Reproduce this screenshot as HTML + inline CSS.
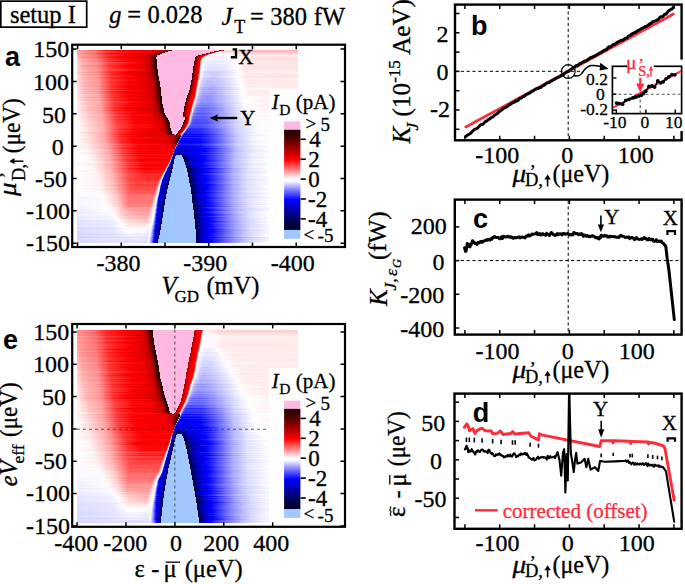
<!DOCTYPE html>
<html><head><meta charset="utf-8"><style>
html,body{margin:0;padding:0;background:#fff;width:685px;height:584px;overflow:hidden}
svg{position:absolute;left:0;top:0}
i{position:absolute;height:1px;display:block}
text{font-family:"Liberation Serif",serif;fill:#000;stroke:currentColor;stroke-width:0.3px}
</style></head><body>
<i style="top:50px;left:77px;width:221px;background:linear-gradient(90deg,#ffa0a0 0px,#ff8686 6.5px,#ff6e6e 16.5px,#ff2424 28.5px,#fc0000 41.5px,#e10000 79.5px,#bd0000 86.5px,#930000 89.5px,#5d0000 91.5px,#300 92.5px,#1c0000 93.5px,#1c0000 94.5px,#ffb8e2 95.5px,#ffb8e2 141.5px,#340000 142.5px,#840000 143.5px,#b40000 144.5px,#d20000 145.5px,#ff2424 146.5px,#ffd0d0 147.5px,#fffcfc 148.5px,#ffd6d6 150.5px,#ffcbcb 161.5px,#ffb7b7 167.5px,#ffb7b7 221px)"></i>
<i style="top:51px;left:77px;width:221px;background:linear-gradient(90deg,#ffa9a9 0px,#ff9090 6.5px,#f77 17.5px,#ff3535 29.5px,#ff0303 51.5px,#f30000 74.5px,#d60000 81.5px,#a60000 85.5px,#730000 87.5px,#1c0000 89.5px,#1c0000 90.5px,#ffb8e2 91.5px,#ffb8e2 136.5px,#1c0000 137.5px,#750000 138.5px,#ab0000 139.5px,#c00 140.5px,#fc0000 141.5px,#ffadad 142.5px,#fefeff 143.5px,#ffd6d6 146.5px,#ffcfcf 161.5px,#fbb 167.5px,#fbb 221px)"></i>
<i style="top:52px;left:77px;width:221px;background:linear-gradient(90deg,#ffb3b3 0px,#ff9a9a 6.5px,#ff8484 17.5px,#ff4242 30.5px,#ff1414 52.5px,#f80000 73.5px,#d70000 79.5px,#ad0000 82.5px,#700 84.5px,#1c0000 86.5px,#1c0000 87.5px,#ffb8e2 88.5px,#ffb8e2 132.5px,#420000 133.5px,#8d0000 134.5px,#ba0000 135.5px,#d50000 136.5px,#ff0909 137.5px,#ffb6b6 138.5px,#fcfcff 139.5px,#fff8f8 140.5px,#ffe3e3 142.5px,#ffdada 161.5px,#ffc6c6 167.5px,#ffc6c6 221px)"></i>
<i style="top:53px;left:77px;width:221px;background:linear-gradient(90deg,#ffa1a1 0px,#ff7f7f 5.5px,#ff6161 17.5px,#ff0e0e 29.5px,#fa0000 35.5px,#df0000 57.5px,#c00 71.5px,#a70000 77.5px,#760000 80.5px,#1c0000 83.5px,#1c0000 84.5px,#ffb8e2 85.5px,#ffb8e2 128.5px,#420000 129.5px,#8d0000 130.5px,#ba0000 131.5px,#e50000 133.5px,#ff4949 134.5px,#ffe3e3 135.5px,#fefeff 136.5px,#fff2f2 139.5px,#ffe5e5 161.5px,#ffd1d1 167.5px,#ffd1d1 221px)"></i>
<i style="top:54px;left:77px;width:221px;background:linear-gradient(90deg,#ffb8b8 0px,#f99 5.5px,#ff7b7b 18.5px,#ff3434 30.5px,#f00 51.5px,#ec0000 68.5px,#c90000 74.5px,#9e0000 77.5px,#600 79.5px,#3a0000 80.5px,#1c0000 81.5px,#1c0000 82.5px,#ffb8e2 83.5px,#ffb8e2 124.5px,#420000 125.5px,#8d0000 126.5px,#ba0000 127.5px,#e50000 129.5px,#f80000 130.5px,#ff8585 131.5px,#fffcfc 132.5px,#fefeff 150.5px,#fff5f5 161.5px,#ffe0e0 167.5px,#ffe0e0 221px)"></i>
<i style="top:55px;left:77px;width:221px;background:linear-gradient(90deg,#ffb9b9 0px,#ff9898 5.5px,#ff7b7b 18.5px,#f33 30.5px,#fd0000 50.5px,#e90000 66.5px,#c40000 72.5px,#950000 75.5px,#570000 77.5px,#260000 78.5px,#1c0000 79.5px,#ffb8e2 80.5px,#ffb8e2 120.5px,#420000 121.5px,#8d0000 122.5px,#ba0000 123.5px,#e50000 125.5px,#f60000 127.5px,#ff3636 128.5px,#ffcdcd 129.5px,#fdfdff 130.5px,#f1f1ff 143.5px,#fffafa 161.5px,#ffe6e6 167.5px,#ffe5e5 221px)"></i>
<i style="top:56px;left:77px;width:221px;background:linear-gradient(90deg,#ffbdbd 0px,#ff9797 5.5px,#ff7979 18.5px,#ff2525 31.5px,#fc0000 45.5px,#de0000 66.5px,#bf0000 71.5px,#940000 74.5px,#5c0000 76.5px,#300000 77.5px,#1c0000 78.5px,#1c0000 79.5px,#ffb8e2 80.5px,#ffb8e2 118.5px,#4a0000 119.5px,#910000 120.5px,#bc0000 121.5px,#e60000 123.5px,#ff0909 126.5px,#ff9494 127.5px,#fffefe 128.5px,#ebebff 138.5px,#fffbfb 161.5px,#ffe6e6 167.5px,#ffe5e5 221px)"></i>
<i style="top:57px;left:77px;width:221px;background:linear-gradient(90deg,#ffbebe 0px,#ff9595 5.5px,#ff7070 19.5px,#ff1e1e 31.5px,#fb0000 42.5px,#d70000 66.5px,#b70000 71.5px,#8b0000 74.5px,#500000 76.5px,#200 77.5px,#1c0000 78.5px,#ffb8e2 79.5px,#ffb8e2 117.5px,#320000 118.5px,#830000 119.5px,#b40000 120.5px,#e30000 122.5px,#f50000 124.5px,#ff5353 125.5px,#ffe4e4 126.5px,#fafaff 127.5px,#e7e7ff 136.5px,#fffdfd 161.5px,#ffe8e8 167.5px,#ffe7e7 221px)"></i>
<i style="top:58px;left:77px;width:221px;background:linear-gradient(90deg,#ffc8c8 0px,#ffa0a0 5.5px,#ff7f7f 19.5px,#ff3232 31.5px,#fd0000 50.5px,#e40000 66.5px,#c50000 71.5px,#900 74.5px,#5f0000 76.5px,#320000 77.5px,#1c0000 78.5px,#ffb8e2 79.5px,#ffb8e2 117.5px,#450000 118.5px,#8e0000 119.5px,#b00 120.5px,#e60000 122.5px,#f00000 123.5px,#ff5252 124.5px,#ffe5e5 125.5px,#fffbfb 126.5px,#f1f1ff 141.5px,#fffcfc 157.5px,#ffdede 168.5px,#ffdede 221px)"></i>
<i style="top:59px;left:77px;width:221px;background:linear-gradient(90deg,#ffd0d0 0px,#ffa3a3 6.5px,#ff8686 19.5px,#ff3434 32.5px,#fd0000 52.5px,#e70000 66.5px,#c80000 71.5px,#9d0000 74.5px,#640000 76.5px,#370000 77.5px,#1c0000 78.5px,#1c0000 79.5px,#ffb8e2 80.5px,#ffb8e2 117.5px,#570000 118.5px,#900 119.5px,#c10000 120.5px,#ff0101 123.5px,#ff9898 124.5px,#fff 125.5px,#ececff 136.5px,#fffbfb 160.5px,#ffe2e2 167.5px,#ffe2e2 221px)"></i>
<i style="top:60px;left:77px;width:221px;background:linear-gradient(90deg,#ffd5d5 0px,#ffa8a8 6.5px,#f88 20.5px,#ff3b3b 32.5px,#f00 55.5px,#e80000 67.5px,#c30000 72.5px,#8b0000 75.5px,#1c0000 78.5px,#1c0000 79.5px,#ffb8e2 80.5px,#ffb8e2 117.5px,#600 118.5px,#a20000 119.5px,#c70000 120.5px,#ea0000 122.5px,#ff3a3a 123.5px,#ffd6d6 124.5px,#fffefe 125.5px,#ececff 134.5px,#fffcfc 160.5px,#ffe3e3 167.5px,#ffe2e2 221px)"></i>
<i style="top:61px;left:77px;width:221px;background:linear-gradient(90deg,#ffd1d1 0px,#ffa1a1 6.5px,#ff7e7e 20.5px,#ff2b2b 32.5px,#fc0000 48.5px,#e00000 66.5px,#c20000 71.5px,#970000 74.5px,#600000 76.5px,#340000 77.5px,#1c0000 78.5px,#1c0000 79.5px,#ffb8e2 80.5px,#ffb8e2 116.5px,#1c0000 117.5px,#750000 118.5px,#ab0000 119.5px,#c00 120.5px,#e00 122.5px,#f66 123.5px,#fff1f1 124.5px,#fdfdff 125.5px,#e8e8ff 133.5px,#f2f2ff 149.5px,#fffdfd 160.5px,#ffe4e4 167.5px,#ffe3e3 221px)"></i>
<i style="top:62px;left:77px;width:221px;background:linear-gradient(90deg,#ffd5d5 0px,#ffaeae 6.5px,#ff9191 20.5px,#ff4b4b 32.5px,#fc0000 65.5px,#db0000 71.5px,#b10000 74.5px,#7a0000 76.5px,#1c0000 78.5px,#1c0000 79.5px,#ffb8e2 80.5px,#ffb8e2 116.5px,#300000 117.5px,#810000 118.5px,#b30000 119.5px,#e30000 121.5px,#f30000 122.5px,#f77 123.5px,#fff8f8 124.5px,#eaeaff 129.5px,#ebebff 146.5px,#fffafa 162.5px,#ffeaea 168.5px,#ffe9e9 221px)"></i>
<i style="top:63px;left:77px;width:221px;background:linear-gradient(90deg,#ffd6d6 0px,#ffacac 6.5px,#ff8e8e 20.5px,#ff4343 32.5px,#ff0404 58.5px,#e90000 68.5px,#c90000 72.5px,#930000 75.5px,#4a0000 77.5px,#1c0000 78.5px,#1c0000 79.5px,#ffb8e2 80.5px,#ffb8e2 116.5px,#430000 117.5px,#8d0000 118.5px,#ba0000 119.5px,#e60000 121.5px,#f90000 122.5px,#f88 123.5px,#fffcfc 124.5px,#e9e9ff 133.5px,#f6f6ff 151.5px,#fffdfd 160.5px,#ffe3e3 167.5px,#ffe3e3 221px)"></i>
<i style="top:64px;left:77px;width:221px;background:linear-gradient(90deg,#ffdada 0px,#ffadad 6.5px,#ff8c8c 20.5px,#ff3c3c 32.5px,#f00 54.5px,#e70000 67.5px,#c30000 72.5px,#8e0000 75.5px,#460000 77.5px,#1c0000 78.5px,#1c0000 79.5px,#ffb8e2 80.5px,#ffb8e2 116.5px,#500 117.5px,#980000 118.5px,#c00000 119.5px,#ff0101 122.5px,#f99 123.5px,#fff 124.5px,#e6e6ff 130.5px,#e8e8ff 145.5px,#fffcfc 161.5px,#ffe6e6 167.5px,#ffe5e5 221px)"></i>
<i style="top:65px;left:77px;width:221px;background:linear-gradient(90deg,#ffd0d0 0px,#ffa2a2 6.5px,#ff8282 20.5px,#ff2f2f 32.5px,#fc0000 49.5px,#df0000 67.5px,#b00 72.5px,#870000 75.5px,#1c0000 78.5px,#1c0000 79.5px,#ffb8e2 80.5px,#ffb8e2 116.5px,#650000 117.5px,#a10000 118.5px,#c60000 119.5px,#ea0000 121.5px,#ff0d0d 122.5px,#ffa9a9 123.5px,#fffdfd 124.5px,#e5e5ff 131.5px,#eaeaff 146.5px,#fffdfd 160.5px,#ffe3e3 167.5px,#ffe3e3 221px)"></i>
<i style="top:66px;left:77px;width:221px;background:linear-gradient(90deg,#ffd2d2 0px,#ffa3a3 6.5px,#ff8383 20.5px,#ff2e2e 32.5px,#fd0000 48.5px,#df0000 67.5px,#bc0000 72.5px,#8b0000 75.5px,#480000 77.5px,#1c0000 78.5px,#1c0000 79.5px,#ffb8e2 80.5px,#ffb8e2 115.5px,#1c0000 116.5px,#700000 117.5px,#a80000 118.5px,#ca0000 119.5px,#ec0000 121.5px,#ff1b1b 122.5px,#ffb8b8 123.5px,#fdfdff 124.5px,#e2e2ff 129.5px,#dfdfff 143.5px,#fffdfd 161.5px,#ffe7e7 167.5px,#ffe6e6 221px)"></i>
<i style="top:67px;left:77px;width:221px;background:linear-gradient(90deg,#ffd7d7 0px,#ffabab 6.5px,#ff8c8c 20.5px,#ff3838 33.5px,#fe0000 55.5px,#e50000 68.5px,#bd0000 73.5px,#7f0000 76.5px,#5b0000 77.5px,#2a0000 78.5px,#1c0000 79.5px,#ffb8e2 80.5px,#ffb8e2 115.5px,#230000 116.5px,#7a0000 117.5px,#ae0000 118.5px,#ce0000 119.5px,#ed0000 121.5px,#ff2a2a 122.5px,#ffc6c6 123.5px,#fefeff 124.5px,#e5e5ff 129.5px,#e4e4ff 144.5px,#fffefe 160.5px,#ffe4e4 167.5px,#ffe3e3 221px)"></i>
<i style="top:68px;left:77px;width:221px;background:linear-gradient(90deg,#ffdbdb 0px,#ffaeae 6.5px,#ff8f8f 20.5px,#ff3737 33.5px,#fe0000 53.5px,#e80000 67.5px,#c80000 72.5px,#9c0000 75.5px,#610000 77.5px,#300 78.5px,#1c0000 79.5px,#ffb8e2 80.5px,#ffb8e2 115.5px,#300 116.5px,#830000 117.5px,#b40000 118.5px,#e30000 120.5px,#e00 121.5px,#ff3939 122.5px,#ffd4d4 123.5px,#fcfcff 124.5px,#e0e0ff 129.5px,#dedeff 143.5px,#fffcfc 161.5px,#ffe5e5 167.5px,#ffe5e5 221px)"></i>
<i style="top:69px;left:77px;width:221px;background:linear-gradient(90deg,#ffdbdb 0px,#ffb0b0 7.5px,#ff9797 20.5px,#ff4949 33.5px,#ff0d0d 59.5px,#f70000 67.5px,#ce0000 73.5px,#970000 76.5px,#4c0000 78.5px,#1c0000 79.5px,#1c0000 80.5px,#ffb8e2 81.5px,#ffb8e2 115.5px,#420000 116.5px,#8c0000 117.5px,#b90000 118.5px,#e50000 120.5px,#ef0000 121.5px,#ff4949 122.5px,#ffdfdf 123.5px,#fcfcff 124.5px,#e3e3ff 130.5px,#e6e6ff 145.5px,#fffafa 161.5px,#ffe4e4 167.5px,#ffe4e4 221px)"></i>
<i style="top:70px;left:77px;width:221px;background:linear-gradient(90deg,#ffdcdc 0px,#ffb3b3 6.5px,#ff9696 20.5px,#ff4343 33.5px,#ff0606 58.5px,#e00 68.5px,#ca0000 73.5px,#960000 76.5px,#4e0000 78.5px,#1c0000 79.5px,#1c0000 80.5px,#ffb8e2 81.5px,#ffb8e2 115.5px,#4f0000 116.5px,#940000 117.5px,#be0000 118.5px,#e70000 120.5px,#f10000 121.5px,#ff5e5e 122.5px,#ffecec 123.5px,#f4f4ff 124.5px,#dbdbff 129.5px,#dadaff 143.5px,#fffbfb 162.5px,#ffeaea 168.5px,#ffe9e9 221px)"></i>
<i style="top:71px;left:77px;width:221px;background:linear-gradient(90deg,#ffe1e1 0px,#ffb2b2 6.5px,#ff9191 20.5px,#f33 33.5px,#fc0000 51.5px,#e10000 68.5px,#be0000 73.5px,#8a0000 76.5px,#450000 78.5px,#1c0000 79.5px,#1c0000 80.5px,#ffb8e2 81.5px,#ffb8e2 115.5px,#5c0000 116.5px,#9c0000 117.5px,#c30000 118.5px,#e90000 120.5px,#f60000 121.5px,#fff7f7 123.5px,#dfdfff 126.5px,#cdcdff 134.5px,#d9d9ff 146.5px,#fffcfc 162.5px,#ffeaea 168.5px,#ffeaea 221px)"></i>
<i style="top:72px;left:77px;width:221px;background:linear-gradient(90deg,#ffd5d5 0px,#ffa7a7 6.5px,#ff8787 20.5px,#ff2828 33.5px,#fc0000 47.5px,#da0000 68.5px,#b80000 73.5px,#860000 76.5px,#420000 78.5px,#1c0000 79.5px,#1c0000 80.5px,#ffb8e2 81.5px,#ffb8e2 115.5px,#670000 116.5px,#a30000 117.5px,#c70000 118.5px,#fd0000 121.5px,#ff8f8f 122.5px,#fffdfd 123.5px,#dfdfff 125.5px,#c8c8ff 131.5px,#ccf 143.5px,#fffdfd 163.5px,#ffefef 169.5px,#ffefef 221px)"></i>
<i style="top:73px;left:77px;width:221px;background:linear-gradient(90deg,#ffdbdb 0px,#ffb0b0 6.5px,#ff9292 20.5px,#ff3838 33.5px,#fe0000 53.5px,#e60000 68.5px,#c40000 73.5px,#930000 76.5px,#510000 78.5px,#1d0000 79.5px,#1c0000 80.5px,#ffb8e2 81.5px,#ffb8e2 114.5px,#1c0000 115.5px,#720000 116.5px,#a90000 117.5px,#cb0000 118.5px,#ec0000 120.5px,#ff0d0d 121.5px,#ffa7a7 122.5px,#fcfcff 123.5px,#d9d9ff 127.5px,#ceceff 139.5px,#fffcfc 162.5px,#ffeaea 168.5px,#ffe9e9 221px)"></i>
<i style="top:74px;left:77px;width:221px;background:linear-gradient(90deg,#ffdede 0px,#ffaeae 6.5px,#ff8d8d 20.5px,#ff2929 33.5px,#fd0000 46.5px,#da0000 68.5px,#b90000 73.5px,#890000 76.5px,#4a0000 78.5px,#1c0000 79.5px,#1c0000 80.5px,#ffb8e2 81.5px,#ffb8e2 114.5px,#270000 115.5px,#7c0000 116.5px,#b00000 117.5px,#cf0000 118.5px,#ed0000 120.5px,#ff2020 121.5px,#ffbdbd 122.5px,#fdfdff 123.5px,#dadaff 126.5px,#c8c8ff 134.5px,#d5d5ff 145.5px,#fff 161.5px,#ffe7e7 168.5px,#ffe6e6 221px)"></i>
<i style="top:75px;left:77px;width:221px;background:linear-gradient(90deg,#ffdada 0px,#ffacac 7.5px,#ff8e8e 21.5px,#ff3b3b 33.5px,#fe0000 55.5px,#e90000 68.5px,#ca0000 73.5px,#9d0000 76.5px,#610000 78.5px,#320000 79.5px,#1c0000 80.5px,#ffb8e2 81.5px,#ffb8e2 114.5px,#370000 115.5px,#860000 116.5px,#b50000 117.5px,#e40000 119.5px,#ef0000 120.5px,#ff3636 121.5px,#ffd1d1 122.5px,#f9f9ff 123.5px,#d8d8ff 127.5px,#cfcfff 139.5px,#fffbfb 162.5px,#ffe9e9 168.5px,#ffe7e7 221px)"></i>
<i style="top:76px;left:77px;width:221px;background:linear-gradient(90deg,#ffe5e5 0px,#ffb6b6 7.5px,#ff9c9c 20.5px,#ff4141 33.5px,#f00 56.5px,#e80000 69.5px,#c30000 74.5px,#8b0000 77.5px,#1c0000 80.5px,#1c0000 81.5px,#ffb8e2 82.5px,#ffb8e2 114.5px,#450000 115.5px,#8e0000 116.5px,#b00 117.5px,#e60000 119.5px,#f00000 120.5px,#ff4e4e 121.5px,#ffe2e2 122.5px,#fdfdff 123.5px,#dadaff 127.5px,#d1d1ff 139.5px,#fffefe 160.5px,#ffe3e3 168.5px,#ffe1e1 221px)"></i>
<i style="top:77px;left:77px;width:221px;background:linear-gradient(90deg,#ffdbdb 0px,#ffadad 6.5px,#ff8989 21.5px,#ff2c2c 33.5px,#fd0000 47.5px,#de0000 68.5px,#b70000 74.5px,#830000 77.5px,#1c0000 80.5px,#1c0000 81.5px,#ffb8e2 82.5px,#ffb8e2 114.5px,#520000 115.5px,#960000 116.5px,#c00000 117.5px,#e80000 119.5px,#f20000 120.5px,#f66 121.5px,#fff0f0 122.5px,#f7f7ff 123.5px,#d7d7ff 126.5px,#c7c7ff 135.5px,#e3e3ff 149.5px,#fffefe 161.5px,#ffe5e5 168.5px,#ffe4e4 221px)"></i>
<i style="top:78px;left:77px;width:221px;background:linear-gradient(90deg,#ffe1e1 0px,#ffb1b1 7.5px,#ff9292 21.5px,#ff3636 33.5px,#fd0000 51.5px,#e20000 69.5px,#c00000 74.5px,#8e0000 77.5px,#4c0000 79.5px,#1c0000 80.5px,#1c0000 81.5px,#ffb8e2 82.5px,#ffb8e2 114.5px,#5f0000 115.5px,#9e0000 116.5px,#c40000 117.5px,#f80000 120.5px,#fff9f9 122.5px,#d5d5ff 125.5px,#c1c1ff 131.5px,#c8c8ff 142.5px,#fffcfc 163.5px,#ffeded 169.5px,#ffebeb 221px)"></i>
<i style="top:79px;left:77px;width:221px;background:linear-gradient(90deg,#ffdcdc 0px,#ffaeae 7.5px,#ff9191 21.5px,#ff3636 34.5px,#fe0000 54.5px,#e70000 69.5px,#c60000 74.5px,#970000 77.5px,#590000 79.5px,#270000 80.5px,#1c0000 81.5px,#ffb8e2 82.5px,#ffb8e2 114.5px,#6a0000 115.5px,#a50000 116.5px,#c80000 117.5px,#ff0505 120.5px,#ff9d9d 121.5px,#fff 122.5px,#dcdcff 124.5px,#c3c3ff 129.5px,#c6c6ff 141.5px,#fff 163.5px,#fff0f0 170.5px,#fee 221px)"></i>
<i style="top:80px;left:77px;width:221px;background:linear-gradient(90deg,#ffe3e3 0px,#ffb5b5 7.5px,#ff9898 21.5px,#ff3b3b 34.5px,#fe0000 56.5px,#ea0000 69.5px,#cb0000 74.5px,#9e0000 77.5px,#640000 79.5px,#350000 80.5px,#1c0000 81.5px,#ffb8e2 82.5px,#ffb8e2 113.5px,#1c0000 114.5px,#750000 115.5px,#ab0000 116.5px,#c00 117.5px,#ec0000 119.5px,#ff1d1d 120.5px,#ffbaba 121.5px,#fcfcff 122.5px,#d6d6ff 125.5px,#c3c3ff 132.5px,#d1d1ff 144.5px,#fffefe 162.5px,#ffeaea 169.5px,#ffe8e8 221px)"></i>
<i style="top:81px;left:77px;width:221px;background:linear-gradient(90deg,#ffe5e5 0px,#ffb5b5 7.5px,#ff9696 21.5px,#ff3434 34.5px,#fe0000 51.5px,#e40000 69.5px,#b00 75.5px,#840000 78.5px,#1c0000 81.5px,#1c0000 82.5px,#ffb8e2 83.5px,#ffb8e2 113.5px,#2c0000 114.5px,#7f0000 115.5px,#b10000 116.5px,#d00000 117.5px,#e00 119.5px,#ff3939 120.5px,#ffd4d4 121.5px,#f0f0ff 122.5px,#c7c7ff 125.5px,#b4b4ff 132.5px,#c1c1ff 143.5px,#fffdfd 164.5px,#fff1f1 173.5px,#fff0f0 221px)"></i>
<i style="top:82px;left:77px;width:221px;background:linear-gradient(90deg,#fdd 0px,#ffafaf 7.5px,#ff9191 21.5px,#ff3131 34.5px,#fc0000 51.5px,#e30000 69.5px,#bc0000 75.5px,#890000 78.5px,#420000 80.5px,#1c0000 81.5px,#1c0000 82.5px,#ffb8e2 83.5px,#ffb8e2 113.5px,#3b0000 114.5px,#800 115.5px,#b70000 116.5px,#e50000 118.5px,#ef0000 119.5px,#ff5858 120.5px,#ffe9e9 121.5px,#f5f5ff 122.5px,#cfcfff 125.5px,#bdbdff 133.5px,#d2d2ff 145.5px,#fffefe 162.5px,#ffe9e9 169.5px,#ffe7e7 221px)"></i>
<i style="top:83px;left:77px;width:221px;background:linear-gradient(90deg,#ffe4e4 0px,#ffb5b5 7.5px,#ff9797 21.5px,#ff3535 34.5px,#fd0000 52.5px,#e20000 70.5px,#c00000 75.5px,#8f0000 78.5px,#4d0000 80.5px,#1c0000 81.5px,#1c0000 82.5px,#ffb8e2 83.5px,#ffb8e2 113.5px,#4c0000 114.5px,#920000 115.5px,#bd0000 116.5px,#e70000 118.5px,#f50000 119.5px,#fff7f7 121.5px,#d2d2ff 124.5px,#babaff 130.5px,#c2c2ff 141.5px,#fffcfc 163.5px,#ffebeb 170.5px,#ffe9e9 221px)"></i>
<i style="top:84px;left:77px;width:221px;background:linear-gradient(90deg,#ffe1e1 0px,#ffb3b3 7.5px,#ff9696 21.5px,#ff3636 34.5px,#fd0000 53.5px,#e40000 70.5px,#c30000 75.5px,#940000 78.5px,#500 80.5px,#200 81.5px,#1c0000 82.5px,#ffb8e2 83.5px,#ffb8e2 113.5px,#5d0000 114.5px,#9d0000 115.5px,#c30000 116.5px,#f00 119.5px,#ff9797 120.5px,#fff 121.5px,#d7d7ff 123.5px,#bbf 127.5px,#b7b7ff 138.5px,#fffcfc 164.5px,#ffefef 172.5px,#ffeded 221px)"></i>
<i style="top:85px;left:77px;width:221px;background:linear-gradient(90deg,#ffe4e4 0px,#ffb6b6 7.5px,#f99 21.5px,#ff3636 34.5px,#fe0000 52.5px,#e30000 70.5px,#c40000 75.5px,#970000 78.5px,#5b0000 80.5px,#2b0000 81.5px,#1c0000 82.5px,#ffb8e2 83.5px,#ffb8e2 112.5px,#1c0000 113.5px,#6d0000 114.5px,#a60000 115.5px,#c90000 116.5px,#eb0000 118.5px,#ff1818 119.5px,#ffb5b5 120.5px,#fdfdff 121.5px,#d7d7ff 123.5px,#bbf 127.5px,#b7b7ff 137.5px,#fffdfd 163.5px,#ffebeb 170.5px,#ffe9e9 221px)"></i>
<i style="top:86px;left:77px;width:221px;background:linear-gradient(90deg,#ffdbdb 0px,#ffacac 7.5px,#ff9090 21.5px,#ff2c2c 34.5px,#fd0000 48.5px,#d00 70.5px,#bf0000 75.5px,#930000 78.5px,#5a0000 80.5px,#2d0000 81.5px,#1c0000 82.5px,#ffb8e2 83.5px,#ffb8e2 112.5px,#260000 113.5px,#7b0000 114.5px,#af0000 115.5px,#cf0000 116.5px,#ed0000 118.5px,#ff3434 119.5px,#ffcfcf 120.5px,#fcfcff 121.5px,#d6d6ff 123.5px,#bbf 127.5px,#b8b8ff 137.5px,#fff 162.5px,#ffe9e9 169.5px,#ffe5e5 221px)"></i>
<i style="top:87px;left:77px;width:221px;background:linear-gradient(90deg,#ffebeb 0px,#ffbaba 7.5px,#ff9c9c 21.5px,#ff3131 34.5px,#fd0000 49.5px,#de0000 70.5px,#b60000 76.5px,#800000 79.5px,#360000 81.5px,#1c0000 82.5px,#1c0000 83.5px,#ffb8e2 84.5px,#ffb8e2 112.5px,#3b0000 113.5px,#800 114.5px,#b70000 115.5px,#e40000 117.5px,#ef0000 118.5px,#ff5252 119.5px,#ffe5e5 120.5px,#eef 121.5px,#c6c6ff 123.5px,#aaf 127.5px,#a8a8ff 137.5px,#fffefe 164.5px,#ffefef 172.5px,#ffeded 221px)"></i>
<i style="top:88px;left:77px;width:221px;background:linear-gradient(90deg,#ffe5e5 0px,#ffb9b9 7.5px,#ff9e9e 21.5px,#ff3838 35.5px,#fe0000 55.5px,#e90000 70.5px,#c20000 76.5px,#8e0000 79.5px,#470000 81.5px,#1c0000 82.5px,#1c0000 83.5px,#ffb8e2 84.5px,#ffb8e2 112.5px,#4e0000 113.5px,#940000 114.5px,#be0000 115.5px,#e70000 117.5px,#f30000 118.5px,#ff6d6d 119.5px,#fff3f3 120.5px,#d0d0ff 122.5px,#b3b3ff 125.5px,#a6a6ff 134.5px,#f9f9ff 164.5px,#fff5f5 197.5px,#fff5f5 221px)"></i>
<i style="top:89px;left:77px;width:192px;background:linear-gradient(90deg,#ffe1e1 0px,#ffb1b1 7.5px,#ff9494 21.5px,#ff5a5a 28.5px,#ff2525 35.5px,#fc0000 47.5px,#d70000 71.5px,#b50000 76.5px,#830000 79.5px,#1c0000 82.5px,#1c0000 83.5px,#ffb8e2 84.5px,#ffb8e2 112.5px,#5f0000 113.5px,#9e0000 114.5px,#c40000 115.5px,#fa0000 118.5px,#f88 119.5px,#fffcfc 120.5px,#cbcbff 122.5px,#aaf 125.5px,#9c9cff 133.5px,#c3c3ff 147.5px,#fffefe 165.5px,#fff1f1 182.5px,#fff1f1 192px)"></i>
<i style="top:90px;left:77px;width:192px;background:linear-gradient(90deg,#ffebeb 0px,#ffbebe 8.5px,#ffa7a7 21.5px,#ff4242 35.5px,#ff0606 57.5px,#f00000 70.5px,#c00 76.5px,#9b0000 79.5px,#5a0000 81.5px,#250000 82.5px,#1c0000 83.5px,#ffb8e2 84.5px,#ffb8e2 111.5px,#1c0000 112.5px,#6f0000 113.5px,#a70000 114.5px,#ca0000 115.5px,#eb0000 117.5px,#ff0a0a 118.5px,#ffa3a3 119.5px,#fff 120.5px,#d2d2ff 122.5px,#b4b4ff 126.5px,#b0b0ff 136.5px,#fffdfd 164.5px,#ffefef 172.5px,#ffecec 192px)"></i>
<i style="top:91px;left:77px;width:192px;background:linear-gradient(90deg,#ffdfdf 0px,#ffb1b1 7.5px,#ff9595 21.5px,#ff5e5e 28.5px,#ff2828 35.5px,#fc0000 48.5px,#da0000 71.5px,#ba0000 76.5px,#8b0000 79.5px,#4d0000 81.5px,#1c0000 82.5px,#1c0000 83.5px,#ffb8e2 84.5px,#ffb8e2 111.5px,#280000 112.5px,#7d0000 113.5px,#b00000 114.5px,#cf0000 115.5px,#ed0000 117.5px,#ff1f1f 118.5px,#fbb 119.5px,#f8f8ff 120.5px,#c8c8ff 122.5px,#ababff 125.5px,#a0a0ff 134.5px,#fffcfc 165.5px,#fee 180.5px,#fee 192px)"></i>
<i style="top:92px;left:77px;width:192px;background:linear-gradient(90deg,#ffe7e7 0px,#ffb6b6 8.5px,#ff9d9d 21.5px,#ff6565 28.5px,#ff2e2e 35.5px,#fc0000 50.5px,#de0000 71.5px,#be0000 76.5px,#910000 79.5px,#540000 81.5px,#240000 82.5px,#1c0000 83.5px,#ffb8e2 84.5px,#ffb8e2 111.5px,#4f0000 112.5px,#940000 113.5px,#be0000 114.5px,#e70000 116.5px,#f10000 117.5px,#ff3838 118.5px,#ffd1d1 119.5px,#fafaff 120.5px,#cacaff 122.5px,#aaf 126.5px,#a6a6ff 135.5px,#fffefe 163.5px,#ffebeb 170.5px,#ffe6e6 192px)"></i>
<i style="top:93px;left:77px;width:192px;background:linear-gradient(90deg,#ffe3e3 0px,#ffb2b2 8.5px,#ff9a9a 21.5px,#ff6262 28.5px,#ff2b2b 35.5px,#fd0000 48.5px,#dc0000 71.5px,#bd0000 76.5px,#900000 79.5px,#500 81.5px,#260000 82.5px,#1c0000 83.5px,#ffb8e2 84.5px,#ffb8e2 110.5px,#1c0000 111.5px,#740000 112.5px,#ab0000 113.5px,#c00 114.5px,#ec0000 116.5px,#f40000 117.5px,#ff5353 118.5px,#ffe4e4 119.5px,#e9e9ff 120.5px,#bbf 122.5px,#9c9cff 126.5px,#99f 135.5px,#fffdfd 166.5px,#fff2f2 192px)"></i>
<i style="top:94px;left:77px;width:192px;background:linear-gradient(90deg,#ffeded 0px,#ffbfbf 8.5px,#ffa3a3 22.5px,#ff3d3d 35.5px,#f00 55.5px,#e80000 71.5px,#ca0000 76.5px,#9e0000 79.5px,#640000 81.5px,#360000 82.5px,#1c0000 83.5px,#ffb8e2 84.5px,#ffb8e2 110.5px,#4a0000 111.5px,#910000 112.5px,#bd0000 113.5px,#e70000 115.5px,#f80000 117.5px,#ff6e6e 118.5px,#fff2f2 119.5px,#eef 120.5px,#c5c5ff 122.5px,#a9a9ff 126.5px,#a7a7ff 135.5px,#fefeff 163.5px,#ffecec 171.5px,#ffe8e8 192px)"></i>
<i style="top:95px;left:77px;width:192px;background:linear-gradient(90deg,#ffeaea 0px,#fbb 8.5px,#ffa3a3 21.5px,#ff6c6c 28.5px,#f33 35.5px,#fd0000 51.5px,#e10000 71.5px,#c30000 76.5px,#980000 79.5px,#5f0000 81.5px,#300 82.5px,#1c0000 83.5px,#ffb8e2 84.5px,#ffb8e2 109.5px,#1c0000 110.5px,#710000 111.5px,#a90000 112.5px,#cb0000 113.5px,#ec0000 115.5px,#ff0303 117.5px,#ff8d8d 118.5px,#fffdfd 119.5px,#c6c6ff 121.5px,#a2a2ff 124.5px,#9393ff 131.5px,#b5b5ff 144.5px,#fffcfc 166.5px,#fff0f0 192px)"></i>
<i style="top:96px;left:77px;width:192px;background:linear-gradient(90deg,#ffeded 0px,#ffbebe 8.5px,#ffa2a2 22.5px,#ff3737 35.5px,#fe0000 52.5px,#e30000 71.5px,#b00 77.5px,#840000 80.5px,#1c0000 83.5px,#1c0000 84.5px,#ffb8e2 85.5px,#ffb8e2 109.5px,#3d0000 110.5px,#890000 111.5px,#b80000 112.5px,#e50000 114.5px,#f50000 116.5px,#ff2323 117.5px,#ffb9b9 118.5px,#f5f5ff 119.5px,#bdbdff 121.5px,#9d9dff 124.5px,#9191ff 132.5px,#c3c3ff 148.5px,#fff 166.5px,#fff2f2 192px)"></i>
<i style="top:97px;left:77px;width:192px;background:linear-gradient(90deg,#ffe1e1 0px,#ffb2b2 8.5px,#ff9797 22.5px,#ff2c2c 35.5px,#fd0000 48.5px,#dc0000 71.5px,#b50000 77.5px,#7f0000 80.5px,#360000 82.5px,#1c0000 83.5px,#1c0000 84.5px,#ffb8e2 85.5px,#ffb8e2 109.5px,#560000 110.5px,#900 111.5px,#c10000 112.5px,#e80000 114.5px,#f70000 116.5px,#ff4c4c 117.5px,#ffdede 118.5px,#ececff 119.5px,#b9b9ff 121.5px,#9b9bff 124.5px,#9191ff 132.5px,#c8c8ff 149.5px,#fffdfd 166.5px,#fff0f0 192px)"></i>
<i style="top:98px;left:77px;width:192px;background:linear-gradient(90deg,#fff0f0 0px,#ffc4c4 8.5px,#ffabab 22.5px,#ff4545 35.5px,#ff0505 56.5px,#ed0000 71.5px,#c60000 77.5px,#910000 80.5px,#490000 82.5px,#1c0000 83.5px,#1c0000 84.5px,#ffb8e2 85.5px,#ffb8e2 108.5px,#1c0000 109.5px,#6d0000 110.5px,#a60000 111.5px,#c90000 112.5px,#eb0000 114.5px,#fc0000 116.5px,#fff7f7 118.5px,#c5c5ff 120.5px,#a0a0ff 123.5px,#9191ff 130.5px,#b4b4ff 144.5px,#fffefe 167.5px,#fff4f4 192px)"></i>
<i style="top:99px;left:77px;width:192px;background:linear-gradient(90deg,#ffe8e8 0px,#ffbaba 8.5px,#ff9f9f 22.5px,#ff6464 29.5px,#ff2e2e 36.5px,#fc0000 51.5px,#e00000 71.5px,#ba0000 77.5px,#860000 80.5px,#1c0000 83.5px,#1c0000 84.5px,#ffb8e2 85.5px,#ffb8e2 108.5px,#2d0000 109.5px,#800000 110.5px,#b20000 111.5px,#e30000 113.5px,#f50000 115.5px,#ff1515 116.5px,#ffa8a8 117.5px,#fdfdff 118.5px,#d7d7ff 119.5px,#acacff 121.5px,#9191ff 125.5px,#9191ff 134.5px,#fffefe 166.5px,#fff0f0 189.5px,#fff0f0 192px)"></i>
<i style="top:100px;left:77px;width:192px;background:linear-gradient(90deg,#ffecec 0px,#ffbebe 8.5px,#ffa4a4 22.5px,#ff6a6a 29.5px,#f33 36.5px,#fe0000 52.5px,#e40000 71.5px,#be0000 77.5px,#8b0000 80.5px,#470000 82.5px,#1c0000 83.5px,#1c0000 84.5px,#ffb8e2 85.5px,#ffb8e2 108.5px,#490000 109.5px,#910000 110.5px,#bc0000 111.5px,#e60000 113.5px,#f60000 115.5px,#ff3b3b 116.5px,#ffd1d1 117.5px,#f1f1ff 118.5px,#b7b7ff 120.5px,#9696ff 123.5px,#8b8bff 131.5px,#bfbfff 147.5px,#fff 166.5px,#fff0f0 187.5px,#fff0f0 192px)"></i>
<i style="top:101px;left:77px;width:192px;background:linear-gradient(90deg,#fff1f1 0px,#ffc5c5 9.5px,#ffafaf 22.5px,#ff7272 30.5px,#ff4040 38.5px,#ff0909 60.5px,#f40000 71.5px,#d00000 77.5px,#a00000 80.5px,#600000 82.5px,#2d0000 83.5px,#1c0000 84.5px,#ffb8e2 85.5px,#ffb8e2 108.5px,#610000 109.5px,#9f0000 110.5px,#c50000 111.5px,#ea0000 113.5px,#f80000 115.5px,#ff6868 116.5px,#ffefef 117.5px,#e7e7ff 118.5px,#b8b8ff 120.5px,#9b9bff 124.5px,#9c9cff 134.5px,#fff 166.5px,#fff0f0 185.5px,#fff0f0 192px)"></i>
<i style="top:102px;left:77px;width:192px;background:linear-gradient(90deg,#fff1f1 0px,#ffc4c4 9.5px,#ffadad 22.5px,#f77 29.5px,#ff3e3e 37.5px,#ff0101 59.5px,#ec0000 72.5px,#cd0000 77.5px,#a00000 80.5px,#640000 82.5px,#340000 83.5px,#1c0000 84.5px,#ffb8e2 85.5px,#ffb8e2 107.5px,#1c0000 108.5px,#760000 109.5px,#ac0000 110.5px,#c00 111.5px,#ec0000 113.5px,#ff0808 115.5px,#ff9696 116.5px,#fffefe 117.5px,#d6d6ff 118.5px,#a8a8ff 120.5px,#8d8dff 124.5px,#9191ff 134.5px,#fffefe 168.5px,#fff4f4 192px)"></i>
<i style="top:103px;left:77px;width:192px;background:linear-gradient(90deg,#ffecec 0px,#ffbebe 9.5px,#ffa7a7 22.5px,#ff7171 29.5px,#ff3a3a 36.5px,#f00 54.5px,#e60000 72.5px,#c90000 77.5px,#9e0000 80.5px,#600 82.5px,#390000 83.5px,#1c0000 84.5px,#ffb8e2 85.5px,#ffb8e2 107.5px,#3a0000 108.5px,#800 109.5px,#b70000 110.5px,#e40000 112.5px,#f50000 114.5px,#ff2a2a 115.5px,#ffc2c2 116.5px,#f2f2ff 117.5px,#cacaff 118.5px,#9f9fff 120.5px,#8787ff 124.5px,#8c8cff 134.5px,#eaeaff 162.5px,#fffcfc 169.5px,#fff3f3 192px)"></i>
<i style="top:104px;left:77px;width:192px;background:linear-gradient(90deg,#ffeded 0px,#ffbebe 9.5px,#ffa7a7 22.5px,#ff7171 29.5px,#ff3434 37.5px,#fe0000 54.5px,#e60000 72.5px,#bf0000 78.5px,#8b0000 81.5px,#430000 83.5px,#1c0000 84.5px,#1c0000 85.5px,#ffb8e2 86.5px,#ffb8e2 107.5px,#4e0000 108.5px,#940000 109.5px,#be0000 110.5px,#e70000 112.5px,#f60000 114.5px,#ff5050 115.5px,#ffe2e2 116.5px,#e8e8ff 117.5px,#c2c2ff 118.5px,#9b9bff 120.5px,#8585ff 124.5px,#8c8cff 134.5px,#ebebff 161.5px,#fffcfc 168.5px,#ffefef 192px)"></i>
<i style="top:105px;left:77px;width:192px;background:linear-gradient(90deg,#fff8f8 0px,#ffc5c5 9.5px,#ffabab 22.5px,#ff7171 29.5px,#ff3434 36.5px,#fd0000 50.5px,#db0000 73.5px,#ba0000 78.5px,#800 81.5px,#450000 83.5px,#1c0000 84.5px,#1c0000 85.5px,#ffb8e2 86.5px,#ffb8e2 107.5px,#5e0000 108.5px,#9d0000 109.5px,#c40000 110.5px,#e90000 112.5px,#fb0000 114.5px,#fff7f7 116.5px,#afafff 118.5px,#8686ff 120.5px,#7171ff 124.5px,#7878ff 133.5px,#e9e9ff 161.5px,#fffefe 168.5px,#ffefef 190.5px,#ffefef 192px)"></i>
<i style="top:106px;left:77px;width:192px;background:linear-gradient(90deg,#fff2f2 0px,#ffc1c1 10.5px,#ffa8a8 23.5px,#ff3c3c 37.5px,#f00 57.5px,#e80000 73.5px,#c80000 78.5px,#900 81.5px,#5b0000 83.5px,#280000 84.5px,#1c0000 85.5px,#ffb8e2 86.5px,#ffb8e2 106.5px,#1c0000 107.5px,#6c0000 108.5px,#a60000 109.5px,#c90000 110.5px,#eb0000 112.5px,#f30000 113.5px,#ff0e0e 114.5px,#ffa0a0 115.5px,#fff 116.5px,#cfcfff 117.5px,#b0b0ff 118.5px,#9191ff 120.5px,#7f7fff 126.5px,#9898ff 138.5px,#ebebff 161.5px,#fffbfb 169.5px,#ffefef 192px)"></i>
<i style="top:107px;left:77px;width:192px;background:linear-gradient(90deg,#fee 0px,#ffbaba 10.5px,#ff9e9e 23.5px,#ff2a2a 37.5px,#fd0000 49.5px,#db0000 73.5px,#bc0000 78.5px,#900000 81.5px,#500 83.5px,#260000 84.5px,#1c0000 85.5px,#ffb8e2 86.5px,#ffb8e2 106.5px,#200 107.5px,#790000 108.5px,#ae0000 109.5px,#ce0000 110.5px,#ed0000 112.5px,#f40000 113.5px,#ff2c2c 114.5px,#ffc5c5 115.5px,#eef 116.5px,#b9b9ff 117.5px,#99f 118.5px,#7a7aff 120.5px,#6a6aff 126.5px,#8383ff 137.5px,#e3e3ff 160.5px,#fffdfd 170.5px,#fff2f2 192px)"></i>
<i style="top:108px;left:77px;width:192px;background:linear-gradient(90deg,#fff3f3 0px,#ffbebe 10.5px,#ffa2a2 23.5px,#ff5a5a 31.5px,#ff2121 39.5px,#fd0000 49.5px,#db0000 73.5px,#b30000 79.5px,#7c0000 82.5px,#5d0000 83.5px,#310000 84.5px,#1c0000 85.5px,#1c0000 86.5px,#ffb8e2 87.5px,#ffb8e2 106.5px,#360000 107.5px,#850000 108.5px,#b50000 109.5px,#e40000 111.5px,#f50000 113.5px,#ff5151 114.5px,#ffe3e3 115.5px,#dadaff 116.5px,#a7a7ff 117.5px,#8989ff 118.5px,#6d6dff 120.5px,#6060ff 126.5px,#7c7cff 137.5px,#e0e0ff 160.5px,#fffdfd 171.5px,#fff4f4 192px)"></i>
<i style="top:109px;left:77px;width:192px;background:linear-gradient(90deg,#fff5f5 0px,#ffc3c3 10.5px,#ffa7a7 23.5px,#ff6363 31.5px,#ff2b2b 39.5px,#fd0000 53.5px,#e20000 73.5px,#bc0000 79.5px,#890000 82.5px,#430000 84.5px,#1c0000 85.5px,#1c0000 86.5px,#ffb8e2 87.5px,#ffb8e2 106.5px,#480000 107.5px,#900000 108.5px,#bc0000 109.5px,#e60000 111.5px,#fa0000 113.5px,#fff7f7 115.5px,#a7a7ff 117.5px,#8080ff 119.5px,#6d6dff 124.5px,#8181ff 135.5px,#e9e9ff 160.5px,#fffbfb 169.5px,#ffecec 189.5px,#ffecec 192px)"></i>
<i style="top:110px;left:77px;width:192px;background:linear-gradient(90deg,#ffecec 0px,#ffb6b6 11.5px,#ff9d9d 23.5px,#ff5959 31.5px,#ff1f1f 39.5px,#fc0000 49.5px,#d80000 74.5px,#b70000 79.5px,#870000 82.5px,#450000 84.5px,#1c0000 85.5px,#1c0000 86.5px,#ffb8e2 87.5px,#ffb8e2 106.5px,#580000 107.5px,#9a0000 108.5px,#c20000 109.5px,#e80000 111.5px,#f10000 112.5px,#ff0d0d 113.5px,#ffa1a1 114.5px,#fff 115.5px,#b9b9ff 116.5px,#9191ff 117.5px,#6e6eff 119.5px,#5e5eff 125.5px,#7878ff 136.5px,#dfdfff 160.5px,#fffdfd 172.5px,#fff4f4 192px)"></i>
<i style="top:111px;left:77px;width:192px;background:linear-gradient(90deg,#fff5f5 0px,#ffc3c3 11.5px,#ffabab 23.5px,#ff6c6c 31.5px,#ff3636 39.5px,#f00 57.5px,#e80000 74.5px,#c90000 79.5px,#9b0000 82.5px,#5e0000 84.5px,#2c0000 85.5px,#1c0000 86.5px,#ffb8e2 87.5px,#ffb8e2 106.5px,#650000 107.5px,#a20000 108.5px,#c60000 109.5px,#ea0000 111.5px,#f20000 112.5px,#ff2d2d 113.5px,#ffc6c6 114.5px,#ededff 115.5px,#b3b3ff 116.5px,#9393ff 117.5px,#7878ff 119.5px,#6d6dff 126.5px,#9292ff 139.5px,#e5e5ff 160.5px,#fffdfd 171.5px,#fff2f2 192px)"></i>
<i style="top:112px;left:77px;width:192px;background:linear-gradient(90deg,#fff4f4 0px,#ffc2c2 12.5px,#ffa7a7 24.5px,#ff3d3d 38.5px,#f00 58.5px,#ea0000 74.5px,#c00 79.5px,#a10000 82.5px,#670000 84.5px,#390000 85.5px,#1c0000 86.5px,#ffb8e2 87.5px,#ffb8e2 105.5px,#1c0000 106.5px,#700000 107.5px,#a80000 108.5px,#ca0000 109.5px,#ec0000 111.5px,#f30000 112.5px,#ff5252 113.5px,#ffe4e4 114.5px,#d6d6ff 115.5px,#a3a3ff 116.5px,#88f 117.5px,#6d6dff 120.5px,#7070ff 130.5px,#e6e6ff 162.5px,#fffcfc 173.5px,#fff5f5 192px)"></i>
<i style="top:113px;left:77px;width:192px;background:linear-gradient(90deg,#fff8f8 0px,#ffc2c2 11.5px,#ffa7a7 23.5px,#ff6e6e 30.5px,#ff2c2c 38.5px,#fd0000 50.5px,#da0000 75.5px,#b90000 80.5px,#870000 83.5px,#400 85.5px,#1c0000 86.5px,#1c0000 87.5px,#ffb8e2 88.5px,#ffb8e2 105.5px,#240000 106.5px,#7a0000 107.5px,#ae0000 108.5px,#ce0000 109.5px,#f80000 112.5px,#fff7f7 114.5px,#bebeff 115.5px,#8989ff 116.5px,#6e6eff 117.5px,#5454ff 120.5px,#5858ff 129.5px,#9e9eff 145.5px,#e6e6ff 162.5px,#fffdfd 172.5px,#fff2f2 192px)"></i>
<i style="top:114px;left:77px;width:192px;background:linear-gradient(90deg,#fffbfb 0px,#ffc9c9 12.5px,#ffaeae 24.5px,#f44 38.5px,#ff0808 57.5px,#f40000 73.5px,#d00000 80.5px,#a50000 83.5px,#6c0000 85.5px,#1c0000 87.5px,#ffb8e2 88.5px,#ffb8e2 105.5px,#300 106.5px,#830000 107.5px,#b40000 108.5px,#e30000 110.5px,#ff0a0a 112.5px,#ffa0a0 113.5px,#fff 114.5px,#afafff 115.5px,#8787ff 116.5px,#6a6aff 118.5px,#6262ff 126.5px,#8e8eff 140.5px,#e0e0ff 161.5px,#fffefe 176.5px,#fff9f9 192px)"></i>
<i style="top:115px;left:77px;width:192px;background:linear-gradient(90deg,#fff7f7 0px,#ffc5c5 13.5px,#ffadad 24.5px,#ff4646 38.5px,#ff0c0c 57.5px,#f70000 73.5px,#d70000 80.5px,#b10000 83.5px,#800000 85.5px,#590000 86.5px,#240000 87.5px,#1c0000 88.5px,#ffb8e2 89.5px,#ffb8e2 105.5px,#420000 106.5px,#8c0000 107.5px,#b90000 108.5px,#e50000 110.5px,#ef0000 111.5px,#ff2929 112.5px,#ffc4c4 113.5px,#ebebff 114.5px,#a8a8ff 115.5px,#88f 116.5px,#7171ff 118.5px,#6d6dff 127.5px,#a5a5ff 143.5px,#e9e9ff 162.5px,#fffbfb 173.5px,#fff2f2 192px)"></i>
<i style="top:116px;left:77px;width:192px;background:linear-gradient(90deg,#fff5f5 0px,#ffc0c0 13.5px,#ffa6a6 24.5px,#ff3838 38.5px,#f00 54.5px,#e40000 76.5px,#c70000 81.5px,#9c0000 84.5px,#630000 86.5px,#360000 87.5px,#1c0000 88.5px,#ffb8e2 89.5px,#ffb8e2 105.5px,#4f0000 106.5px,#940000 107.5px,#be0000 108.5px,#e70000 110.5px,#f10000 111.5px,#ff4d4d 112.5px,#ffe2e2 113.5px,#d0d0ff 114.5px,#9090ff 115.5px,#7272ff 116.5px,#5e5eff 118.5px,#5f5fff 128.5px,#a0a0ff 144.5px,#e8e8ff 162.5px,#fffdfd 172.5px,#fff1f1 192px)"></i>
<i style="top:117px;left:77px;width:192px;background:linear-gradient(90deg,#fff7f7 0px,#ffc2c2 13.5px,#ffa8a8 24.5px,#ff3535 39.5px,#fe0000 55.5px,#e60000 76.5px,#c20000 82.5px,#920000 85.5px,#4f0000 87.5px,#1c0000 88.5px,#1c0000 89.5px,#ffb8e2 90.5px,#ffb8e2 107.5px,#5e0000 108.5px,#9d0000 109.5px,#df0000 111.5px,#ff6969 112.5px,#fff6f6 113.5px,#afafff 114.5px,#7878ff 115.5px,#6060ff 116.5px,#4e4eff 119.5px,#5959ff 130.5px,#dadaff 160.5px,#fffefe 177.5px,#fff8f8 192px)"></i>
<i style="top:118px;left:77px;width:192px;background:linear-gradient(90deg,#fff6f6 0px,#ffc4c4 14.5px,#faa 25.5px,#ff4646 39.5px,#ff0e0e 58.5px,#f80000 75.5px,#d60000 82.5px,#ac0000 85.5px,#750000 87.5px,#1c0000 89.5px,#1c0000 90.5px,#ffb8e2 91.5px,#ffb8e2 107.5px,#530000 108.5px,#970000 109.5px,#e70000 111.5px,#ff8a8a 112.5px,#fffefe 113.5px,#a3a3ff 114.5px,#7979ff 115.5px,#6060ff 117.5px,#6060ff 127.5px,#9d9dff 144.5px,#e0e0ff 163.5px,#fdfdff 181.5px,#fffefe 192px)"></i>
<i style="top:119px;left:77px;width:192px;background:linear-gradient(90deg,#fff8f8 0px,#ffc1c1 14.5px,#ffa9a9 24.5px,#ff5f5f 33.5px,#ff2525 42.5px,#fc0000 55.5px,#e40000 77.5px,#c20000 83.5px,#950000 86.5px,#570000 88.5px,#250000 89.5px,#1c0000 90.5px,#ffb8e2 91.5px,#ffb8e2 107.5px,#650000 108.5px,#a10000 109.5px,#c60000 110.5px,#f70000 111.5px,#ffa8a8 112.5px,#f4f4ff 113.5px,#8e8eff 114.5px,#6363ff 115.5px,#4b4bff 117.5px,#4d4dff 127.5px,#8c8cff 142.5px,#ddf 160.5px,#fffcfc 175.5px,#fff4f4 192px)"></i>
<i style="top:120px;left:77px;width:192px;background:linear-gradient(90deg,#fffcfc 0px,#ffc7c7 14.5px,#ffabab 25.5px,#ff3f3f 39.5px,#ff0303 57.5px,#e00 77.5px,#d00000 83.5px,#a90000 86.5px,#760000 88.5px,#1c0000 90.5px,#1c0000 91.5px,#ffb8e2 92.5px,#ffb8e2 106.5px,#300000 107.5px,#810000 108.5px,#b30000 109.5px,#d10000 110.5px,#ff1515 111.5px,#ffc4c4 112.5px,#d8d8ff 113.5px,#8181ff 114.5px,#5f5fff 115.5px,#4c4cff 117.5px,#5050ff 127.5px,#9393ff 143.5px,#dedeff 161.5px,#fffdfd 177.5px,#fff7f7 192px)"></i>
<i style="top:121px;left:77px;width:192px;background:linear-gradient(90deg,#fffafa 0px,#ffc7c7 14.5px,#ffabab 25.5px,#ff4242 39.5px,#ff0707 57.5px,#f20000 77.5px,#d70000 83.5px,#b50000 86.5px,#8a0000 88.5px,#680000 89.5px,#390000 90.5px,#1c0000 91.5px,#ffb8e2 92.5px,#ffb8e2 106.5px,#560000 107.5px,#980000 108.5px,#c10000 109.5px,#d90000 110.5px,#ff3737 111.5px,#ffdbdb 112.5px,#c0c0ff 113.5px,#77f 114.5px,#5b5bff 115.5px,#4c4cff 118.5px,#5858ff 129.5px,#ddf 161.5px,#fffefe 178.5px,#fff9f9 192px)"></i>
<i style="top:122px;left:77px;width:192px;background:linear-gradient(90deg,#fffafa 0px,#ffc5c5 15.5px,#faa 25.5px,#ff3f3f 39.5px,#ff0202 57.5px,#ec0000 78.5px,#cd0000 84.5px,#a30000 87.5px,#6c0000 89.5px,#1c0000 91.5px,#1c0000 92.5px,#ffb8e2 93.5px,#ffb8e2 105.5px,#1c0000 106.5px,#750000 107.5px,#ab0000 108.5px,#e10000 110.5px,#ff5858 111.5px,#ffeded 112.5px,#a3a3ff 113.5px,#6363ff 114.5px,#4b4bff 115.5px,#3f3fff 119.5px,#5050ff 130.5px,#d5d5ff 160.5px,#fefeff 181.5px,#fffdfd 192px)"></i>
<i style="top:123px;left:77px;width:192px;background:linear-gradient(90deg,#fcfcff 0px,#fff2f2 5.5px,#ffcfcf 14.5px,#ffb3b3 25.5px,#ff4343 40.5px,#ff0808 58.5px,#f40000 77.5px,#d40000 84.5px,#ac0000 87.5px,#780000 89.5px,#1c0000 91.5px,#1c0000 92.5px,#ffb8e2 93.5px,#ffb8e2 105.5px,#460000 106.5px,#8f0000 107.5px,#b00 108.5px,#f70000 110.5px,#f99 111.5px,#fff 112.5px,#8181ff 113.5px,#55f 114.5px,#4141ff 116.5px,#4848ff 127.5px,#9898ff 145.5px,#e0e0ff 163.5px,#fffefe 181.5px,#fffbfb 192px)"></i>
<i style="top:124px;left:77px;width:192px;background:linear-gradient(90deg,#fff6f6 0px,#ffc3c3 16.5px,#ffa6a6 26.5px,#ff4141 40.5px,#ff0909 58.5px,#f50000 77.5px,#d60000 84.5px,#b00000 87.5px,#7f0000 89.5px,#580000 90.5px,#210000 91.5px,#1c0000 92.5px,#ffb8e2 93.5px,#ffb8e2 105.5px,#6c0000 106.5px,#a60000 107.5px,#c90000 108.5px,#de0000 109.5px,#ff4c4c 110.5px,#ffe7e7 111.5px,#afafff 112.5px,#6d6dff 113.5px,#5858ff 114.5px,#4f4fff 120.5px,#6868ff 132.5px,#dedeff 160.5px,#fffcfc 177.5px,#fff6f6 192px)"></i>
<i style="top:125px;left:77px;width:192px;background:linear-gradient(90deg,#fffafa 0px,#ffc9c9 16.5px,#ffaeae 26.5px,#ff4d4d 40.5px,#ff1515 59.5px,#f90000 79.5px,#d60000 85.5px,#a80000 88.5px,#680000 90.5px,#350000 91.5px,#1c0000 92.5px,#ffb8e2 93.5px,#ffb8e2 104.5px,#410000 105.5px,#8c0000 106.5px,#b90000 107.5px,#d50000 108.5px,#ff0202 109.5px,#ffaeae 110.5px,#e8e8ff 111.5px,#7e7eff 112.5px,#5e5eff 113.5px,#5151ff 116.5px,#6060ff 129.5px,#ddf 161.5px,#fffefe 182.5px,#fffbfb 192px)"></i>
<i style="top:126px;left:77px;width:192px;background:linear-gradient(90deg,#fff9f9 0px,#ffc6c6 16.5px,#faa 26.5px,#f44 40.5px,#ff0a0a 58.5px,#f40000 78.5px,#d90000 84.5px,#b70000 87.5px,#8b0000 89.5px,#690000 90.5px,#390000 91.5px,#1c0000 92.5px,#ffb8e2 93.5px,#ffb8e2 104.5px,#6a0000 105.5px,#a50000 106.5px,#e10000 108.5px,#ff6363 109.5px,#fff3f3 110.5px,#8e8eff 111.5px,#55f 112.5px,#4141ff 114.5px,#4949ff 126.5px,#9494ff 144.5px,#dcdcff 162.5px,#fff 184.5px,#fffdfd 192px)"></i>
<i style="top:127px;left:77px;width:192px;background:linear-gradient(90deg,#fffcfc 0px,#ffcaca 17.5px,#ffb1b1 26.5px,#ff4f4f 40.5px,#ff1616 58.5px,#f90000 79.5px,#da0000 85.5px,#b00000 88.5px,#790000 90.5px,#1c0000 92.5px,#ffb8e2 93.5px,#ffb8e2 103.5px,#3f0000 104.5px,#8b0000 105.5px,#b80000 106.5px,#d40000 107.5px,#ff1414 108.5px,#ffc2c2 109.5px,#cacaff 110.5px,#6969ff 111.5px,#5050ff 112.5px,#4848ff 120.5px,#6868ff 133.5px,#d8d8ff 160.5px,#fff 183.5px,#fffcfc 192px)"></i>
<i style="top:128px;left:77px;width:192px;background:linear-gradient(90deg,#fefeff 0px,#ffe4e4 8.5px,#ffc5c5 19.5px,#ffa7a7 27.5px,#ff4141 40.5px,#ff0505 57.5px,#e00 79.5px,#d00000 85.5px,#a80000 88.5px,#740000 90.5px,#1c0000 92.5px,#1c0000 93.5px,#ffb8e2 94.5px,#ffb8e2 103.5px,#690000 104.5px,#a40000 105.5px,#e70000 107.5px,#ff7f7f 108.5px,#fffcfc 109.5px,#6969ff 110.5px,#3a3aff 111.5px,#2d2dff 113.5px,#3838ff 126.5px,#8787ff 143.5px,#d8d8ff 161.5px,#fffefe 182.5px,#fffafa 192px)"></i>
<i style="top:129px;left:77px;width:192px;background:linear-gradient(90deg,#fefeff 0px,#ffe4e4 8.5px,#ffc4c4 19.5px,#ffa5a5 27.5px,#ff3c3c 40.5px,#f00 56.5px,#e70000 80.5px,#c30000 86.5px,#920000 89.5px,#4f0000 91.5px,#1c0000 92.5px,#1c0000 93.5px,#ffb8e2 94.5px,#ffb8e2 102.5px,#450000 103.5px,#8e0000 104.5px,#ba0000 105.5px,#d60000 106.5px,#ff4e4e 107.5px,#ffebeb 108.5px,#7272ff 109.5px,#2c2cff 110.5px,#1b1bff 112.5px,#2525ff 125.5px,#6a6aff 140.5px,#cacaff 159.5px,#f9f9ff 180.5px,#fefeff 192px)"></i>
<i style="top:130px;left:77px;width:192px;background:linear-gradient(90deg,#fffefe 0px,#ffc6c6 18.5px,#ffa7a7 27.5px,#ff4242 40.5px,#ff0505 57.5px,#ec0000 80.5px,#cb0000 86.5px,#9e0000 89.5px,#610000 91.5px,#2f0000 92.5px,#1c0000 93.5px,#ffb8e2 94.5px,#ffb8e2 101.5px,#2b0000 102.5px,#7e0000 103.5px,#b10000 104.5px,#d00000 105.5px,#ff1e1e 106.5px,#ffcdcd 107.5px,#a9a9ff 108.5px,#44f 109.5px,#3131ff 110.5px,#33f 123.5px,#6a6aff 137.5px,#d5d5ff 159.5px,#fff 178.5px,#fff7f7 192px)"></i>
<i style="top:131px;left:77px;width:192px;background:linear-gradient(90deg,#fff 0px,#ffe2e2 9.5px,#ffafaf 26.5px,#ff3d3d 41.5px,#ff0101 58.5px,#ec0000 80.5px,#ce0000 86.5px,#a50000 89.5px,#6e0000 91.5px,#1c0000 93.5px,#1c0000 94.5px,#ffb8e2 95.5px,#ffb8e2 100.5px,#1c0000 101.5px,#6d0000 102.5px,#a60000 103.5px,#f70000 105.5px,#ffa6a6 106.5px,#e1e1ff 107.5px,#4141ff 108.5px,#2323ff 109.5px,#1e1eff 120.5px,#4242ff 132.5px,#c6c6ff 158.5px,#f5f5ff 178.5px,#fdfdff 192px)"></i>
<i style="top:132px;left:77px;width:192px;background:linear-gradient(90deg,#fff3f3 0px,#ffd2d2 10.5px,#ffa4a4 26.5px,#ff3434 41.5px,#fd0000 56.5px,#e50000 81.5px,#c20000 87.5px,#920000 90.5px,#500000 92.5px,#1c0000 93.5px,#1c0000 94.5px,#ffb8e2 95.5px,#ffb8e2 100.5px,#590000 101.5px,#9a0000 102.5px,#e30000 104.5px,#ff7c7c 105.5px,#fffcfc 106.5px,#5757ff 107.5px,#2a2aff 108.5px,#2020ff 112.5px,#2b2bff 125.5px,#7575ff 141.5px,#d0d0ff 160.5px,#fbfbff 181.5px,#fffefe 192px)"></i>
<i style="top:133px;left:77px;width:192px;background:linear-gradient(90deg,#fffafa 0px,#ffdada 10.5px,#ffabab 26.5px,#ff3a3a 41.5px,#f00 57.5px,#e90000 81.5px,#c90000 87.5px,#9d0000 90.5px,#620000 92.5px,#300 93.5px,#1c0000 94.5px,#ffb8e2 95.5px,#ffb8e2 99.5px,#510000 100.5px,#960000 101.5px,#bf0000 102.5px,#d90000 103.5px,#ff5353 104.5px,#ffeded 105.5px,#6d6dff 106.5px,#2b2bff 107.5px,#1c1cff 109.5px,#2424ff 124.5px,#6767ff 139.5px,#cbcbff 159.5px,#f9f9ff 179.5px,#fffefe 192px)"></i>
<i style="top:134px;left:77px;width:192px;background:linear-gradient(90deg,#fffefe 0px,#ffe0e0 9.5px,#ffa7a7 26.5px,#ff2a2a 41.5px,#fd0000 51.5px,#e90000 69.5px,#d60000 84.5px,#b50000 89.5px,#830000 92.5px,#1c0000 95.5px,#1c0000 96.5px,#ffb8e2 97.5px,#ffb8e2 98.5px,#4e0000 99.5px,#930000 100.5px,#be0000 101.5px,#d70000 102.5px,#ff2c2c 103.5px,#ffd4d4 104.5px,#8585ff 105.5px,#1414ff 106.5px,#0000fe 107.5px,#0707ff 125.5px,#5151ff 139.5px,#c1c1ff 158.5px,#f1f1ff 174.5px,#fffdfd 188.5px,#fffcfc 192px)"></i>
<i style="top:135px;left:77px;width:192px;background:linear-gradient(90deg,#fffafa 0px,#ffdbdb 10.5px,#ffa7a7 27.5px,#ff3b3b 41.5px,#f00 57.5px,#eb0000 89.5px,#ca0000 96.5px,#9f0000 99.5px,#600 101.5px,#380000 102.5px,#1c0000 103.5px,#d1d1ff 104.5px,#3535ff 105.5px,#1818ff 106.5px,#1313ff 120.5px,#3939ff 132.5px,#c2c2ff 158.5px,#efefff 176.5px,#fbfbff 192px)"></i>
<i style="top:136px;left:77px;width:192px;background:linear-gradient(90deg,#fffdfd 0px,#ffe2e2 9.5px,#ffa4a4 27.5px,#ff3030 41.5px,#fe0000 52.5px,#ed0000 70.5px,#df0000 89.5px,#c30000 95.5px,#9d0000 98.5px,#6a0000 100.5px,#1c0000 102.5px,#1c0000 103.5px,#4848ff 104.5px,#0707ff 105.5px,#0000fa 114.5px,#0707ff 125.5px,#5757ff 140.5px,#c3c3ff 159.5px,#f2f2ff 176.5px,#fff 192px)"></i>
<i style="top:137px;left:77px;width:192px;background:linear-gradient(90deg,#fff 0px,#ffe9e9 9.5px,#ffb2b2 27.5px,#ff4747 42.5px,#ff0f0f 59.5px,#f90000 87.5px,#d00 94.5px,#ba0000 97.5px,#8e0000 99.5px,#6b0000 100.5px,#3a0000 101.5px,#1c0000 102.5px,#a9a9ff 103.5px,#3c3cff 104.5px,#2828ff 105.5px,#2929ff 122.5px,#5f5fff 136.5px,#cfcfff 159.5px,#fafaff 179.5px,#fffdfd 192px)"></i>
<i style="top:138px;left:77px;width:192px;background:linear-gradient(90deg,#fffafa 0px,#ffe1e1 9.5px,#ffa5a5 27.5px,#ff3030 42.5px,#fe0000 54.5px,#f00000 76.5px,#de0000 90.5px,#be0000 95.5px,#8c0000 98.5px,#450000 100.5px,#1c0000 101.5px,#1c0000 102.5px,#3c3cff 103.5px,#0d0dff 104.5px,#0303ff 107.5px,#0d0dff 123.5px,#4848ff 136.5px,#c5c5ff 158.5px,#f4f4ff 175.5px,#fffcfc 188.5px,#fffbfb 192px)"></i>
<i style="top:139px;left:77px;width:192px;background:linear-gradient(90deg,#fffdfd 0px,#ffe1e1 10.5px,#faa 27.5px,#ff3737 42.5px,#fe0000 56.5px,#e70000 88.5px,#ca0000 94.5px,#a10000 97.5px,#690000 99.5px,#3b0000 100.5px,#1c0000 101.5px,#7373ff 102.5px,#1717ff 103.5px,#0606ff 104.5px,#0b0bff 122.5px,#4343ff 135.5px,#c4c4ff 158.5px,#f3f3ff 175.5px,#fffcfc 192px)"></i>
<i style="top:140px;left:77px;width:192px;background:linear-gradient(90deg,#fffdfd 0px,#ffe3e3 10.5px,#ffacac 27.5px,#ff3434 43.5px,#fe0000 57.5px,#e90000 88.5px,#c00 94.5px,#a10000 97.5px,#600 99.5px,#350000 100.5px,#1c0000 101.5px,#33f 102.5px,#0909ff 103.5px,#0101ff 108.5px,#0c0cff 123.5px,#4e4eff 137.5px,#c4c4ff 158.5px,#f2f2ff 175.5px,#fffdfd 192px)"></i>
<i style="top:141px;left:77px;width:192px;background:linear-gradient(90deg,#fffcfc 0px,#ffe3e3 10.5px,#ffa4a4 28.5px,#ff2e2e 43.5px,#fc0000 55.5px,#e10000 89.5px,#c60000 94.5px,#9b0000 97.5px,#5e0000 99.5px,#2a0000 100.5px,#7373ff 101.5px,#0505ff 102.5px,#0000f3 105.5px,#0505ff 126.5px,#6d6dff 144.5px,#c8c8ff 161.5px,#f4f4ff 179.5px,#fcfcff 192px)"></i>
<i style="top:142px;left:77px;width:192px;background:linear-gradient(90deg,#fff6f6 0px,#ffdfdf 10.5px,#ffa1a1 28.5px,#ff2f2f 43.5px,#fd0000 55.5px,#ef0000 78.5px,#db0000 91.5px,#be0000 95.5px,#9d0000 97.5px,#5d0000 99.5px,#280000 100.5px,#3030ff 101.5px,#0000fd 102.5px,#0000f9 115.5px,#0808ff 125.5px,#5f5fff 141.5px,#c2c2ff 159.5px,#f0f0ff 176.5px,#fdfdff 192px)"></i>
<i style="top:143px;left:77px;width:192px;background:linear-gradient(90deg,#fffefe 0px,#ffeaea 10.5px,#ffaeae 28.5px,#ff3b3b 44.5px,#ff0202 60.5px,#f00000 88.5px,#d50000 94.5px,#a00 97.5px,#6a0000 99.5px,#9696ff 100.5px,#1c1cff 101.5px,#0505ff 102.5px,#0e0eff 121.5px,#4242ff 134.5px,#c6c6ff 158.5px,#f4f4ff 175.5px,#fffcfc 190.5px,#fffcfc 192px)"></i>
<i style="top:144px;left:77px;width:192px;background:linear-gradient(90deg,#fffcfc 0px,#ffe8e8 11.5px,#ffafaf 29.5px,#ff4c4c 44.5px,#ff1515 61.5px,#f90000 90.5px,#da0000 95.5px,#ba0000 97.5px,#7a0000 99.5px,#5a5aff 100.5px,#2626ff 101.5px,#1b1bff 104.5px,#3131ff 124.5px,#7d7dff 141.5px,#d7d7ff 161.5px,#fdfdff 181.5px,#fffcfc 192px)"></i>
<i style="top:145px;left:77px;width:192px;background:linear-gradient(90deg,#fff8f8 0px,#ffe4e4 11.5px,#ffa8a8 29.5px,#ff3f3f 44.5px,#ff0606 60.5px,#f20000 89.5px,#d30000 95.5px,#b50000 97.5px,#9c0000 98.5px,#ababff 99.5px,#1f1fff 100.5px,#0404ff 101.5px,#0909ff 113.5px,#2121ff 126.5px,#c9c9ff 159.5px,#f5f5ff 177.5px,#fff 192px)"></i>
<i style="top:146px;left:77px;width:192px;background:linear-gradient(90deg,#fffdfd 0px,#ffeaea 11.5px,#ffadad 29.5px,#ff3e3e 45.5px,#ff0606 61.5px,#f30000 90.5px,#da0000 95.5px,#be0000 97.5px,#a70000 98.5px,#3e3eff 99.5px,#0000fb 100.5px,#0000f2 104.5px,#0606ff 122.5px,#44f 136.5px,#bcbcff 158.5px,#e9e9ff 175.5px,#f7f7ff 192px)"></i>
<i style="top:147px;left:77px;width:192px;background:linear-gradient(90deg,#fff7f7 0px,#ffe5e5 11.5px,#ffa8a8 29.5px,#ff3939 45.5px,#ff0101 61.5px,#f00000 91.5px,#d40000 96.5px,#c70000 97.5px,#babaff 98.5px,#0b0bff 99.5px,#00e 101.5px,#0606ff 122.5px,#4545ff 136.5px,#bdbdff 158.5px,#ececff 175.5px,#f9f9ff 192px)"></i>
<i style="top:148px;left:77px;width:192px;background:linear-gradient(90deg,#fffefe 0px,#ffecec 11.5px,#ffa7a7 29.5px,#ff2b2b 45.5px,#fd0000 55.5px,#ed0000 72.5px,#e10000 93.5px,#ca0000 97.5px,#3737ff 98.5px,#0000dc 99.5px,#00c 101.5px,#0404ff 130.5px,#b4b4ff 157.5px,#eaeaff 172.5px,#fff 192px)"></i>
<i style="top:149px;left:77px;width:192px;background:linear-gradient(90deg,#f7f7ff 0px,#fffafa 10.5px,#ffb3b3 30.5px,#ff4141 46.5px,#ff0808 62.5px,#f90000 95.5px,#f30000 97.5px,#0303ff 98.5px,#0000df 99.5px,#0000d5 103.5px,#0202ff 125.5px,#6868ff 143.5px,#c3c3ff 160.5px,#eef 177.5px,#fafaff 192px)"></i>
<i style="top:150px;left:77px;width:192px;background:linear-gradient(90deg,#fbfbff 0px,#fffafa 9.5px,#ffafaf 30.5px,#ff3d3d 46.5px,#ff0202 62.5px,#fc0000 96.5px,#7373ff 97.5px,#0000e2 98.5px,#0000cd 99.5px,#0000c6 103.5px,#0000ec 115.5px,#0404ff 127.5px,#b6b6ff 158.5px,#e6e6ff 174.5px,#f7f7ff 192px)"></i>
<i style="top:151px;left:77px;width:192px;background:linear-gradient(90deg,#fdfdff 0px,#fff3f3 11.5px,#ffaeae 30.5px,#ff3b3b 46.5px,#ff0101 61.5px,#fa0000 96.5px,#0808ff 97.5px,#0000cb 98.5px,#0000b5 100.5px,#0000b9 104.5px,#0000e4 113.5px,#0404ff 128.5px,#b4b4ff 158.5px,#e5e5ff 174.5px,#f5f5ff 192px)"></i>
<i style="top:152px;left:77px;width:192px;background:linear-gradient(90deg,#fffbfb 0px,#ffe9e9 13.5px,#ffa8a8 31.5px,#ff3c3c 47.5px,#ff0505 63.5px,#f00 95.5px,#ffc5c5 96.5px,#00e 97.5px,#00c 98.5px,#0000b1 101.5px,#0000c6 105.5px,#0000f0 112.5px,#0707ff 123.5px,#5656ff 139.5px,#c2c2ff 159.5px,#eef 176.5px,#fafaff 192px)"></i>
<i style="top:153px;left:77px;width:192px;background:linear-gradient(90deg,#fff9f9 0px,#ffe7e7 13.5px,#ffa0a0 31.5px,#ff2b2b 47.5px,#fd0000 58.5px,#f10000 77.5px,#f10000 95.5px,#3737ff 96.5px,#0000c3 97.5px,#000095 99.5px,#00007b 101.5px,#000085 103.5px,#0000c5 108.5px,#0000e4 115.5px,#0606ff 129.5px,#b8b8ff 158.5px,#ebebff 174.5px,#fcfcff 192px)"></i>
<i style="top:154px;left:77px;width:192px;background:linear-gradient(90deg,#fbfbff 0px,#fffafa 11.5px,#ffb6b6 31.5px,#ff4747 48.5px,#ff1212 64.5px,#ff0f0f 95.5px,#0909ff 96.5px,#0000d3 97.5px,#000083 101.5px,#000083 102.5px,#0000ca 106.5px,#0000f1 111.5px,#0808ff 120.5px,#4747ff 135.5px,#c1c1ff 158.5px,#efefff 175.5px,#fcfcff 192px)"></i>
<i style="top:155px;left:77px;width:192px;background:linear-gradient(90deg,#fffdfd 0px,#fee 13.5px,#ffa9a9 31.5px,#ff2e2e 48.5px,#fd0000 60.5px,#f40000 85.5px,#f40000 94.5px,#fefeff 95.5px,#00009b 96.5px,#000073 97.5px,#00003b 98.5px,#a0c7ff 99.5px,#a0c7ff 104.5px,#000035 105.5px,#000083 108.5px,#00b 112.5px,#0000e6 120.5px,#0606ff 129.5px,#b5b5ff 157.5px,#ebebff 173.5px,#fefeff 192px)"></i>
<i style="top:156px;left:77px;width:192px;background:linear-gradient(90deg,#fffdfd 0px,#ffeded 14.5px,#faa 32.5px,#ff3d3d 48.5px,#ff0404 64.5px,#fe0000 94.5px,#7979ff 95.5px,#0000a4 96.5px,#00007b 97.5px,#a0c7ff 98.5px,#a0c7ff 104.5px,#000041 105.5px,#00008f 108.5px,#0000c7 112.5px,#0000f2 120.5px,#0808ff 126.5px,#bcbcff 158.5px,#ececff 175.5px,#fafaff 192px)"></i>
<i style="top:157px;left:77px;width:192px;background:linear-gradient(90deg,#fbfbff 0px,#fffafa 12.5px,#ffb7b7 31.5px,#ff3e3e 49.5px,#ff0909 64.5px,#ff0303 93.5px,#ffb4b4 94.5px,#0000d4 95.5px,#000093 96.5px,#000064 97.5px,#a0c7ff 98.5px,#a0c7ff 105.5px,#00004b 106.5px,#000094 109.5px,#0000c7 113.5px,#0000f3 122.5px,#0707ff 127.5px,#b3b3ff 157.5px,#e6e6ff 174.5px,#f6f6ff 192px)"></i>
<i style="top:158px;left:77px;width:192px;background:linear-gradient(90deg,#fbfbff 0px,#fff8f8 13.5px,#ffb2b2 32.5px,#ff4141 49.5px,#ff0b0b 64.5px,#ff0404 93.5px,#e4e4ff 94.5px,#0000ad 95.5px,#000089 96.5px,#005 97.5px,#a0c7ff 98.5px,#a0c7ff 105.5px,#000040 106.5px,#00008e 109.5px,#0000c6 113.5px,#0000f2 121.5px,#0606ff 126.5px,#b6b6ff 157.5px,#e8e8ff 174.5px,#f8f8ff 192px)"></i>
<i style="top:159px;left:77px;width:192px;background:linear-gradient(90deg,#fff 0px,#ffefef 15.5px,#ffabab 32.5px,#f33 49.5px,#fe0000 62.5px,#f60000 92.5px,#ff4040 93.5px,#4848ff 94.5px,#000097 95.5px,#00006b 96.5px,#a0c7ff 97.5px,#a0c7ff 106.5px,#000042 107.5px,#00008e 110.5px,#0000c4 114.5px,#0000f4 123.5px,#0505ff 127.5px,#bfbfff 157.5px,#f4f4ff 173.5px,#fffcfc 184.5px,#fff7f7 192px)"></i>
<i style="top:160px;left:77px;width:192px;background:linear-gradient(90deg,#fdfdff 0px,#fff7f7 13.5px,#ffaeae 32.5px,#ff2f2f 50.5px,#fe0000 62.5px,#f50000 92.5px,#fff6f6 93.5px,#0000b8 94.5px,#00004d 96.5px,#a0c7ff 97.5px,#a0c7ff 106.5px,#00002b 107.5px,#00007e 110.5px,#0000b8 114.5px,#0000e8 122.5px,#0505ff 129.5px,#b5b5ff 157.5px,#ebebff 173.5px,#fefeff 192px)"></i>
<i style="top:161px;left:77px;width:192px;background:linear-gradient(90deg,#fdfdff 0px,#fff6f6 14.5px,#ffb2b2 32.5px,#ff3737 50.5px,#f00 64.5px,#fa0000 91.5px,#ff0d0d 92.5px,#c8c8ff 93.5px,#0000a8 94.5px,#000083 95.5px,#00004f 96.5px,#a0c7ff 97.5px,#a0c7ff 106.5px,#00002e 107.5px,#000082 110.5px,#0000be 114.5px,#00e 122.5px,#0909ff 128.5px,#b9b9ff 157.5px,#ededff 173.5px,#fffefe 192px)"></i>
<i style="top:162px;left:77px;width:192px;background:linear-gradient(90deg,#f4f4ff 0px,#fffcfc 16.5px,#fbb 33.5px,#ff4848 51.5px,#ff1414 66.5px,#ff0f0f 91.5px,#ffb8b8 92.5px,#3131ff 93.5px,#0000b5 94.5px,#000091 95.5px,#00005e 96.5px,#a0c7ff 97.5px,#a0c7ff 107.5px,#00005e 108.5px,#0000a3 111.5px,#0000d4 115.5px,#0000fe 123.5px,#bebeff 157.5px,#efefff 174.5px,#fff 192px)"></i>
<i style="top:163px;left:77px;width:192px;background:linear-gradient(90deg,#fff9f9 0px,#ffebeb 16.5px,#ffabab 33.5px,#ff3636 51.5px,#ff0101 66.5px,#fd0000 90.5px,#ff0e0e 91.5px,#eef 92.5px,#0000c6 93.5px,#000084 95.5px,#00004d 96.5px,#a0c7ff 97.5px,#a0c7ff 107.5px,#00004d 108.5px,#000097 111.5px,#00c 115.5px,#0000fc 124.5px,#bcbcff 158.5px,#ebebff 175.5px,#f9f9ff 192px)"></i>
<i style="top:164px;left:77px;width:192px;background:linear-gradient(90deg,#fff9f9 0px,#ffeaea 17.5px,#ffa8a8 34.5px,#ff3838 52.5px,#ff0707 67.5px,#ff0303 90.5px,#ffc2c2 91.5px,#4b4bff 92.5px,#0000c9 93.5px,#000087 95.5px,#a0c7ff 96.5px,#a0c7ff 107.5px,#00004f 108.5px,#00009a 111.5px,#0000d0 115.5px,#0000fd 123.5px,#bdbdff 158.5px,#eaeaff 175.5px,#f8f8ff 192px)"></i>
<i style="top:165px;left:77px;width:192px;background:linear-gradient(90deg,#fff9f9 0px,#ffeaea 17.5px,#ffa5a5 34.5px,#ff3232 51.5px,#fe0000 64.5px,#f80000 89.5px,#ff2323 90.5px,#f2f2ff 91.5px,#0000cb 92.5px,#000093 94.5px,#000065 95.5px,#a0c7ff 96.5px,#a0c7ff 108.5px,#000046 109.5px,#000090 112.5px,#0000c4 116.5px,#0000f7 125.5px,#0606ff 128.5px,#b1b1ff 156.5px,#e7e7ff 172.5px,#fcfcff 192px)"></i>
<i style="top:166px;left:77px;width:192px;background:linear-gradient(90deg,#fffefe 0px,#fff0f0 17.5px,#ffadad 34.5px,#ff3c3c 51.5px,#ff0707 66.5px,#ff0101 89.5px,#ffcdcd 90.5px,#5656ff 91.5px,#00c 92.5px,#000093 94.5px,#000064 95.5px,#a0c7ff 96.5px,#a0c7ff 108.5px,#000043 109.5px,#000090 112.5px,#0000c7 116.5px,#0000fb 125.5px,#bebeff 158.5px,#f0f0ff 175.5px,#fff 192px)"></i>
<i style="top:167px;left:77px;width:192px;background:linear-gradient(90deg,#fffcfc 0px,#fff0f0 17.5px,#ffafaf 34.5px,#ff3f3f 52.5px,#ff1010 67.5px,#ff0c0c 88.5px,#ff5151 89.5px,#f6f6ff 90.5px,#0000e5 91.5px,#0000b9 93.5px,#000096 94.5px,#000065 95.5px,#a0c7ff 96.5px,#a0c7ff 108.5px,#000049 109.5px,#000097 112.5px,#0000ce 116.5px,#0000fe 124.5px,#b8b8ff 156.5px,#ededff 173.5px,#fefeff 192px)"></i>
<i style="top:168px;left:77px;width:192px;background:linear-gradient(90deg,#fefeff 0px,#fff5f5 16.5px,#ffaeae 33.5px,#ff2b2b 51.5px,#fe0000 62.5px,#f40000 87.5px,#f40000 88.5px,#ffd4d4 89.5px,#4040ff 90.5px,#0000b0 91.5px,#000078 93.5px,#00001e 95.5px,#a0c7ff 96.5px,#a0c7ff 109.5px,#00001e 110.5px,#00007a 114.5px,#0000b6 119.5px,#0000fb 132.5px,#1e1eff 137.5px,#a7a7ff 157.5px,#e0e0ff 172.5px,#f7f7ff 192px)"></i>
<i style="top:169px;left:77px;width:192px;background:linear-gradient(90deg,#fefeff 0px,#fff5f5 17.5px,#ffb0b0 34.5px,#ff3d3d 51.5px,#ff0c0c 66.5px,#ff0505 87.5px,#ff6767 88.5px,#f3f3ff 89.5px,#0000d9 90.5px,#0000ad 92.5px,#00008d 93.5px,#00005f 94.5px,#a0c7ff 95.5px,#a0c7ff 109.5px,#00002e 110.5px,#00007f 113.5px,#0000ba 117.5px,#0000ef 125.5px,#0808ff 130.5px,#afafff 156.5px,#e7e7ff 172.5px,#fcfcff 192px)"></i>
<i style="top:170px;left:77px;width:192px;background:linear-gradient(90deg,#fffafa 0px,#ffeded 18.5px,#ffaeae 34.5px,#ff3f3f 51.5px,#f11 66.5px,#ff0b0b 86.5px,#ff1b1b 87.5px,#ffe3e3 88.5px,#6060ff 89.5px,#0000d6 90.5px,#0000ae 92.5px,#00008c 93.5px,#00005c 94.5px,#a0c7ff 95.5px,#a0c7ff 109.5px,#000030 110.5px,#000083 113.5px,#0000be 117.5px,#0000f3 125.5px,#0808ff 129.5px,#aeaeff 156.5px,#e4e4ff 172.5px,#f9f9ff 192px)"></i>
<i style="top:171px;left:77px;width:192px;background:linear-gradient(90deg,#f5f5ff 0px,#fffafa 19.5px,#ffb9b9 35.5px,#ff5151 51.5px,#ff2626 66.5px,#ff2020 86.5px,#ff9898 87.5px,#ededff 88.5px,#0000e7 89.5px,#00a 92.5px,#000085 93.5px,#000051 94.5px,#a0c7ff 95.5px,#a0c7ff 109.5px,#00002f 110.5px,#000083 113.5px,#0000bf 117.5px,#0000f5 125.5px,#0a0aff 129.5px,#aeaeff 156.5px,#e4e4ff 172.5px,#f8f8ff 192px)"></i>
<i style="top:172px;left:77px;width:192px;background:linear-gradient(90deg,#fdfdff 0px,#fff8f8 17.5px,#ffb9b9 33.5px,#ff3d3d 51.5px,#ff1212 65.5px,#ff0b0b 85.5px,#ff3f3f 86.5px,#ffeded 87.5px,#5656ff 88.5px,#0000ca 89.5px,#0000a5 91.5px,#000086 92.5px,#00005a 93.5px,#00001e 94.5px,#a0c7ff 95.5px,#a0c7ff 110.5px,#000025 111.5px,#000076 114.5px,#0000b0 118.5px,#0000e7 126.5px,#0505ff 132.5px,#a6a6ff 156.5px,#dfdfff 171.5px,#f8f8ff 192px)"></i>
<i style="top:173px;left:77px;width:192px;background:linear-gradient(90deg,#fffdfd 0px,#fee 20.5px,#ffaeae 36.5px,#ff5353 51.5px,#ff2e2e 66.5px,#ff2929 84.5px,#ff3030 85.5px,#ffb5b5 86.5px,#f1f1ff 87.5px,#0000fd 88.5px,#0000cb 91.5px,#0000af 92.5px,#000086 93.5px,#a0c7ff 94.5px,#a0c7ff 110.5px,#000061 111.5px,#0000a6 114.5px,#0000e1 119.5px,#0606ff 125.5px,#afafff 154.5px,#e8e8ff 171.5px,#fcfcff 192px)"></i>
<i style="top:174px;left:77px;width:192px;background:linear-gradient(90deg,#fffcfc 0px,#ffefef 20.5px,#ffafaf 36.5px,#ff5454 51.5px,#ff3131 66.5px,#ff2d2d 84.5px,#ff7171 85.5px,#fff1f1 86.5px,#88f 87.5px,#0000f3 88.5px,#0000c4 91.5px,#0000a5 92.5px,#000079 93.5px,#a0c7ff 94.5px,#a0c7ff 110.5px,#00005b 111.5px,#0000a3 114.5px,#0000df 119.5px,#0505ff 125.5px,#afafff 154.5px,#e8e8ff 171.5px,#fdfdff 192px)"></i>
<i style="top:175px;left:77px;width:192px;background:linear-gradient(90deg,#fdfdff 0px,#fff8f8 18.5px,#ffc0c0 33.5px,#ff4949 51.5px,#ff2727 65.5px,#ff2121 83.5px,#ff3232 84.5px,#ffb2b2 85.5px,#fffbfb 86.5px,#0000fe 87.5px,#0000dc 88.5px,#00b 90.5px,#000079 92.5px,#000041 93.5px,#a0c7ff 94.5px,#a0c7ff 110.5px,#000029 111.5px,#00007e 114.5px,#0000bc 118.5px,#0000f4 126.5px,#0c0cff 130.5px,#aeaeff 155.5px,#eaeaff 171.5px,#fffdfd 189.5px,#fffcfc 192px)"></i>
<i style="top:176px;left:77px;width:192px;background:linear-gradient(90deg,#fff 0px,#fff2f2 20.5px,#ffb5b5 35.5px,#ff4c4c 51.5px,#ff2d2d 64.5px,#ff2727 83.5px,#ff7171 84.5px,#ffe8e8 85.5px,#ababff 86.5px,#0000e2 87.5px,#0000b5 90.5px,#000098 91.5px,#00006e 92.5px,#000032 93.5px,#a0c7ff 94.5px,#a0c7ff 110.5px,#000026 111.5px,#00007c 114.5px,#0000ba 118.5px,#0000ed 125.5px,#0808ff 130.5px,#a7a7ff 155.5px,#e2e2ff 171.5px,#f9f9ff 192px)"></i>
<i style="top:177px;left:77px;width:192px;background:linear-gradient(90deg,#fffcfc 0px,#ffeded 21.5px,#ffafaf 36.5px,#ff5050 51.5px,#f33 64.5px,#ff2e2e 82.5px,#ff4646 83.5px,#ffb3b3 84.5px,#fff 85.5px,#3939ff 86.5px,#0000e8 87.5px,#0000b9 90.5px,#00009a 91.5px,#00006e 92.5px,#a0c7ff 93.5px,#a0c7ff 111.5px,#000052 112.5px,#000098 115.5px,#0000d5 120.5px,#0606ff 128.5px,#acacff 155.5px,#e4e4ff 171.5px,#fafaff 192px)"></i>
<i style="top:178px;left:77px;width:192px;background:linear-gradient(90deg,#fffdfd 0px,#fff1f1 20.5px,#ffb3b3 35.5px,#ff4747 51.5px,#ff2b2b 63.5px,#ff2727 82.5px,#ff7474 83.5px,#ffe1e1 84.5px,#d9d9ff 85.5px,#0000e6 86.5px,#00b 89.5px,#00007c 91.5px,#000048 92.5px,#a0c7ff 93.5px,#a0c7ff 111.5px,#000031 112.5px,#000081 115.5px,#00b 119.5px,#0000f3 127.5px,#0b0bff 131.5px,#aaf 155.5px,#e7e7ff 171.5px,#fffefe 192px)"></i>
<i style="top:179px;left:77px;width:192px;background:linear-gradient(90deg,#fff 0px,#fff2f2 21.5px,#ffb8b8 35.5px,#ff4949 52.5px,#ff2f2f 65.5px,#ff2f2f 81.5px,#ff4d4d 82.5px,#ffb0b0 83.5px,#fffcfc 84.5px,#5b5bff 85.5px,#0000dc 86.5px,#0000b2 89.5px,#00006f 91.5px,#000037 92.5px,#a0c7ff 93.5px,#a0c7ff 111.5px,#000029 112.5px,#00007a 115.5px,#0000b6 119.5px,#00e 127.5px,#0a0aff 132.5px,#9f9fff 155.5px,#dbdbff 171.5px,#f4f4ff 192px)"></i>
<i style="top:180px;left:77px;width:192px;background:linear-gradient(90deg,#fffcfc 0px,#fff0f0 21.5px,#ffb8b8 35.5px,#ff4b4b 52.5px,#ff3535 63.5px,#ff3838 81.5px,#ff7e7e 82.5px,#ffdcdc 83.5px,#f2f2ff 84.5px,#0101ff 85.5px,#0000e5 86.5px,#0000b9 89.5px,#00009c 90.5px,#000072 91.5px,#000037 92.5px,#a0c7ff 93.5px,#a0c7ff 111.5px,#000034 112.5px,#000085 115.5px,#0000c0 119.5px,#0000f8 127.5px,#1212ff 131.5px,#aaf 155.5px,#e4e4ff 171.5px,#fcfcff 192px)"></i>
<i style="top:181px;left:77px;width:192px;background:linear-gradient(90deg,#fdfdff 0px,#fff7f7 20.5px,#ffc4c4 34.5px,#ff4f4f 52.5px,#ff3a3a 61.5px,#ff3a3a 80.5px,#ff4d4d 81.5px,#fff1f1 83.5px,#bcbcff 84.5px,#0000e8 85.5px,#0000c4 88.5px,#00008d 90.5px,#00005f 91.5px,#a0c7ff 92.5px,#a0c7ff 111.5px,#000025 112.5px,#00007b 115.5px,#0000ba 119.5px,#0000ef 126.5px,#0505ff 130.5px,#a7a7ff 155.5px,#e2e2ff 171.5px,#fafaff 192px)"></i>
<i style="top:182px;left:77px;width:192px;background:linear-gradient(90deg,#fffafa 0px,#ffeded 22.5px,#ffb3b3 37.5px,#ff5252 53.5px,#ff4545 61.5px,#ff4545 80.5px,#ff6d6d 81.5px,#ffc2c2 82.5px,#fffcfc 83.5px,#8787ff 84.5px,#0000f8 85.5px,#0000d6 88.5px,#0000a0 90.5px,#000073 91.5px,#a0c7ff 92.5px,#a0c7ff 111.5px,#000045 112.5px,#000095 115.5px,#0000cf 119.5px,#0202ff 126.5px,#a3a3ff 152.5px,#e2e2ff 169.5px,#fcfcff 192px)"></i>
<i style="top:183px;left:77px;width:192px;background:linear-gradient(90deg,#fafaff 0px,#fff8f8 22.5px,#ffc3c3 36.5px,#ff5a5a 53.5px,#ff4d4d 60.5px,#ff5252 80.5px,#ff8e8e 81.5px,#ffdcdc 82.5px,#fdfdff 83.5px,#4242ff 84.5px,#0000f0 85.5px,#0000ca 88.5px,#00008d 90.5px,#00005a 91.5px,#a0c7ff 92.5px,#a0c7ff 112.5px,#000054 113.5px,#00009b 116.5px,#0000d9 121.5px,#00f 127.5px,#a3a3ff 153.5px,#e0e0ff 169.5px,#fbfbff 192px)"></i>
<i style="top:184px;left:77px;width:192px;background:linear-gradient(90deg,#fffdfd 0px,#fff1f1 22.5px,#ffb7b7 36.5px,#ff4343 53.5px,#ff3838 59.5px,#ff3838 79.5px,#ff4e4e 80.5px,#ffebeb 82.5px,#dcdcff 83.5px,#0000f3 84.5px,#0000d5 85.5px,#0000a6 88.5px,#000087 89.5px,#00005b 90.5px,#00001e 91.5px,#a0c7ff 92.5px,#a0c7ff 112.5px,#00001f 113.5px,#000073 116.5px,#0000b2 120.5px,#0000e8 127.5px,#0303ff 132.5px,#a0a0ff 155.5px,#dcdcff 170.5px,#f8f8ff 192px)"></i>
<i style="top:185px;left:77px;width:192px;background:linear-gradient(90deg,#fffafa 0px,#fee 22.5px,#ffb6b6 36.5px,#ff4141 53.5px,#ff3737 61.5px,#ff3737 79.5px,#ff6565 80.5px,#ffb9b9 81.5px,#fff9f9 82.5px,#a9a9ff 83.5px,#0000e2 84.5px,#00b 87.5px,#000082 89.5px,#000051 90.5px,#a0c7ff 91.5px,#a0c7ff 112.5px,#00001e 113.5px,#000073 116.5px,#0000b4 120.5px,#0000eb 127.5px,#0101ff 131.5px,#a1a1ff 154.5px,#e0e0ff 169.5px,#fefeff 190.5px,#fefeff 192px)"></i>
<i style="top:186px;left:77px;width:192px;background:linear-gradient(90deg,#fffbfb 0px,#ffefef 23.5px,#ffb5b5 37.5px,#ff4949 53.5px,#ff4141 63.5px,#ff4141 78.5px,#ff4949 79.5px,#ff8686 80.5px,#ffd4d4 81.5px,#fff 82.5px,#6b6bff 83.5px,#0000e4 84.5px,#0000be 87.5px,#000082 89.5px,#00004f 90.5px,#a0c7ff 91.5px,#a0c7ff 112.5px,#002 113.5px,#000079 116.5px,#0000ba 120.5px,#0000f1 127.5px,#0a0aff 131.5px,#a3a3ff 154.5px,#e2e2ff 170.5px,#fdfdff 192px)"></i>
<i style="top:187px;left:77px;width:192px;background:linear-gradient(90deg,#fbfbff 0px,#fffafa 22.5px,#ffc5c5 36.5px,#ff4d4d 54.5px,#ff4c4c 78.5px,#ff5f5f 79.5px,#ffe6e6 81.5px,#fefeff 82.5px,#3c3cff 83.5px,#0000e5 84.5px,#00b 87.5px,#00007a 89.5px,#000042 90.5px,#a0c7ff 91.5px,#a0c7ff 113.5px,#00003f 114.5px,#00008b 117.5px,#0000c5 121.5px,#0000fd 129.5px,#a6a6ff 154.5px,#e5e5ff 170.5px,#fffefe 189.5px,#fffdfd 192px)"></i>
<i style="top:188px;left:77px;width:192px;background:linear-gradient(90deg,#fff9f9 0px,#fee 23.5px,#ffb8b8 37.5px,#ff4d4d 53.5px,#ff4949 78.5px,#ff6969 79.5px,#ffefef 81.5px,#e0e0ff 82.5px,#1818ff 83.5px,#0000e1 84.5px,#0000b6 87.5px,#009 88.5px,#000071 89.5px,#000037 90.5px,#a0c7ff 91.5px,#a0c7ff 113.5px,#00003d 114.5px,#000089 117.5px,#0000c3 121.5px,#0000fa 129.5px,#1e1eff 134.5px,#a6a6ff 156.5px,#dedeff 172.5px,#f3f3ff 192px)"></i>
<i style="top:189px;left:77px;width:192px;background:linear-gradient(90deg,#fffefe 0px,#fff1f1 24.5px,#ffbdbd 37.5px,#ff4e4e 53.5px,#ff4e4e 78.5px,#ff7a7a 79.5px,#ffc0c0 80.5px,#fff7f7 81.5px,#cdcdff 82.5px,#0000fd 83.5px,#00d 84.5px,#0000c3 86.5px,#00008c 88.5px,#00005e 89.5px,#a0c7ff 90.5px,#a0c7ff 113.5px,#00002d 114.5px,#00007f 117.5px,#0000be 121.5px,#0000f9 129.5px,#1d1dff 134.5px,#a5a5ff 155.5px,#e1e1ff 171.5px,#fafaff 192px)"></i>
<i style="top:190px;left:77px;width:192px;background:linear-gradient(90deg,#fefeff 0px,#fff4f4 24.5px,#ffc1c1 37.5px,#ff5252 53.5px,#ff5252 77.5px,#ff5b5b 78.5px,#ff8f8f 79.5px,#ffd2d2 80.5px,#fffcfc 81.5px,#adadff 82.5px,#0000f3 83.5px,#0000c4 86.5px,#00008a 88.5px,#000059 89.5px,#a0c7ff 90.5px,#a0c7ff 113.5px,#000030 114.5px,#000083 117.5px,#0000c2 121.5px,#0000f8 128.5px,#1515ff 132.5px,#a5a5ff 154.5px,#e2e2ff 170.5px,#fdfdff 192px)"></i>
<i style="top:191px;left:77px;width:192px;background:linear-gradient(90deg,#fafaff 0px,#fff9f9 24.5px,#ffc9c9 37.5px,#ff6161 53.5px,#ff6161 77.5px,#ff7474 78.5px,#ffe4e4 80.5px,#fff 81.5px,#88f 82.5px,#0000f5 83.5px,#0000cf 86.5px,#000095 88.5px,#000065 89.5px,#a0c7ff 90.5px,#a0c7ff 113.5px,#000046 114.5px,#000094 117.5px,#0000d0 121.5px,#0000fe 127.5px,#9292ff 149.5px,#dcdcff 166.5px,#fcfcff 186.5px,#fff 192px)"></i>
<i style="top:192px;left:77px;width:192px;background:linear-gradient(90deg,#fbfbff 0px,#fffafa 23.5px,#ffcbcb 36.5px,#ff5454 53.5px,#f55 77.5px,#ff7979 78.5px,#fee 80.5px,#f5f5ff 81.5px,#4141ff 82.5px,#0000db 83.5px,#0000ae 86.5px,#000091 87.5px,#000068 88.5px,#00002d 89.5px,#a0c7ff 90.5px,#a0c7ff 113.5px,#00001e 114.5px,#000083 118.5px,#0000be 122.5px,#0000f8 130.5px,#1515ff 134.5px,#a3a3ff 155.5px,#e1e1ff 171.5px,#fbfbff 192px)"></i>
<i style="top:193px;left:77px;width:192px;background:linear-gradient(90deg,#fefeff 0px,#fff6f6 24.5px,#ffc7c7 37.5px,#ff5c5c 53.5px,#ff5c5c 76.5px,#ff6363 77.5px,#ff9090 78.5px,#ffcbcb 79.5px,#fff8f8 80.5px,#d7d7ff 81.5px,#2020ff 82.5px,#0000e3 83.5px,#0000b7 86.5px,#00009a 87.5px,#000071 88.5px,#000036 89.5px,#a0c7ff 90.5px,#a0c7ff 113.5px,#000028 114.5px,#00007e 117.5px,#0000bf 121.5px,#0000f6 128.5px,#0a0aff 131.5px,#9a9aff 153.5px,#dadaff 169.5px,#f7f7ff 192px)"></i>
<i style="top:194px;left:77px;width:192px;background:linear-gradient(90deg,#fafaff 0px,#fffafa 25.5px,#ffcbcb 38.5px,#ff6e6e 52.5px,#ff6e6e 76.5px,#ff7e7e 77.5px,#ffdfdf 79.5px,#fffdfd 80.5px,#b9b9ff 81.5px,#1818ff 82.5px,#0000f4 83.5px,#0000ca 86.5px,#000086 88.5px,#a0c7ff 89.5px,#a0c7ff 114.5px,#000069 115.5px,#0000ab 118.5px,#0000e7 123.5px,#0404ff 127.5px,#7a7aff 145.5px,#ccf 163.5px,#f1f1ff 182.5px,#f7f7ff 192px)"></i>
<i style="top:195px;left:77px;width:192px;background:linear-gradient(90deg,#f9f9ff 0px,#fff9f9 26.5px,#ffcbcb 38.5px,#ff6c6c 52.5px,#ff6c6c 76.5px,#f88 77.5px,#ffeaea 79.5px,#fffdfd 80.5px,#9494ff 81.5px,#0000fb 82.5px,#0000d3 85.5px,#00009d 87.5px,#000070 88.5px,#a0c7ff 89.5px,#a0c7ff 114.5px,#000059 115.5px,#0000a0 118.5px,#0000e0 123.5px,#0404ff 128.5px,#8a8aff 148.5px,#d6d6ff 165.5px,#f9f9ff 185.5px,#fdfdff 192px)"></i>
<i style="top:196px;left:77px;width:192px;background:linear-gradient(90deg,#fbfbff 0px,#fffafa 25.5px,#ffd1d1 37.5px,#ff7070 52.5px,#ff7575 76.5px,#f99 77.5px,#fff3f3 79.5px,#f0f0ff 80.5px,#6868ff 81.5px,#0000f4 82.5px,#0000d1 85.5px,#00009a 87.5px,#00006b 88.5px,#a0c7ff 89.5px,#a0c7ff 114.5px,#00005c 115.5px,#0000a2 118.5px,#0000e1 123.5px,#0404ff 128.5px,#8686ff 148.5px,#cfcfff 165.5px,#f1f1ff 185.5px,#f4f4ff 192px)"></i>
<i style="top:197px;left:77px;width:192px;background:linear-gradient(90deg,#f1f1ff 0px,#fdfdff 26.5px,#ffe3e3 35.5px,#ff8181 49.5px,#ff7171 52.5px,#ff7171 75.5px,#ff7e7e 76.5px,#ffd8d8 78.5px,#fffafa 79.5px,#d8d8ff 80.5px,#2f2fff 81.5px,#0000e1 82.5px,#0000b7 85.5px,#000074 87.5px,#00003c 88.5px,#a0c7ff 89.5px,#a0c7ff 114.5px,#000034 115.5px,#000084 118.5px,#0000c1 122.5px,#0000fc 130.5px,#a1a1ff 155.5px,#ddf 171.5px,#f6f6ff 192px)"></i>
<i style="top:198px;left:77px;width:192px;background:linear-gradient(90deg,#f5f5ff 0px,#fffafa 28.5px,#ffcaca 39.5px,#ff6f6f 51.5px,#ff6f6f 75.5px,#f88 76.5px,#ffe3e3 78.5px,#fffefe 79.5px,#b8b8ff 80.5px,#0b0bff 81.5px,#0000df 82.5px,#0000b1 85.5px,#000094 86.5px,#00006a 87.5px,#00002d 88.5px,#a0c7ff 89.5px,#a0c7ff 114.5px,#000030 115.5px,#000081 118.5px,#0000c0 122.5px,#0000fb 130.5px,#a3a3ff 155.5px,#dfdfff 171.5px,#f8f8ff 192px)"></i>
<i style="top:199px;left:77px;width:192px;background:linear-gradient(90deg,#f8f8ff 0px,#fff8f8 28.5px,#ffcbcb 39.5px,#f77 51.5px,#ff7b7b 75.5px,#ff9a9a 76.5px,#fee 78.5px,#fff 79.5px,#9c9cff 80.5px,#0404ff 81.5px,#0000bf 85.5px,#0000a2 86.5px,#007 87.5px,#a0c7ff 88.5px,#a0c7ff 114.5px,#000048 115.5px,#000095 118.5px,#0000d0 122.5px,#0000fe 128.5px,#8c8cff 149.5px,#d7d7ff 166.5px,#f8f8ff 186.5px,#fbfbff 192px)"></i>
<i style="top:200px;left:77px;width:192px;background:linear-gradient(90deg,#f9f9ff 0px,#fff9f9 27.5px,#ffd1d1 38.5px,#ff7575 51.5px,#ff7575 74.5px,#ff8080 75.5px,#fff5f5 78.5px,#f5f5ff 79.5px,#7676ff 80.5px,#0000f2 81.5px,#0000c9 84.5px,#000092 86.5px,#000064 87.5px,#a0c7ff 88.5px,#a0c7ff 114.5px,#000039 115.5px,#00008a 118.5px,#0000c7 122.5px,#0000fd 129.5px,#9c9cff 153.5px,#dbdbff 169.5px,#f8f8ff 192px)"></i>
<i style="top:201px;left:77px;width:192px;background:linear-gradient(90deg,#f3f3ff 0px,#fdfdff 27.5px,#ffe0e0 37.5px,#ff8181 51.5px,#ff8181 74.5px,#ff9393 75.5px,#ffdfdf 77.5px,#fffafa 78.5px,#efefff 79.5px,#6d6dff 80.5px,#0000f8 81.5px,#0000d1 84.5px,#009 86.5px,#000069 87.5px,#a0c7ff 88.5px,#a0c7ff 114.5px,#000043 115.5px,#000093 118.5px,#0000d1 122.5px,#0101ff 128.5px,#7979ff 145.5px,#d1d1ff 163.5px,#f9f9ff 182.5px,#fff 192px)"></i>
<i style="top:202px;left:77px;width:192px;background:linear-gradient(90deg,#f9f9ff 0px,#fffbfb 27.5px,#ffcdcd 39.5px,#ff7474 51.5px,#f77 74.5px,#ff9191 75.5px,#ffe4e4 77.5px,#fffdfd 78.5px,#d7d7ff 79.5px,#4343ff 80.5px,#0000e1 81.5px,#0000b6 84.5px,#000074 86.5px,#00003d 87.5px,#a0c7ff 88.5px,#a0c7ff 114.5px,#00001e 115.5px,#000087 119.5px,#0000c3 123.5px,#0000fd 131.5px,#9c9cff 154.5px,#ddf 170.5px,#fafaff 192px)"></i>
<i style="top:203px;left:77px;width:192px;background:linear-gradient(90deg,#f7f7ff 0px,#fffafa 29.5px,#ffc9c9 41.5px,#ff8282 50.5px,#ff8181 73.5px,#f88 74.5px,#ffeded 77.5px,#fff 78.5px,#c7c7ff 79.5px,#3f3fff 80.5px,#0000eb 81.5px,#0000c3 84.5px,#000083 86.5px,#00004d 87.5px,#a0c7ff 88.5px,#a0c7ff 115.5px,#00004f 116.5px,#000098 119.5px,#0000da 124.5px,#0505ff 130.5px,#9191ff 151.5px,#d9d9ff 168.5px,#f8f8ff 189.5px,#f9f9ff 192px)"></i>
<i style="top:204px;left:77px;width:192px;background:linear-gradient(90deg,#f5f5ff 0px,#fffbfb 29.5px,#ffcaca 41.5px,#ff8080 50.5px,#ff7f7f 73.5px,#ff8c8c 74.5px,#fff2f2 77.5px,#fcfcff 78.5px,#aeaeff 79.5px,#1f1fff 80.5px,#00d 81.5px,#0000b0 84.5px,#000092 85.5px,#000068 86.5px,#00002b 87.5px,#a0c7ff 88.5px,#a0c7ff 115.5px,#000032 116.5px,#000083 119.5px,#0000c1 123.5px,#0000fc 131.5px,#9e9eff 155.5px,#ddf 171.5px,#f7f7ff 192px)"></i>
<i style="top:205px;left:77px;width:192px;background:linear-gradient(90deg,#f1f1ff 0px,#fcfcff 28.5px,#fff2f2 34.5px,#ffbebe 44.5px,#ff8d8d 50.5px,#ff8c8c 73.5px,#ff9e9e 74.5px,#fff8f8 77.5px,#fffdfd 78.5px,#aaf 79.5px,#2828ff 80.5px,#0000ec 81.5px,#0000bf 84.5px,#0000a2 85.5px,#000078 86.5px,#a0c7ff 87.5px,#a0c7ff 115.5px,#000048 116.5px,#000096 119.5px,#0000d1 123.5px,#0101ff 129.5px,#7a7aff 146.5px,#cfcfff 163.5px,#f9f9ff 181.5px,#fffdfd 192px)"></i>
<i style="top:206px;left:77px;width:192px;background:linear-gradient(90deg,#f0f0ff 0px,#fbfbff 28.5px,#fff5f5 33.5px,#ffc1c1 43.5px,#ff8383 50.5px,#ff8383 73.5px,#ffbfbf 75.5px,#fffbfb 77.5px,#f0f0ff 78.5px,#7d7dff 79.5px,#0000f2 80.5px,#0000c7 81.5px,#0000a8 83.5px,#00006a 85.5px,#000035 86.5px,#a0c7ff 87.5px,#a0c7ff 115.5px,#00001e 116.5px,#000024 117.5px,#000074 120.5px,#0000b2 124.5px,#0000f0 132.5px,#0a0aff 136.5px,#9a9aff 156.5px,#dbdbff 171.5px,#f9f9ff 192px)"></i>
<i style="top:207px;left:77px;width:192px;background:linear-gradient(90deg,#f1f1ff 0px,#fcfcff 30.5px,#ffe6e6 39.5px,#ffafaf 48.5px,#ffa0a0 52.5px,#ff9c9c 72.5px,#ffa4a4 73.5px,#fee 76.5px,#fffefe 77.5px,#ebebff 78.5px,#9494ff 79.5px,#3030ff 80.5px,#0303ff 81.5px,#0000d7 84.5px,#000094 86.5px,#a0c7ff 87.5px,#a0c7ff 115.5px,#000070 116.5px,#0000b5 119.5px,#0000f3 124.5px,#0f0fff 127.5px,#6161ff 139.5px,#c6c6ff 160.5px,#f2f2ff 179.5px,#fbfbff 192px)"></i>
<i style="top:208px;left:77px;width:192px;background:linear-gradient(90deg,#f2f2ff 0px,#fcfcff 29.5px,#fff3f3 35.5px,#ffbcbc 46.5px,#ff9f9f 50.5px,#ff9797 72.5px,#ffa4a4 73.5px,#fff2f2 76.5px,#fff 77.5px,#d7d7ff 78.5px,#0c0cff 80.5px,#0000ed 81.5px,#0000d3 83.5px,#00009c 85.5px,#00006f 86.5px,#a0c7ff 87.5px,#a0c7ff 115.5px,#00004b 116.5px,#000098 119.5px,#0000d4 123.5px,#0303ff 129.5px,#7575ff 146.5px,#c8c8ff 164.5px,#efefff 183.5px,#f4f4ff 192px)"></i>
<i style="top:209px;left:77px;width:192px;background:linear-gradient(90deg,#efefff 0px,#fafaff 30.5px,#fffafa 34.5px,#ffc6c6 45.5px,#ffa3a3 50.5px,#ff9898 68.5px,#ff9a9a 72.5px,#ffc4c4 74.5px,#fff6f6 76.5px,#fafaff 77.5px,#c8c8ff 78.5px,#5d5dff 79.5px,#0000f9 80.5px,#0000ab 84.5px,#000087 85.5px,#000054 86.5px,#a0c7ff 87.5px,#a0c7ff 115.5px,#000031 116.5px,#000086 119.5px,#0000c6 123.5px,#0000fd 130.5px,#8f8fff 152.5px,#d5d5ff 169.5px,#f5f5ff 190.5px,#f5f5ff 192px)"></i>
<i style="top:210px;left:77px;width:192px;background:linear-gradient(90deg,#f1f1ff 0px,#fcfcff 30.5px,#ffe4e4 39.5px,#ffabab 48.5px,#f99 54.5px,#ff9292 71.5px,#ff9898 72.5px,#fff9f9 76.5px,#f7f7ff 77.5px,#b4b4ff 78.5px,#4141ff 79.5px,#0000e8 80.5px,#0000b1 83.5px,#000094 84.5px,#00006b 85.5px,#000031 86.5px,#a0c7ff 87.5px,#a0c7ff 116.5px,#000034 117.5px,#000084 120.5px,#0000c1 124.5px,#0000fc 132.5px,#9c9cff 156.5px,#dadaff 172.5px,#f4f4ff 192px)"></i>
<i style="top:211px;left:77px;width:192px;background:linear-gradient(90deg,#eef 0px,#fafaff 31.5px,#fff7f7 36.5px,#ffbdbd 48.5px,#ffa4a4 59.5px,#ffa2a2 71.5px,#ffbebe 73.5px,#fffcfc 76.5px,#f7f7ff 77.5px,#b6b6ff 78.5px,#55f 79.5px,#0303ff 80.5px,#0000d2 83.5px,#000094 85.5px,#000060 86.5px,#a0c7ff 87.5px,#a0c7ff 116.5px,#000069 117.5px,#0000ad 120.5px,#0000eb 125.5px,#0202ff 128.5px,#5959ff 140.5px,#c3c3ff 161.5px,#f1f1ff 180.5px,#fafaff 192px)"></i>
<i style="top:212px;left:77px;width:192px;background:linear-gradient(90deg,#eaeaff 0px,#f5f5ff 31.5px,#fffdfd 36.5px,#ffc4c4 48.5px,#ffa8a8 61.5px,#ffa9a9 71.5px,#ffc8c8 73.5px,#fff2f2 75.5px,#fffefe 76.5px,#f0f0ff 77.5px,#a8a8ff 78.5px,#4747ff 79.5px,#0000fb 80.5px,#00c 83.5px,#000089 85.5px,#a0c7ff 86.5px,#a0c7ff 116.5px,#000061 117.5px,#0000a8 120.5px,#0000e8 125.5px,#0707ff 129.5px,#6d6dff 144.5px,#c9c9ff 163.5px,#f2f2ff 182.5px,#fafaff 192px)"></i>
<i style="top:213px;left:77px;width:192px;background:linear-gradient(90deg,#ededff 0px,#f8f8ff 31.5px,#fffafa 36.5px,#ffc0c0 48.5px,#ffa2a2 62.5px,#ffa5a5 71.5px,#fff5f5 75.5px,#fff 76.5px,#e7e7ff 77.5px,#9494ff 78.5px,#2e2eff 79.5px,#0000ec 80.5px,#0000b8 83.5px,#009 84.5px,#00006c 85.5px,#a0c7ff 86.5px,#a0c7ff 116.5px,#000045 117.5px,#000093 120.5px,#0000cf 124.5px,#0000fe 130.5px,#8787ff 150.5px,#d4d4ff 167.5px,#f8f8ff 187.5px,#fbfbff 192px)"></i>
<i style="top:214px;left:77px;width:192px;background:linear-gradient(90deg,#eef 0px,#f9f9ff 31.5px,#fff8f8 36.5px,#ffc2c2 47.5px,#ffb0b0 51.5px,#ff9a9a 68.5px,#ffa1a1 71.5px,#fff7f7 75.5px,#fff 76.5px,#d8d8ff 77.5px,#77f 78.5px,#0707ff 79.5px,#0000d3 80.5px,#0000b1 82.5px,#000071 84.5px,#00003b 85.5px,#a0c7ff 86.5px,#a0c7ff 116.5px,#00001e 117.5px,#000084 121.5px,#0000c0 125.5px,#0000fa 133.5px,#3838ff 141.5px,#b0b0ff 160.5px,#e8e8ff 176.5px,#fbfbff 192px)"></i>
<i style="top:215px;left:77px;width:192px;background:linear-gradient(90deg,#ededff 0px,#f7f7ff 31.5px,#fffbfb 36.5px,#ffc3c3 48.5px,#ffb7b7 52.5px,#ffa1a1 69.5px,#ffabab 71.5px,#fffafa 75.5px,#fffefe 76.5px,#ceceff 77.5px,#0707ff 79.5px,#0000d9 80.5px,#0000b7 82.5px,#000076 84.5px,#000040 85.5px,#a0c7ff 86.5px,#a0c7ff 116.5px,#000021 117.5px,#000079 120.5px,#0000bc 124.5px,#0000f6 131.5px,#0b0bff 134.5px,#9a9aff 155.5px,#dcdcff 171.5px,#fbfbff 192px)"></i>
<i style="top:216px;left:77px;width:192px;background:linear-gradient(90deg,#ebebff 0px,#f4f4ff 32.5px,#fffcfc 38.5px,#ffc7c7 51.5px,#ffafaf 69.5px,#ffbcbc 71.5px,#fffdfd 75.5px,#fafaff 76.5px,#c8c8ff 77.5px,#22f 79.5px,#0000f1 80.5px,#0000d4 82.5px,#00009a 84.5px,#000069 85.5px,#a0c7ff 86.5px,#a0c7ff 116.5px,#000054 117.5px,#0000a1 120.5px,#0000db 124.5px,#0404ff 129.5px,#6060ff 142.5px,#c4c4ff 162.5px,#f1f1ff 181.5px,#fafaff 192px)"></i>
<i style="top:217px;left:77px;width:192px;background:linear-gradient(90deg,#e7e7ff 0px,#f1f1ff 32.5px,#fffafa 39.5px,#ffc3c3 51.5px,#faa 69.5px,#ffbcbc 71.5px,#fff4f4 74.5px,#fffefe 75.5px,#f5f5ff 76.5px,#b1b1ff 77.5px,#4d4dff 78.5px,#0000f2 79.5px,#00c 80.5px,#0000a7 82.5px,#000089 83.5px,#00005c 84.5px,#00001e 85.5px,#a0c7ff 86.5px,#a0c7ff 116.5px,#00001e 117.5px,#000030 118.5px,#000080 121.5px,#0000be 125.5px,#0000fa 133.5px,#1919ff 137.5px,#9f9fff 157.5px,#dfdfff 173.5px,#fafaff 192px)"></i>
<i style="top:218px;left:77px;width:192px;background:linear-gradient(90deg,#ececff 0px,#f7f7ff 33.5px,#fffbfb 38.5px,#ffc6c6 51.5px,#ffb7b7 63.5px,#ffadad 69.5px,#ffc2c2 71.5px,#fff7f7 74.5px,#fff 75.5px,#ededff 76.5px,#a9a9ff 77.5px,#4e4eff 78.5px,#0000f9 79.5px,#0000da 80.5px,#0000b6 82.5px,#000098 83.5px,#00006d 84.5px,#a0c7ff 85.5px,#a0c7ff 116.5px,#000026 117.5px,#00007f 120.5px,#0000c2 124.5px,#0000fb 131.5px,#a0a0ff 156.5px,#e0e0ff 173.5px,#f9f9ff 192px)"></i>
<i style="top:219px;left:77px;width:192px;background:linear-gradient(90deg,#e6e6ff 0px,#efefff 33.5px,#fffafa 41.5px,#ffd2d2 51.5px,#ffc5c5 63.5px,#ffb9b9 69.5px,#fffafa 74.5px,#fff 75.5px,#e3e3ff 76.5px,#9f9fff 77.5px,#4848ff 78.5px,#0000fa 79.5px,#0000de 80.5px,#0000ba 82.5px,#00009c 83.5px,#000070 84.5px,#a0c7ff 85.5px,#a0c7ff 117.5px,#000052 118.5px,#00009b 121.5px,#0000d3 125.5px,#0101ff 131.5px,#7b7bff 149.5px,#ceceff 167.5px,#f4f4ff 187.5px,#f7f7ff 192px)"></i>
<i style="top:220px;left:77px;width:192px;background:linear-gradient(90deg,#e3e3ff 0px,#ededff 33.5px,#fffdfd 41.5px,#ffd6d6 51.5px,#fcc 63.5px,#ffbfbf 69.5px,#fffcfc 74.5px,#fff 75.5px,#dcdcff 76.5px,#9494ff 77.5px,#3d3dff 78.5px,#0000f4 79.5px,#0000b1 82.5px,#000090 83.5px,#000060 84.5px,#a0c7ff 85.5px,#a0c7ff 117.5px,#000046 118.5px,#000093 121.5px,#0000ce 125.5px,#0404ff 132.5px,#8a8aff 152.5px,#d5d5ff 169.5px,#f8f8ff 189.5px,#f9f9ff 192px)"></i>
<i style="top:221px;left:77px;width:192px;background:linear-gradient(90deg,#e1e1ff 0px,#eaeaff 33.5px,#fffcfc 42.5px,#ffd5d5 51.5px,#fcc 64.5px,#ffc4c4 69.5px,#fffdfd 74.5px,#fafaff 75.5px,#cacaff 76.5px,#7878ff 77.5px,#1919ff 78.5px,#0000dc 79.5px,#00008f 82.5px,#000068 83.5px,#000030 84.5px,#a0c7ff 85.5px,#a0c7ff 117.5px,#00001e 118.5px,#000071 121.5px,#0000b4 125.5px,#00e 132.5px,#0707ff 136.5px,#9898ff 157.5px,#dbdbff 173.5px,#f8f8ff 192px)"></i>
<i style="top:222px;left:77px;width:192px;background:linear-gradient(90deg,#e4e4ff 0px,#eef 34.5px,#fffdfd 42.5px,#ffdcdc 51.5px,#ffd3d3 65.5px,#ffcfcf 69.5px,#fff 74.5px,#f0f0ff 75.5px,#c1c1ff 76.5px,#2929ff 78.5px,#00e 79.5px,#00a 82.5px,#000086 83.5px,#000052 84.5px,#a0c7ff 85.5px,#a0c7ff 117.5px,#000045 118.5px,#000092 121.5px,#0000ce 125.5px,#0303ff 132.5px,#8686ff 152.5px,#cfcfff 169.5px,#f2f2ff 189.5px,#f4f4ff 192px)"></i>
<i style="top:223px;left:77px;width:192px;background:linear-gradient(90deg,#e0e0ff 0px,#ebebff 35.5px,#fffdfd 44.5px,#ffe5e5 51.5px,#ffdcdc 66.5px,#fdd 69.5px,#fffefe 73.5px,#fefeff 74.5px,#f0f0ff 75.5px,#bebeff 76.5px,#2f2fff 78.5px,#0000f4 79.5px,#0000b1 82.5px,#00008c 83.5px,#000057 84.5px,#a0c7ff 85.5px,#a0c7ff 117.5px,#000051 118.5px,#00009d 121.5px,#0000d7 125.5px,#0000fe 130.5px,#6868ff 145.5px,#c7c7ff 164.5px,#f3f3ff 183.5px,#fafaff 192px)"></i>
<i style="top:224px;left:77px;width:192px;background:linear-gradient(90deg,#dedeff 0px,#e8e8ff 35.5px,#fffdfd 45.5px,#ffe9e9 52.5px,#ffe1e1 68.5px,#fffefe 72.5px,#fbfbff 74.5px,#e1e1ff 75.5px,#aaf 76.5px,#1717ff 78.5px,#0000e6 79.5px,#00009d 82.5px,#000074 83.5px,#a0c7ff 84.5px,#a0c7ff 117.5px,#00003b 118.5px,#00008c 121.5px,#0000ca 125.5px,#00f 132.5px,#8484ff 152.5px,#cfcfff 169.5px,#f3f3ff 189.5px,#f5f5ff 192px)"></i>
<i style="top:225px;left:77px;width:192px;background:linear-gradient(90deg,#e4e4ff 0px,#eef 35.5px,#fffdfd 43.5px,#ffe4e4 52.5px,#ffe1e1 68.5px,#fcfcff 72.5px,#fdfdff 74.5px,#dbdbff 75.5px,#9f9fff 76.5px,#0a0aff 78.5px,#0000c6 80.5px,#000090 82.5px,#000063 83.5px,#a0c7ff 84.5px,#a0c7ff 117.5px,#00002d 118.5px,#000083 121.5px,#0000c4 125.5px,#0000fb 132.5px,#9f9fff 157.5px,#e0e0ff 174.5px,#f9f9ff 192px)"></i>
<i style="top:226px;left:77px;width:192px;background:linear-gradient(90deg,#e0e0ff 0px,#ebebff 36.5px,#fffefe 45.5px,#ffecec 52.5px,#ffecec 68.5px,#fdfdff 71.5px,#f3f3ff 74.5px,#cdcdff 75.5px,#4b4bff 77.5px,#0303ff 78.5px,#0000c5 80.5px,#00008d 82.5px,#00005d 83.5px,#a0c7ff 84.5px,#a0c7ff 117.5px,#00002f 118.5px,#000084 121.5px,#0000c4 125.5px,#0000fb 132.5px,#9c9cff 157.5px,#dbdbff 174.5px,#f4f4ff 192px)"></i>
<i style="top:227px;left:77px;width:192px;background:linear-gradient(90deg,#ddf 0px,#e6e6ff 36.5px,#fffdfd 47.5px,#fff4f4 55.5px,#fff6f6 68.5px,#f8f8ff 71.5px,#f2f2ff 74.5px,#cacaff 75.5px,#4c4cff 77.5px,#0909ff 78.5px,#0000b4 81.5px,#000092 82.5px,#000061 83.5px,#a0c7ff 84.5px,#a0c7ff 117.5px,#00003a 118.5px,#00008e 121.5px,#0000cd 125.5px,#0000fd 131.5px,#8383ff 151.5px,#d3d3ff 169.5px,#f7f7ff 189.5px,#f9f9ff 192px)"></i>
<i style="top:228px;left:77px;width:192px;background:linear-gradient(90deg,#d9d9ff 0px,#e2e2ff 36.5px,#fffbfb 49.5px,#fcfcff 69.5px,#f3f3ff 72.5px,#fffbfb 73.5px,#eef 74.5px,#c2c2ff 75.5px,#00f 78.5px,#0000c6 80.5px,#008 82.5px,#000053 83.5px,#a0c7ff 84.5px,#a0c7ff 117.5px,#000032 118.5px,#008 121.5px,#0000ca 125.5px,#0000fb 131.5px,#9494ff 154.5px,#dbdbff 171.5px,#fcfcff 192px)"></i>
<i style="top:229px;left:77px;width:192px;background:linear-gradient(90deg,#dcdcff 0px,#e5e5ff 36.5px,#fffafa 48.5px,#fffafa 67.5px,#fafaff 69.5px,#f1f1ff 72.5px,#fdfdff 73.5px,#e0e0ff 74.5px,#acacff 75.5px,#1f1fff 77.5px,#0000e6 78.5px,#008 81.5px,#00005d 82.5px,#00001e 83.5px,#a0c7ff 84.5px,#a0c7ff 118.5px,#000027 119.5px,#00007b 122.5px,#00b 126.5px,#0000f2 133.5px,#0505ff 136.5px,#9494ff 157.5px,#d9d9ff 173.5px,#f8f8ff 192px)"></i>
<i style="top:230px;left:77px;width:192px;background:linear-gradient(90deg,#dfdfff 0px,#e9e9ff 37.5px,#fffbfb 48.5px,#fafaff 68.5px,#f0f0ff 72.5px,#f2f2ff 73.5px,#d4d4ff 74.5px,#66f 76.5px,#2424ff 77.5px,#00e 78.5px,#000096 81.5px,#00006c 82.5px,#a0c7ff 83.5px,#a0c7ff 118.5px,#000041 119.5px,#00008e 122.5px,#0000c9 126.5px,#0000fc 133.5px,#9696ff 157.5px,#d7d7ff 174.5px,#f1f1ff 192px)"></i>
<i style="top:231px;left:77px;width:192px;background:linear-gradient(90deg,#dadaff 0px,#e4e4ff 37.5px,#fffefe 50.5px,#f9f9ff 67.5px,#eef 72.5px,#f7f7ff 73.5px,#d2d2ff 74.5px,#5a5aff 76.5px,#1212ff 77.5px,#0000e0 78.5px,#00007d 81.5px,#00004b 82.5px,#a0c7ff 83.5px,#a0c7ff 118.5px,#000025 119.5px,#00007b 122.5px,#0000bc 126.5px,#0000f4 133.5px,#0808ff 136.5px,#9797ff 157.5px,#dbdbff 173.5px,#fbfbff 192px)"></i>
<i style="top:232px;left:77px;width:192px;background:linear-gradient(90deg,#dadaff 0px,#e4e4ff 38.5px,#fafaff 51.5px,#f6f6ff 66.5px,#eaeaff 71.5px,#fefeff 72.5px,#eef 73.5px,#cacaff 74.5px,#5d5dff 76.5px,#1d1dff 77.5px,#0000eb 78.5px,#00008c 81.5px,#00005b 82.5px,#a0c7ff 83.5px,#a0c7ff 118.5px,#004 119.5px,#000092 122.5px,#0000cd 126.5px,#0202ff 133.5px,#8686ff 153.5px,#d1d1ff 170.5px,#f5f5ff 190.5px,#f6f6ff 192px)"></i>
<i style="top:233px;left:77px;width:192px;background:linear-gradient(90deg,#d8d8ff 0px,#e1e1ff 38.5px,#f7f7ff 51.5px,#f1f1ff 66.5px,#e9e9ff 71.5px,#fcfcff 72.5px,#e7e7ff 73.5px,#bfbfff 74.5px,#4b4bff 76.5px,#0808ff 77.5px,#009 80.5px,#000072 81.5px,#00003a 82.5px,#a0c7ff 83.5px,#a0c7ff 118.5px,#00002f 119.5px,#000082 122.5px,#0000c1 126.5px,#0000f7 133.5px,#1313ff 137.5px,#9e9eff 159.5px,#dedeff 176.5px,#f5f5ff 192px)"></i>
<i style="top:234px;left:77px;width:192px;background:linear-gradient(90deg,#d4d4ff 0px,#dedeff 39.5px,#efefff 51.5px,#e7e7ff 67.5px,#e7e7ff 71.5px,#fffefe 72.5px,#e9e9ff 73.5px,#9393ff 75.5px,#1e1eff 77.5px,#0000ec 78.5px,#000086 81.5px,#00004e 82.5px,#a0c7ff 83.5px,#a0c7ff 118.5px,#000052 119.5px,#00009d 122.5px,#0000d7 126.5px,#0000fe 131.5px,#6d6dff 147.5px,#cacaff 166.5px,#f6f6ff 185.5px,#fcfcff 192px)"></i>
<i style="top:235px;left:77px;width:192px;background:linear-gradient(90deg,#dadaff 0px,#e2e2ff 38.5px,#f4f4ff 51.5px,#f0f0ff 65.5px,#e6e6ff 71.5px,#fcfcff 72.5px,#e1e1ff 73.5px,#8282ff 75.5px,#0404ff 77.5px,#000092 80.5px,#000064 81.5px,#a0c7ff 82.5px,#a0c7ff 118.5px,#000037 119.5px,#000089 122.5px,#0000c7 126.5px,#0000fd 133.5px,#9595ff 156.5px,#dcdcff 173.5px,#fafaff 192px)"></i>
<i style="top:236px;left:77px;width:192px;background:linear-gradient(90deg,#d9d9ff 0px,#e2e2ff 39.5px,#efefff 52.5px,#e7e7ff 66.5px,#e2e2ff 70.5px,#fff8f8 71.5px,#fbfbff 72.5px,#e1e1ff 73.5px,#8a8aff 75.5px,#1919ff 77.5px,#0000ea 78.5px,#0000a6 80.5px,#000079 81.5px,#a0c7ff 82.5px,#a0c7ff 118.5px,#00005b 119.5px,#0000a5 122.5px,#0000de 126.5px,#0000fe 130.5px,#6161ff 144.5px,#c9c9ff 165.5px,#f6f6ff 184.5px,#fdfdff 192px)"></i>
<i style="top:237px;left:77px;width:192px;background:linear-gradient(90deg,#d0d0ff 0px,#dadaff 39.5px,#e6e6ff 52.5px,#e0e0ff 70.5px,#f1f1ff 71.5px,#e2e2ff 72.5px,#c1c1ff 73.5px,#5d5dff 75.5px,#1f1fff 76.5px,#0000ea 77.5px,#00006d 80.5px,#000036 81.5px,#a0c7ff 82.5px,#a0c7ff 118.5px,#00001f 119.5px,#000075 122.5px,#0000b6 126.5px,#00e 133.5px,#0404ff 137.5px,#9090ff 159.5px,#d0d0ff 176.5px,#e9e9ff 192px)"></i>
<i style="top:238px;left:77px;width:192px;background:linear-gradient(90deg,#dcdcff 0px,#e6e6ff 40.5px,#eef 59.5px,#e0e0ff 67.5px,#dfdfff 70.5px,#fbfbff 71.5px,#eaeaff 72.5px,#a5a5ff 74.5px,#0404ff 77.5px,#000090 80.5px,#00005c 81.5px,#a0c7ff 82.5px,#a0c7ff 118.5px,#005 119.5px,#0000a0 122.5px,#0000d9 126.5px,#00f 131.5px,#6464ff 146.5px,#c3c3ff 166.5px,#efefff 185.5px,#f5f5ff 192px)"></i>
<i style="top:239px;left:77px;width:192px;background:linear-gradient(90deg,#dadaff 0px,#e3e3ff 40.5px,#e9e9ff 63.5px,#ddf 70.5px,#f7f7ff 71.5px,#e3e3ff 72.5px,#9797ff 74.5px,#2a2aff 76.5px,#0000f2 77.5px,#000073 80.5px,#a0c7ff 81.5px,#a0c7ff 118.5px,#00003e 119.5px,#00008f 122.5px,#00c 126.5px,#00f 133.5px,#8080ff 153.5px,#ceceff 171.5px,#f2f2ff 192px)"></i>
<i style="top:240px;left:77px;width:192px;background:linear-gradient(90deg,#dadaff 0px,#e3e3ff 40.5px,#e5e5ff 64.5px,#dcdcff 70.5px,#f9f9ff 71.5px,#e2e2ff 72.5px,#9292ff 74.5px,#2121ff 76.5px,#0000eb 77.5px,#000061 80.5px,#a0c7ff 81.5px,#a0c7ff 118.5px,#000035 119.5px,#000089 122.5px,#0000c8 126.5px,#0000fd 133.5px,#9292ff 156.5px,#d8d8ff 173.5px,#f7f7ff 192px)"></i>
<i style="top:241px;left:77px;width:192px;background:linear-gradient(90deg,#d5d5ff 0px,#dfdfff 41.5px,#dbdbff 66.5px,#d9d9ff 69.5px,#fffdfd 70.5px,#f5f5ff 71.5px,#b8b8ff 73.5px,#5454ff 75.5px,#1616ff 76.5px,#0000e4 77.5px,#00004f 80.5px,#a0c7ff 81.5px,#a0c7ff 118.5px,#00002f 119.5px,#000084 122.5px,#0000c5 126.5px,#0000fb 133.5px,#9f9fff 159.5px,#dfdfff 176.5px,#f7f7ff 192px)"></i>
<i style="top:242px;left:77px;width:192px;background:linear-gradient(90deg,#dbdbff 0px,#e4e4ff 41.5px,#e1e1ff 64.5px,#d8d8ff 69.5px,#fff7f7 70.5px,#fafaff 71.5px,#bdbdff 73.5px,#5e5eff 75.5px,#2323ff 76.5px,#0000ed 77.5px,#000058 80.5px,#a0c7ff 81.5px,#a0c7ff 118.5px,#000047 119.5px,#000097 122.5px,#0000d5 126.5px,#0000fd 131.5px,#7171ff 148.5px,#d1d1ff 168.5px,#fbfbff 187.5px,#fff 192px)"></i>
<i style="top:330px;left:77px;width:221px;background:linear-gradient(90deg,#ff8c8c 0px,#ff6a6a 16.5px,#ff2727 28.5px,#fc0000 46.5px,#e40000 62.5px,#c50000 67.5px,#900 70.5px,#610000 72.5px,#350000 73.5px,#1c0000 74.5px,#1c0000 75.5px,#ffb8e2 76.5px,#ffb8e2 117.5px,#c40000 118.5px,#e90000 120.5px,#fc0000 124.5px,#ff4d4d 125.5px,#ffdcdc 126.5px,#fff 127.5px,#ffe7e7 130.5px,#fdd 138.5px,#ffd0d0 145.5px,#ffd0d0 221px)"></i>
<i style="top:331px;left:77px;width:221px;background:linear-gradient(90deg,#ff9595 0px,#ff7171 17.5px,#ff3131 29.5px,#fe0000 53.5px,#e40000 64.5px,#c40000 68.5px,#8d0000 71.5px,#430000 73.5px,#1c0000 74.5px,#1c0000 75.5px,#ffb8e2 76.5px,#ffb8e2 116.5px,#a50000 117.5px,#c80000 118.5px,#eb0000 120.5px,#ff0101 124.5px,#fff5f5 126.5px,#fff 127.5px,#ffebeb 129.5px,#ffe5e5 137.5px,#ffd3d3 144.5px,#ffd3d3 221px)"></i>
<i style="top:332px;left:77px;width:221px;background:linear-gradient(90deg,#ff8a8a 0px,#ff6464 17.5px,#ff2121 29.5px,#fc0000 44.5px,#e20000 62.5px,#ba0000 68.5px,#850000 71.5px,#1c0000 74.5px,#1c0000 75.5px,#ffb8e2 76.5px,#ffb8e2 116.5px,#ac0000 117.5px,#cd0000 118.5px,#ed0000 120.5px,#fb0000 123.5px,#ff1616 124.5px,#ffa3a3 125.5px,#fff 126.5px,#fee 130.5px,#ffe8e8 137.5px,#ffd7d7 144.5px,#ffd6d6 221px)"></i>
<i style="top:333px;left:77px;width:221px;background:linear-gradient(90deg,#ff9393 0px,#ff6e6e 17.5px,#ff2c2c 29.5px,#fc0000 50.5px,#e60000 63.5px,#c20000 68.5px,#8f0000 71.5px,#4b0000 73.5px,#1c0000 74.5px,#1c0000 75.5px,#ffb8e2 76.5px,#ffb8e2 116.5px,#b30000 117.5px,#e30000 119.5px,#fb0000 123.5px,#ff3737 124.5px,#ffcbcb 125.5px,#fffefe 126.5px,#fff3f3 132.5px,#ffe3e3 139.5px,#ffdada 153.5px,#ffdada 221px)"></i>
<i style="top:334px;left:77px;width:221px;background:linear-gradient(90deg,#ff9696 0px,#ff8181 11.5px,#ff6464 19.5px,#ff2b2b 29.5px,#fc0000 48.5px,#e40000 63.5px,#c10000 68.5px,#900000 71.5px,#4e0000 73.5px,#1c0000 74.5px,#1c0000 75.5px,#ffb8e2 76.5px,#ffb8e2 116.5px,#b90000 117.5px,#e50000 119.5px,#fc0000 123.5px,#ff6060 124.5px,#ffeaea 125.5px,#fff 126.5px,#fff4f4 137.5px,#ffe4e4 144.5px,#ffe3e3 221px)"></i>
<i style="top:335px;left:77px;width:221px;background:linear-gradient(90deg,#ff9696 0px,#ff8282 9.5px,#ff6969 18.5px,#ff2727 29.5px,#fc0000 46.5px,#e00000 63.5px,#bf0000 68.5px,#8f0000 71.5px,#4f0000 73.5px,#1c0000 74.5px,#1c0000 75.5px,#ffb8e2 76.5px,#ffb8e2 116.5px,#be0000 117.5px,#e70000 119.5px,#ff0404 123.5px,#fffafa 125.5px,#fffbfb 137.5px,#ffeaea 144.5px,#ffeaea 221px)"></i>
<i style="top:336px;left:77px;width:221px;background:linear-gradient(90deg,#ffa6a6 0px,#ff9292 10.5px,#ff7979 19.5px,#ff4040 30.5px,#f90000 62.5px,#d40000 68.5px,#a60000 71.5px,#680000 73.5px,#370000 74.5px,#1c0000 75.5px,#ffb8e2 76.5px,#ffb8e2 116.5px,#c40000 117.5px,#e90000 119.5px,#fa0000 122.5px,#ff1212 123.5px,#ff9e9e 124.5px,#fff 125.5px,#f4f4ff 130.5px,#fffcfc 138.5px,#fff0f0 146.5px,#fff0f0 221px)"></i>
<i style="top:337px;left:77px;width:221px;background:linear-gradient(90deg,#ff9f9f 0px,#ff8a8a 8.5px,#ff7373 18.5px,#ff2f2f 30.5px,#fd0000 51.5px,#e40000 64.5px,#bd0000 69.5px,#830000 72.5px,#610000 73.5px,#320000 74.5px,#1c0000 75.5px,#ffb8e2 76.5px,#ffb8e2 115.5px,#a60000 116.5px,#c90000 117.5px,#eb0000 119.5px,#fb0000 122.5px,#ff2424 123.5px,#ffb7b7 124.5px,#fffefe 125.5px,#fff9f9 137.5px,#ffe9e9 144.5px,#ffe8e8 221px)"></i>
<i style="top:338px;left:77px;width:221px;background:linear-gradient(90deg,#ff9b9b 0px,#ff8585 7.5px,#ff6d6d 18.5px,#ff2828 30.5px,#fc0000 47.5px,#e40000 63.5px,#c50000 68.5px,#9a0000 71.5px,#610000 73.5px,#350000 74.5px,#1c0000 75.5px,#1c0000 76.5px,#ffb8e2 77.5px,#ffb8e2 115.5px,#af0000 116.5px,#ce0000 117.5px,#ed0000 119.5px,#fb0000 122.5px,#ff3b3b 123.5px,#ffcece 124.5px,#f5f5ff 125.5px,#f3f3ff 135.5px,#fff 138.5px,#fff3f3 147.5px,#fff2f2 221px)"></i>
<i style="top:339px;left:77px;width:221px;background:linear-gradient(90deg,#ff9f9f 0px,#ff8a8a 7.5px,#ff7373 18.5px,#ff2f2f 30.5px,#fd0000 51.5px,#e50000 64.5px,#c10000 69.5px,#8b0000 72.5px,#420000 74.5px,#1c0000 75.5px,#1c0000 76.5px,#ffb8e2 77.5px,#ffb8e2 115.5px,#b70000 116.5px,#e40000 118.5px,#fb0000 122.5px,#ff5353 123.5px,#ffe1e1 124.5px,#fff 125.5px,#fff9f9 137.5px,#ffeaea 144.5px,#ffe8e8 221px)"></i>
<i style="top:340px;left:77px;width:221px;background:linear-gradient(90deg,#ffa8a8 0px,#ff9292 7.5px,#ff7d7d 18.5px,#ff3939 31.5px,#fd0000 59.5px,#de0000 67.5px,#ae0000 71.5px,#7a0000 73.5px,#520000 74.5px,#1c0000 75.5px,#1c0000 76.5px,#ffb8e2 77.5px,#ffb8e2 115.5px,#be0000 116.5px,#e70000 118.5px,#fd0000 122.5px,#ff6d6d 123.5px,#fff1f1 124.5px,#fafaff 125.5px,#f8f8ff 135.5px,#fff9f9 138.5px,#ffeded 149.5px,#ffeded 221px)"></i>
<i style="top:341px;left:77px;width:221px;background:linear-gradient(90deg,#ffa0a0 0px,#ff8989 7.5px,#ff7373 18.5px,#ff2f2f 30.5px,#fd0000 51.5px,#e60000 64.5px,#c40000 69.5px,#920000 72.5px,#500000 74.5px,#1c0000 75.5px,#1c0000 76.5px,#ffb8e2 77.5px,#ffb8e2 115.5px,#c40000 116.5px,#e90000 118.5px,#ff0606 122.5px,#f88 123.5px,#fffbfb 124.5px,#f5f5ff 134.5px,#fff8f8 138.5px,#ffecec 151.5px,#ffecec 221px)"></i>
<i style="top:342px;left:77px;width:221px;background:linear-gradient(90deg,#ff9e9e 0px,#ff8787 6.5px,#ff7070 18.5px,#ff2828 30.5px,#fc0000 47.5px,#e10000 64.5px,#c00000 69.5px,#900000 72.5px,#510000 74.5px,#1e0000 75.5px,#1c0000 76.5px,#ffb8e2 77.5px,#ffb8e2 114.5px,#a80000 115.5px,#ca0000 116.5px,#ec0000 118.5px,#fb0000 121.5px,#ff1515 122.5px,#ffa2a2 123.5px,#fff 124.5px,#f3f3ff 133.5px,#fffdfd 137.5px,#fee 144.5px,#ffebeb 221px)"></i>
<i style="top:343px;left:77px;width:221px;background:linear-gradient(90deg,#ffa3a3 0px,#ff8b8b 6.5px,#ff7474 18.5px,#ff2929 31.5px,#fc0000 49.5px,#e40000 64.5px,#c40000 69.5px,#960000 72.5px,#590000 74.5px,#290000 75.5px,#1c0000 76.5px,#ffb8e2 77.5px,#ffb8e2 114.5px,#b00000 115.5px,#cf0000 116.5px,#ed0000 118.5px,#fb0000 121.5px,#ff2828 122.5px,#fbb 123.5px,#fff 124.5px,#f7f7ff 134.5px,#fffbfb 137.5px,#ffebeb 145.5px,#ffe9e9 221px)"></i>
<i style="top:344px;left:77px;width:221px;background:linear-gradient(90deg,#ffa9a9 0px,#ff9292 6.5px,#ff7d7d 18.5px,#ff3636 31.5px,#fe0000 56.5px,#e50000 66.5px,#c30000 70.5px,#890000 73.5px,#680000 74.5px,#3a0000 75.5px,#1c0000 76.5px,#ffb8e2 77.5px,#ffb8e2 114.5px,#b80000 115.5px,#e50000 117.5px,#fb0000 121.5px,#ff3f3f 122.5px,#ffd1d1 123.5px,#fffbfb 124.5px,#fcfcff 134.5px,#fff1f1 138.5px,#ffe4e4 158.5px,#ffe4e4 221px)"></i>
<i style="top:345px;left:77px;width:221px;background:linear-gradient(90deg,#ffa9a9 0px,#ff9292 6.5px,#ff7e7e 18.5px,#ff3737 31.5px,#fe0000 57.5px,#e60000 66.5px,#c60000 70.5px,#8e0000 73.5px,#430000 75.5px,#1c0000 76.5px,#1c0000 77.5px,#ffb8e2 78.5px,#ffb8e2 114.5px,#bf0000 115.5px,#e70000 117.5px,#fc0000 121.5px,#ff5858 122.5px,#ffe4e4 123.5px,#fefeff 124.5px,#f6f6ff 134.5px,#fffcfc 137.5px,#ffecec 144.5px,#ffe9e9 221px)"></i>
<i style="top:346px;left:77px;width:221px;background:linear-gradient(90deg,#ffa2a2 0px,#ff8a8a 6.5px,#ff7474 18.5px,#ff2929 31.5px,#fc0000 49.5px,#e20000 65.5px,#be0000 70.5px,#8a0000 73.5px,#430000 75.5px,#1c0000 76.5px,#1c0000 77.5px,#ffb8e2 78.5px,#ffb8e2 114.5px,#c50000 115.5px,#ea0000 117.5px,#ff0202 121.5px,#fff7f7 123.5px,#fbfbff 125.5px,#f8f8ff 135.5px,#fff8f8 138.5px,#ffe9e9 146.5px,#ffe6e6 221px)"></i>
<i style="top:347px;left:77px;width:221px;background:linear-gradient(90deg,#ffadad 0px,#ff9595 6.5px,#ff8080 18.5px,#ff3737 31.5px,#fe0000 56.5px,#e70000 66.5px,#bd0000 71.5px,#970000 73.5px,#540000 75.5px,#1e0000 76.5px,#1c0000 77.5px,#ffb8e2 78.5px,#ffb8e2 113.5px,#a70000 114.5px,#ca0000 115.5px,#eb0000 117.5px,#fb0000 120.5px,#ff1515 121.5px,#ffa2a2 122.5px,#fff 123.5px,#f3f3ff 133.5px,#fffcfc 138.5px,#ffebeb 145.5px,#ffe7e7 221px)"></i>
<i style="top:348px;left:77px;width:221px;background:linear-gradient(90deg,#ffa8a8 0px,#ff8e8e 6.5px,#ff7878 18.5px,#ff2a2a 31.5px,#fc0000 49.5px,#e30000 65.5px,#c20000 70.5px,#930000 73.5px,#530000 75.5px,#210000 76.5px,#1c0000 77.5px,#ffb8e2 78.5px,#ffb8e2 113.5px,#af0000 114.5px,#cf0000 115.5px,#ed0000 117.5px,#fb0000 120.5px,#ff3131 121.5px,#ffc5c5 122.5px,#fdfdff 123.5px,#ededff 131.5px,#fffdfd 139.5px,#ffeded 146.5px,#ffeaea 221px)"></i>
<i style="top:349px;left:77px;width:221px;background:linear-gradient(90deg,#ffa3a3 0px,#ff8787 6.5px,#ff7171 18.5px,#ff1f1f 31.5px,#fb0000 44.5px,#db0000 65.5px,#bc0000 70.5px,#8e0000 73.5px,#530000 75.5px,#230000 76.5px,#1c0000 77.5px,#ffb8e2 78.5px,#ffb8e2 113.5px,#b60000 114.5px,#e40000 116.5px,#fb0000 120.5px,#ff5353 121.5px,#ffe1e1 122.5px,#fafaff 123.5px,#e9e9ff 131.5px,#f5f5ff 138.5px,#fffefe 140.5px,#ffefef 148.5px,#ffecec 221px)"></i>
<i style="top:350px;left:77px;width:221px;background:linear-gradient(90deg,#ffaeae 0px,#ff9292 6.5px,#ff7c7c 18.5px,#ff2c2c 31.5px,#fc0000 49.5px,#e40000 65.5px,#c60000 70.5px,#9a0000 73.5px,#620000 75.5px,#350000 76.5px,#1c0000 77.5px,#1c0000 78.5px,#ffb8e2 79.5px,#ffb8e2 113.5px,#bd0000 114.5px,#e70000 116.5px,#f00 120.5px,#fff6f6 122.5px,#f6f6ff 124.5px,#ebebff 132.5px,#fffefe 140.5px,#ffeded 147.5px,#ffe9e9 221px)"></i>
<i style="top:351px;left:77px;width:221px;background:linear-gradient(90deg,#ffb5b5 0px,#ff9b9b 6.5px,#ff8787 18.5px,#ff3838 32.5px,#fe0000 58.5px,#e20000 68.5px,#b00 72.5px,#930000 74.5px,#4a0000 76.5px,#1c0000 77.5px,#1c0000 78.5px,#ffb8e2 79.5px,#ffb8e2 113.5px,#c30000 114.5px,#e90000 116.5px,#fa0000 119.5px,#ff1212 120.5px,#ff9e9e 121.5px,#fff 122.5px,#eaeaff 129.5px,#f7f7ff 139.5px,#fff8f8 142.5px,#ffebeb 159.5px,#ffeaea 221px)"></i>
<i style="top:352px;left:77px;width:221px;background:linear-gradient(90deg,#ffa8a8 0px,#ff8c8c 5.5px,#ff7474 18.5px,#ff2020 31.5px,#fc0000 43.5px,#dc0000 65.5px,#b60000 71.5px,#830000 74.5px,#1c0000 77.5px,#1c0000 78.5px,#ffb8e2 79.5px,#ffb8e2 113.5px,#c80000 114.5px,#eb0000 116.5px,#fa0000 119.5px,#ff2d2d 120.5px,#ffc1c1 121.5px,#f8f8ff 122.5px,#e1e1ff 128.5px,#ededff 139.5px,#fffcfc 143.5px,#ffefef 163.5px,#ffefef 221px)"></i>
<i style="top:353px;left:77px;width:221px;background:linear-gradient(90deg,#ffb2b2 0px,#ff9696 6.5px,#ff7e7e 19.5px,#ff3434 31.5px,#fd0000 53.5px,#e80000 66.5px,#c70000 71.5px,#970000 74.5px,#570000 76.5px,#250000 77.5px,#1c0000 78.5px,#ffb8e2 79.5px,#ffb8e2 112.5px,#ad0000 113.5px,#cd0000 114.5px,#ed0000 116.5px,#fb0000 119.5px,#ff4747 120.5px,#ffd8d8 121.5px,#f4f4ff 122.5px,#dedeff 129.5px,#eef 140.5px,#fffcfc 144.5px,#fff1f1 174.5px,#fff1f1 221px)"></i>
<i style="top:354px;left:77px;width:221px;background:linear-gradient(90deg,#ffb5b5 0px,#ff9898 6.5px,#ff7f7f 19.5px,#ff3434 31.5px,#fe0000 52.5px,#e80000 66.5px,#c90000 71.5px,#9c0000 74.5px,#600000 76.5px,#310000 77.5px,#1c0000 78.5px,#ffb8e2 79.5px,#ffb8e2 112.5px,#b60000 113.5px,#e40000 115.5px,#fc0000 119.5px,#ff6363 120.5px,#ffecec 121.5px,#fff 122.5px,#e8e8ff 129.5px,#fcfcff 141.5px,#ffe9e9 149.5px,#ffe5e5 221px)"></i>
<i style="top:355px;left:77px;width:221px;background:linear-gradient(90deg,#ffb3b3 0px,#ff9696 5.5px,#ff7a7a 19.5px,#ff2929 31.5px,#fc0000 47.5px,#e00000 66.5px,#c20000 71.5px,#980000 74.5px,#610000 76.5px,#350000 77.5px,#1c0000 78.5px,#1c0000 79.5px,#ffb8e2 80.5px,#ffb8e2 112.5px,#bd0000 113.5px,#e70000 115.5px,#ff0303 119.5px,#fff9f9 121.5px,#e0e0ff 127.5px,#ededff 140.5px,#fffdfd 144.5px,#fee 153.5px,#ffebeb 221px)"></i>
<i style="top:356px;left:77px;width:221px;background:linear-gradient(90deg,#ffb1b1 0px,#ff9292 6.5px,#ff7a7a 19.5px,#ff2929 32.5px,#fc0000 49.5px,#e40000 66.5px,#bd0000 72.5px,#8a0000 75.5px,#400 77.5px,#1c0000 78.5px,#1c0000 79.5px,#ffb8e2 80.5px,#ffb8e2 112.5px,#c40000 113.5px,#e90000 115.5px,#fa0000 118.5px,#ff1212 119.5px,#ff9e9e 120.5px,#fff 121.5px,#e1e1ff 126.5px,#e6e6ff 137.5px,#fffbfb 145.5px,#ffecec 159.5px,#ffecec 221px)"></i>
<i style="top:357px;left:77px;width:221px;background:linear-gradient(90deg,#ffb7b7 0px,#ff9898 6.5px,#ff8080 19.5px,#ff2e2e 32.5px,#fd0000 51.5px,#e50000 67.5px,#c30000 72.5px,#920000 75.5px,#510000 77.5px,#1d0000 78.5px,#1c0000 79.5px,#ffb8e2 80.5px,#ffb8e2 111.5px,#a70000 112.5px,#ca0000 113.5px,#eb0000 115.5px,#fb0000 118.5px,#ff2727 119.5px,#ffbaba 120.5px,#fdfdff 121.5px,#e0e0ff 126.5px,#e6e6ff 137.5px,#fffdfd 145.5px,#fee 153.5px,#ffebeb 221px)"></i>
<i style="top:358px;left:77px;width:221px;background:linear-gradient(90deg,#ffbebe 0px,#ffa0a0 5.5px,#ff8686 19.5px,#f33 32.5px,#fe0000 53.5px,#e80000 67.5px,#c80000 72.5px,#9a0000 75.5px,#5e0000 77.5px,#2d0000 78.5px,#1c0000 79.5px,#ffb8e2 80.5px,#ffb8e2 111.5px,#b00000 112.5px,#cf0000 113.5px,#ed0000 115.5px,#fb0000 118.5px,#ff4040 119.5px,#ffd2d2 120.5px,#fbfbff 121.5px,#dedeff 126.5px,#e5e5ff 137.5px,#fffbfb 146.5px,#ffecec 157.5px,#ffeaea 221px)"></i>
<i style="top:359px;left:77px;width:221px;background:linear-gradient(90deg,#ffb7b7 0px,#ff9898 6.5px,#ff8080 19.5px,#ff2e2e 32.5px,#fd0000 51.5px,#e50000 67.5px,#c70000 72.5px,#9b0000 75.5px,#620000 77.5px,#350000 78.5px,#1c0000 79.5px,#ffb8e2 80.5px,#ffb8e2 111.5px,#b70000 112.5px,#e50000 114.5px,#fb0000 118.5px,#ff5b5b 119.5px,#ffe7e7 120.5px,#fcfcff 121.5px,#dfdfff 126.5px,#e6e6ff 137.5px,#fffcfc 146.5px,#ffecec 153.5px,#ffe8e8 221px)"></i>
<i style="top:360px;left:77px;width:221px;background:linear-gradient(90deg,#ffb9b9 0px,#ff9b9b 5.5px,#ff8080 19.5px,#ff2c2c 32.5px,#fd0000 49.5px,#e40000 67.5px,#bc0000 73.5px,#860000 76.5px,#1c0000 79.5px,#1c0000 80.5px,#ffb8e2 81.5px,#ffb8e2 111.5px,#bd0000 112.5px,#e70000 114.5px,#f00 118.5px,#fff6f6 120.5px,#ececff 122.5px,#d5d5ff 128.5px,#f1f1ff 144.5px,#fffefe 147.5px,#fee 156.5px,#ffecec 221px)"></i>
<i style="top:361px;left:77px;width:221px;background:linear-gradient(90deg,#ffbaba 0px,#f99 5.5px,#ff7e7e 19.5px,#ff2424 32.5px,#fd0000 45.5px,#de0000 67.5px,#b70000 73.5px,#840000 76.5px,#1c0000 79.5px,#1c0000 80.5px,#ffb8e2 81.5px,#ffb8e2 111.5px,#c30000 112.5px,#e90000 114.5px,#fa0000 117.5px,#ff0d0d 118.5px,#ff9696 119.5px,#fffefe 120.5px,#d9d9ff 125.5px,#d7d7ff 133.5px,#fafaff 146.5px,#fff9f9 148.5px,#ffeaea 160.5px,#ffe8e8 221px)"></i>
<i style="top:362px;left:77px;width:221px;background:linear-gradient(90deg,#ffc1c1 0px,#ffa2a2 6.5px,#ff8c8c 19.5px,#ff3c3c 32.5px,#ff0303 56.5px,#ec0000 68.5px,#cb0000 73.5px,#9a0000 76.5px,#580000 78.5px,#230000 79.5px,#1c0000 80.5px,#ffb8e2 81.5px,#ffb8e2 110.5px,#a50000 111.5px,#c80000 112.5px,#eb0000 114.5px,#fb0000 117.5px,#ff1f1f 118.5px,#ffb0b0 119.5px,#f7f7ff 120.5px,#d5d5ff 125.5px,#d6d6ff 135.5px,#f5f5ff 147.5px,#fffbfb 150.5px,#fff1f1 192.5px,#fff1f1 221px)"></i>
<i style="top:363px;left:77px;width:221px;background:linear-gradient(90deg,#ffc8c8 0px,#ffa9a9 6.5px,#ff9494 19.5px,#ff4343 33.5px,#ff0d0d 58.5px,#f80000 67.5px,#d40000 73.5px,#a50000 76.5px,#670000 78.5px,#360000 79.5px,#1c0000 80.5px,#ffb8e2 81.5px,#ffb8e2 110.5px,#ad0000 111.5px,#cd0000 112.5px,#ed0000 114.5px,#fb0000 117.5px,#f33 118.5px,#ffc7c7 119.5px,#f8f8ff 120.5px,#d8d8ff 125.5px,#dadaff 135.5px,#fbfbff 148.5px,#fff0f0 160.5px,#fee 221px)"></i>
<i style="top:364px;left:77px;width:221px;background:linear-gradient(90deg,#ffb9b9 0px,#ff9898 5.5px,#ff7e7e 19.5px,#ff2727 32.5px,#fc0000 47.5px,#de0000 68.5px,#bf0000 73.5px,#930000 76.5px,#580000 78.5px,#2a0000 79.5px,#1c0000 80.5px,#ffb8e2 81.5px,#ffb8e2 110.5px,#b40000 111.5px,#e30000 113.5px,#fb0000 117.5px,#ff4a4a 118.5px,#ffdada 119.5px,#f6f6ff 120.5px,#d3d3ff 124.5px,#cdcdff 132.5px,#f6f6ff 148.5px,#fff9f9 151.5px,#fee 181.5px,#fee 221px)"></i>
<i style="top:365px;left:77px;width:221px;background:linear-gradient(90deg,#ffc4c4 0px,#ffa2a2 6.5px,#ff8b8b 19.5px,#f33 33.5px,#fe0000 54.5px,#ea0000 68.5px,#c00 73.5px,#a10000 76.5px,#6a0000 78.5px,#1c0000 80.5px,#1c0000 81.5px,#ffb8e2 82.5px,#ffb8e2 110.5px,#ba0000 111.5px,#e60000 113.5px,#fc0000 117.5px,#ff6262 118.5px,#ffebeb 119.5px,#f8f8ff 120.5px,#d8d8ff 124.5px,#d3d3ff 132.5px,#fffbfb 150.5px,#ffecec 159.5px,#ffe9e9 221px)"></i>
<i style="top:366px;left:77px;width:221px;background:linear-gradient(90deg,#ffc6c6 0px,#ffa5a5 5.5px,#ff8787 20.5px,#ff3535 32.5px,#fe0000 52.5px,#e80000 68.5px,#c00000 74.5px,#8b0000 77.5px,#430000 79.5px,#1c0000 80.5px,#1c0000 81.5px,#ffb8e2 82.5px,#ffb8e2 110.5px,#c10000 111.5px,#e80000 113.5px,#ff0101 117.5px,#fff7f7 119.5px,#eaeaff 121.5px,#cfcfff 126.5px,#dadaff 137.5px,#fffefe 150.5px,#ffeded 157.5px,#ffe8e8 221px)"></i>
<i style="top:367px;left:77px;width:221px;background:linear-gradient(90deg,#ffc8c8 0px,#ffa6a6 5.5px,#ff8787 20.5px,#ff3232 32.5px,#fd0000 50.5px,#e40000 68.5px,#be0000 74.5px,#8b0000 77.5px,#460000 79.5px,#1c0000 80.5px,#1c0000 81.5px,#ffb8e2 82.5px,#ffb8e2 110.5px,#c70000 111.5px,#eb0000 113.5px,#fa0000 116.5px,#ff0d0d 117.5px,#ff9494 118.5px,#fffefe 119.5px,#d3d3ff 123.5px,#c5c5ff 129.5px,#f9f9ff 150.5px,#fffbfb 152.5px,#ffecec 168.5px,#ffebeb 221px)"></i>
<i style="top:368px;left:77px;width:192px;background:linear-gradient(90deg,#ffcbcb 0px,#ffa9a9 5.5px,#ff8b8b 20.5px,#f33 33.5px,#fd0000 53.5px,#e50000 69.5px,#c40000 74.5px,#920000 77.5px,#500000 79.5px,#1c0000 80.5px,#1c0000 81.5px,#ffb8e2 82.5px,#ffb8e2 109.5px,#ad0000 110.5px,#cd0000 111.5px,#ed0000 113.5px,#fb0000 116.5px,#ff1d1d 117.5px,#ffadad 118.5px,#fff 119.5px,#d9d9ff 122.5px,#c6c6ff 128.5px,#f3f3ff 149.5px,#fffcfc 152.5px,#ffeded 161.5px,#ffeaea 192px)"></i>
<i style="top:369px;left:77px;width:192px;background:linear-gradient(90deg,#ffc7c7 0px,#ffa4a4 6.5px,#ff8a8a 20.5px,#ff3535 33.5px,#fe0000 54.5px,#e80000 69.5px,#c70000 74.5px,#980000 77.5px,#580000 79.5px,#250000 80.5px,#1c0000 81.5px,#ffb8e2 82.5px,#ffb8e2 109.5px,#b50000 110.5px,#e40000 112.5px,#fb0000 116.5px,#ff3030 117.5px,#ffc3c3 118.5px,#fcfcff 119.5px,#d3d3ff 123.5px,#c8c8ff 130.5px,#fafaff 151.5px,#fffafa 153.5px,#ffecec 166.5px,#ffeaea 192px)"></i>
<i style="top:370px;left:77px;width:192px;background:linear-gradient(90deg,#fcc 0px,#ffa6a6 6.5px,#ff8b8b 20.5px,#ff3232 33.5px,#fd0000 52.5px,#e50000 69.5px,#c50000 74.5px,#970000 77.5px,#5a0000 79.5px,#290000 80.5px,#1c0000 81.5px,#ffb8e2 82.5px,#ffb8e2 109.5px,#bd0000 110.5px,#e70000 112.5px,#fc0000 116.5px,#ff4c4c 117.5px,#ffdcdc 118.5px,#f6f6ff 119.5px,#d2d2ff 122.5px,#c0c0ff 128.5px,#f5f5ff 151.5px,#fff 153.5px,#ffefef 161.5px,#ffecec 192px)"></i>
<i style="top:371px;left:77px;width:192px;background:linear-gradient(90deg,#ffd5d5 0px,#ffb3b3 6.5px,#ff9b9b 20.5px,#ff4a4a 33.5px,#ff1212 57.5px,#fa0000 68.5px,#d80000 74.5px,#ab0000 77.5px,#710000 79.5px,#1c0000 81.5px,#ffb8e2 82.5px,#ffb8e2 109.5px,#c30000 110.5px,#e90000 112.5px,#fe0000 116.5px,#ff6f6f 117.5px,#fff2f2 118.5px,#f5f5ff 119.5px,#d2d2ff 123.5px,#cbcbff 131.5px,#fff 153.5px,#fee 160.5px,#ffeaea 192px)"></i>
<i style="top:372px;left:77px;width:192px;background:linear-gradient(90deg,#ffcfcf 0px,#ffadad 6.5px,#ff9595 20.5px,#f44 33.5px,#ff0d0d 57.5px,#f70000 68.5px,#d60000 74.5px,#ab0000 77.5px,#730000 79.5px,#1c0000 81.5px,#1c0000 82.5px,#ffb8e2 83.5px,#ffb8e2 108.5px,#a40000 109.5px,#c80000 110.5px,#eb0000 112.5px,#fa0000 115.5px,#ff0d0d 116.5px,#ff9494 117.5px,#fffefe 118.5px,#ddf 120.5px,#c2c2ff 125.5px,#ceceff 137.5px,#f9f9ff 154.5px,#fff2f2 181.5px,#fff2f2 192px)"></i>
<i style="top:373px;left:77px;width:192px;background:linear-gradient(90deg,#ffd0d0 0px,#ffa8a8 6.5px,#ff8c8c 20.5px,#ff2e2e 33.5px,#fd0000 49.5px,#e20000 69.5px,#ba0000 75.5px,#840000 78.5px,#1c0000 81.5px,#1c0000 82.5px,#ffb8e2 83.5px,#ffb8e2 108.5px,#ab0000 109.5px,#c00 110.5px,#ec0000 112.5px,#fb0000 115.5px,#ff2525 116.5px,#ffb7b7 117.5px,#fff 118.5px,#d1d1ff 121.5px,#babaff 126.5px,#ceceff 138.5px,#fffbfb 155.5px,#ffecec 164.5px,#ffe8e8 192px)"></i>
<i style="top:374px;left:77px;width:192px;background:linear-gradient(90deg,#ffd5d5 0px,#ffaeae 6.5px,#ff9393 20.5px,#ff3838 33.5px,#fe0000 53.5px,#e90000 69.5px,#c20000 75.5px,#8f0000 78.5px,#490000 80.5px,#1c0000 81.5px,#1c0000 82.5px,#ffb8e2 83.5px,#ffb8e2 108.5px,#b10000 109.5px,#cf0000 110.5px,#ed0000 112.5px,#fb0000 115.5px,#f44 116.5px,#ffd6d6 117.5px,#fbfbff 118.5px,#d1d1ff 121.5px,#bcbcff 126.5px,#d3d3ff 139.5px,#fffcfc 155.5px,#ffebeb 162.5px,#ffe7e7 192px)"></i>
<i style="top:375px;left:77px;width:192px;background:linear-gradient(90deg,#ffcece 0px,#ffa4a4 6.5px,#f88 20.5px,#ff2525 33.5px,#fd0000 45.5px,#dc0000 69.5px,#b60000 75.5px,#850000 78.5px,#420000 80.5px,#1c0000 81.5px,#1c0000 82.5px,#ffb8e2 83.5px,#ffb8e2 108.5px,#b60000 109.5px,#e40000 111.5px,#fc0000 115.5px,#ff6767 116.5px,#fee 117.5px,#efefff 118.5px,#c2c2ff 121.5px,#adadff 126.5px,#c4c4ff 138.5px,#fffcfc 157.5px,#ffeded 174.5px,#ffeded 192px)"></i>
<i style="top:376px;left:77px;width:192px;background:linear-gradient(90deg,#ffd6d6 0px,#ffafaf 6.5px,#ff9595 20.5px,#ff3a3a 33.5px,#fe0000 54.5px,#e70000 70.5px,#c70000 75.5px,#970000 78.5px,#570000 80.5px,#240000 81.5px,#1c0000 82.5px,#ffb8e2 83.5px,#ffb8e2 108.5px,#b00 109.5px,#e60000 111.5px,#ff0808 115.5px,#ff8c8c 116.5px,#fffcfc 117.5px,#cacaff 121.5px,#b8b8ff 127.5px,#f7f7ff 154.5px,#fff9f9 157.5px,#ffeaea 167.5px,#ffe7e7 192px)"></i>
<i style="top:377px;left:77px;width:192px;background:linear-gradient(90deg,#ffd5d5 0px,#ffaeae 6.5px,#ff9595 20.5px,#ff3636 34.5px,#fe0000 55.5px,#e90000 70.5px,#c90000 75.5px,#9b0000 78.5px,#5e0000 80.5px,#2e0000 81.5px,#1c0000 82.5px,#ffb8e2 83.5px,#ffb8e2 108.5px,#c00000 109.5px,#e80000 111.5px,#fa0000 114.5px,#ff1e1e 115.5px,#ffb0b0 116.5px,#fafaff 117.5px,#c9c9ff 120.5px,#b2b2ff 125.5px,#c3c3ff 137.5px,#fffefe 158.5px,#fff0f0 172.5px,#ffefef 192px)"></i>
<i style="top:378px;left:77px;width:192px;background:linear-gradient(90deg,#ffdbdb 0px,#ffb4b4 6.5px,#ff9b9b 20.5px,#ff3d3d 34.5px,#ff0202 57.5px,#ed0000 70.5px,#cf0000 75.5px,#a40000 78.5px,#6b0000 80.5px,#1c0000 82.5px,#ffb8e2 83.5px,#ffb8e2 108.5px,#c50000 109.5px,#ea0000 111.5px,#fa0000 114.5px,#ff4747 115.5px,#ffd9d9 116.5px,#fafaff 117.5px,#cdcdff 120.5px,#b7b7ff 125.5px,#ccf 138.5px,#fffefe 157.5px,#ffecec 164.5px,#ffe7e7 192px)"></i>
<i style="top:379px;left:77px;width:192px;background:linear-gradient(90deg,#ffd3d3 0px,#ffabab 6.5px,#ff8d8d 21.5px,#ff3434 33.5px,#fe0000 51.5px,#e50000 70.5px,#bf0000 76.5px,#8b0000 79.5px,#400 81.5px,#1c0000 82.5px,#1c0000 83.5px,#ffb8e2 84.5px,#ffb8e2 107.5px,#a90000 108.5px,#cb0000 109.5px,#ec0000 111.5px,#ff0202 114.5px,#fffafa 116.5px,#cacaff 119.5px,#afafff 124.5px,#bbf 135.5px,#fffdfd 159.5px,#fee 170.5px,#ffecec 192px)"></i>
<i style="top:380px;left:77px;width:192px;background:linear-gradient(90deg,#ffdada 0px,#ffb3b3 6.5px,#ff9696 21.5px,#ff3b3b 34.5px,#ff0101 56.5px,#ea0000 71.5px,#c90000 76.5px,#900 79.5px,#590000 81.5px,#250000 82.5px,#1c0000 83.5px,#ffb8e2 84.5px,#ffb8e2 107.5px,#b10000 108.5px,#d00000 109.5px,#e00 111.5px,#f90000 113.5px,#ff2929 114.5px,#ffbdbd 115.5px,#f8f8ff 116.5px,#d0d0ff 118.5px,#b1b1ff 122.5px,#b1b1ff 131.5px,#fffcfc 160.5px,#ffefef 180.5px,#fee 192px)"></i>
<i style="top:381px;left:77px;width:192px;background:linear-gradient(90deg,#ffdbdb 0px,#ffb2b2 6.5px,#ff9393 21.5px,#ff3535 34.5px,#fe0000 53.5px,#e60000 71.5px,#c70000 76.5px,#9b0000 79.5px,#600000 81.5px,#310000 82.5px,#1c0000 83.5px,#ffb8e2 84.5px,#ffb8e2 107.5px,#b90000 108.5px,#e50000 110.5px,#fa0000 113.5px,#ff6060 114.5px,#ffeaea 115.5px,#ededff 116.5px,#bcbcff 119.5px,#a6a6ff 124.5px,#b9b9ff 136.5px,#fffefe 160.5px,#ffefef 173.5px,#ffeded 192px)"></i>
<i style="top:382px;left:77px;width:192px;background:linear-gradient(90deg,#ffe0e0 0px,#ffb7b7 7.5px,#ff9d9d 21.5px,#ff4646 34.5px,#ff0d0d 56.5px,#f60000 70.5px,#d60000 76.5px,#ad0000 79.5px,#700 81.5px,#1c0000 83.5px,#1c0000 84.5px,#ffb8e2 85.5px,#ffb8e2 107.5px,#bf0000 108.5px,#e80000 110.5px,#f60000 112.5px,#ff0f0f 113.5px,#ff9d9d 114.5px,#fff 115.5px,#cdcdff 118.5px,#b4b4ff 123.5px,#c3c3ff 135.5px,#fffcfc 159.5px,#ffeaea 167.5px,#ffe6e6 192px)"></i>
<i style="top:383px;left:77px;width:192px;background:linear-gradient(90deg,#ffe1e1 0px,#ffb6b6 7.5px,#ff9b9b 21.5px,#ff4040 34.5px,#ff0505 56.5px,#ef0000 71.5px,#ca0000 77.5px,#900 80.5px,#560000 82.5px,#200000 83.5px,#1c0000 84.5px,#ffb8e2 85.5px,#ffb8e2 107.5px,#c60000 108.5px,#ea0000 110.5px,#f70000 112.5px,#ff3e3e 113.5px,#ffd3d3 114.5px,#f5f5ff 115.5px,#cacaff 117.5px,#acacff 121.5px,#acacff 130.5px,#fff 160.5px,#ffefef 168.5px,#ffebeb 192px)"></i>
<i style="top:384px;left:77px;width:192px;background:linear-gradient(90deg,#ffe1e1 0px,#ffb5b5 6.5px,#ff9393 21.5px,#ff2e2e 34.5px,#fd0000 48.5px,#d00 72.5px,#be0000 77.5px,#900000 80.5px,#530000 82.5px,#200 83.5px,#1c0000 84.5px,#ffb8e2 85.5px,#ffb8e2 106.5px,#a90000 107.5px,#cb0000 108.5px,#ec0000 110.5px,#fc0000 112.5px,#fff6f6 114.5px,#b7b7ff 117.5px,#9898ff 121.5px,#9898ff 129.5px,#fffbfb 162.5px,#fee 188.5px,#fee 192px)"></i>
<i style="top:385px;left:77px;width:192px;background:linear-gradient(90deg,#ffe7e7 0px,#fbb 7.5px,#ffa0a0 21.5px,#ff4040 35.5px,#ff0606 57.5px,#f20000 71.5px,#d10000 77.5px,#a50000 80.5px,#6c0000 82.5px,#1c0000 84.5px,#ffb8e2 85.5px,#ffb8e2 106.5px,#b20000 107.5px,#e30000 109.5px,#f50000 111.5px,#ff0e0e 112.5px,#ff9e9e 113.5px,#fff 114.5px,#cdcdff 116.5px,#aeaeff 119.5px,#a3a3ff 126.5px,#fffdfd 161.5px,#fee 170.5px,#ffeaea 192px)"></i>
<i style="top:386px;left:77px;width:192px;background:linear-gradient(90deg,#ffe0e0 0px,#ffb3b3 7.5px,#ff9797 21.5px,#ff3434 35.5px,#fe0000 53.5px,#e60000 72.5px,#bf0000 78.5px,#8a0000 81.5px,#1c0000 84.5px,#1c0000 85.5px,#ffb8e2 86.5px,#ffb8e2 106.5px,#b90000 107.5px,#e50000 109.5px,#f60000 111.5px,#ff2b2b 112.5px,#ffc2c2 113.5px,#f4f4ff 114.5px,#bebeff 116.5px,#a0a0ff 119.5px,#9696ff 126.5px,#fffcfc 163.5px,#fff0f0 192px)"></i>
<i style="top:387px;left:77px;width:192px;background:linear-gradient(90deg,#ffe3e3 0px,#ffb5b5 7.5px,#ff9898 21.5px,#ff3232 35.5px,#fd0000 52.5px,#e50000 72.5px,#c00000 78.5px,#8d0000 81.5px,#480000 83.5px,#1c0000 84.5px,#1c0000 85.5px,#ffb8e2 86.5px,#ffb8e2 106.5px,#c00000 107.5px,#e80000 109.5px,#f60000 111.5px,#ff4e4e 112.5px,#ffe0e0 113.5px,#ebebff 114.5px,#b7b7ff 116.5px,#9b9bff 119.5px,#9494ff 127.5px,#fffcfc 163.5px,#fee 188.5px,#fee 192px)"></i>
<i style="top:388px;left:77px;width:192px;background:linear-gradient(90deg,#ffe9e9 0px,#ffbcbc 8.5px,#ff9f9f 22.5px,#ff4646 35.5px,#ff0c0c 56.5px,#f60000 71.5px,#d90000 77.5px,#b40000 80.5px,#840000 82.5px,#5f0000 83.5px,#2b0000 84.5px,#1c0000 85.5px,#ffb8e2 86.5px,#ffb8e2 106.5px,#c60000 107.5px,#ea0000 109.5px,#fa0000 111.5px,#ff7474 112.5px,#fff5f5 113.5px,#eaeaff 114.5px,#bebeff 116.5px,#a4a4ff 120.5px,#a9a9ff 130.5px,#fff 161.5px,#ffeded 169.5px,#ffe9e9 192px)"></i>
<i style="top:389px;left:77px;width:192px;background:linear-gradient(90deg,#ffe4e4 0px,#ffb5b5 8.5px,#ff9797 22.5px,#ff3b3b 35.5px,#ff0101 55.5px,#ec0000 72.5px,#ca0000 78.5px,#9c0000 81.5px,#600000 83.5px,#2f0000 84.5px,#1c0000 85.5px,#ffb8e2 86.5px,#ffb8e2 105.5px,#a00 106.5px,#cb0000 107.5px,#ec0000 109.5px,#ff0b0b 111.5px,#ff9b9b 112.5px,#fff 113.5px,#c0c0ff 115.5px,#9e9eff 118.5px,#9595ff 125.5px,#cdcdff 145.5px,#fffefe 163.5px,#fff0f0 176.5px,#fee 192px)"></i>
<i style="top:390px;left:77px;width:192px;background:linear-gradient(90deg,#ffe8e8 0px,#ffb9b9 8.5px,#ff9b9b 22.5px,#ff3e3e 35.5px,#ff0303 55.5px,#e00 72.5px,#cd0000 78.5px,#a20000 81.5px,#690000 83.5px,#3c0000 84.5px,#1c0000 85.5px,#ffb8e2 86.5px,#ffb8e2 105.5px,#b20000 106.5px,#e30000 108.5px,#f50000 110.5px,#ff2727 111.5px,#ffbfbf 112.5px,#f8f8ff 113.5px,#d3d3ff 114.5px,#acacff 116.5px,#9595ff 120.5px,#a0a0ff 131.5px,#f0f0ff 158.5px,#fff9f9 164.5px,#ffecec 188.5px,#ffecec 192px)"></i>
<i style="top:391px;left:77px;width:192px;background:linear-gradient(90deg,#ffe8e8 0px,#ffb8b8 8.5px,#ff9a9a 22.5px,#ff3838 36.5px,#f00 55.5px,#ea0000 73.5px,#c30000 79.5px,#8e0000 82.5px,#400 84.5px,#1c0000 85.5px,#1c0000 86.5px,#ffb8e2 87.5px,#ffb8e2 105.5px,#ba0000 106.5px,#e50000 108.5px,#f60000 110.5px,#ff4a4a 111.5px,#fdd 112.5px,#eaeaff 113.5px,#c6c6ff 114.5px,#a2a2ff 116.5px,#8d8dff 121.5px,#a1a1ff 133.5px,#ededff 158.5px,#fffefe 164.5px,#ffefef 181.5px,#ffefef 192px)"></i>
<i style="top:392px;left:77px;width:192px;background:linear-gradient(90deg,#ffe4e4 0px,#ffb1b1 8.5px,#ff9090 22.5px,#ff2727 36.5px,#fc0000 48.5px,#d00 73.5px,#b80000 79.5px,#860000 82.5px,#410000 84.5px,#1c0000 85.5px,#1c0000 86.5px,#ffb8e2 87.5px,#ffb8e2 105.5px,#c00000 106.5px,#e80000 108.5px,#f90000 110.5px,#ff7070 111.5px,#fff3f3 112.5px,#dcdcff 113.5px,#b7b7ff 114.5px,#9393ff 116.5px,#7f7fff 121.5px,#9696ff 133.5px,#e9e9ff 157.5px,#fff 164.5px,#fff0f0 176.5px,#ffeded 192px)"></i>
<i style="top:393px;left:77px;width:192px;background:linear-gradient(90deg,#ffefef 0px,#ffc0c0 8.5px,#ffa2a2 22.5px,#ff4141 36.5px,#ff0707 56.5px,#f30000 72.5px,#d60000 78.5px,#b10000 81.5px,#820000 83.5px,#5d0000 84.5px,#290000 85.5px,#1c0000 86.5px,#ffb8e2 87.5px,#ffb8e2 105.5px,#c60000 106.5px,#ea0000 108.5px,#ff0808 110.5px,#ff9797 111.5px,#fffefe 112.5px,#b9b9ff 114.5px,#9c9cff 116.5px,#8d8dff 122.5px,#acacff 136.5px,#efefff 158.5px,#fffdfd 164.5px,#fee 175.5px,#ffebeb 192px)"></i>
<i style="top:394px;left:77px;width:192px;background:linear-gradient(90deg,#ffeaea 0px,#ffb7b7 8.5px,#ff9797 22.5px,#ff2e2e 36.5px,#fd0000 50.5px,#df0000 74.5px,#c10000 79.5px,#950000 82.5px,#5a0000 84.5px,#2b0000 85.5px,#1c0000 86.5px,#ffb8e2 87.5px,#ffb8e2 104.5px,#ac0000 105.5px,#cd0000 106.5px,#ec0000 108.5px,#f40000 109.5px,#ff2f2f 110.5px,#ffc7c7 111.5px,#f0f0ff 112.5px,#c0c0ff 113.5px,#9393ff 115.5px,#7d7dff 119.5px,#8a8aff 130.5px,#e9e9ff 157.5px,#fffefe 165.5px,#ffefef 180.5px,#ffeded 192px)"></i>
<i style="top:395px;left:77px;width:192px;background:linear-gradient(90deg,#ffe7e7 0px,#ffb2b2 9.5px,#ff9595 22.5px,#ff2d2d 36.5px,#fc0000 50.5px,#df0000 74.5px,#b90000 80.5px,#840000 83.5px,#1c0000 86.5px,#1c0000 87.5px,#ffb8e2 88.5px,#ffb8e2 104.5px,#b60000 105.5px,#e40000 107.5px,#f60000 109.5px,#ff6767 110.5px,#ffefef 111.5px,#dbdbff 112.5px,#b2b2ff 113.5px,#8c8cff 115.5px,#7b7bff 120.5px,#9090ff 132.5px,#eaeaff 157.5px,#fffafa 166.5px,#ffecec 192px)"></i>
<i style="top:396px;left:77px;width:192px;background:linear-gradient(90deg,#ffe7e7 0px,#ffb5b5 9.5px,#ff9a9a 22.5px,#f33 37.5px,#fd0000 55.5px,#e90000 74.5px,#c50000 80.5px,#940000 83.5px,#520000 85.5px,#1d0000 86.5px,#1c0000 87.5px,#ffb8e2 88.5px,#ffb8e2 104.5px,#be0000 105.5px,#e70000 107.5px,#f10000 108.5px,#ff0d0d 109.5px,#ffa1a1 110.5px,#fff 111.5px,#c2c2ff 112.5px,#a2a2ff 113.5px,#8585ff 115.5px,#7979ff 122.5px,#9c9cff 136.5px,#e4e4ff 158.5px,#fffdfd 168.5px,#fff5f5 192px)"></i>
<i style="top:397px;left:77px;width:192px;background:linear-gradient(90deg,#ffeaea 0px,#ffb6b6 9.5px,#ff9898 22.5px,#ff2b2b 37.5px,#fd0000 50.5px,#df0000 75.5px,#c00000 80.5px,#940000 83.5px,#580000 85.5px,#280000 86.5px,#1c0000 87.5px,#ffb8e2 88.5px,#ffb8e2 104.5px,#c60000 105.5px,#ea0000 107.5px,#f20000 108.5px,#ff3d3d 109.5px,#ffd5d5 110.5px,#e6e6ff 111.5px,#b0b0ff 112.5px,#9292ff 113.5px,#7979ff 115.5px,#7070ff 123.5px,#9b9bff 137.5px,#e7e7ff 157.5px,#fffafa 167.5px,#ffeded 192px)"></i>
<i style="top:398px;left:77px;width:192px;background:linear-gradient(90deg,#ffe6e6 0px,#ffb0b0 9.5px,#ff9191 22.5px,#ff1e1e 37.5px,#fd0000 45.5px,#d60000 75.5px,#af0000 81.5px,#790000 84.5px,#2f0000 86.5px,#1c0000 87.5px,#1c0000 88.5px,#ffb8e2 89.5px,#ffb8e2 103.5px,#ac0000 104.5px,#cd0000 105.5px,#f80000 108.5px,#fff7f7 110.5px,#bfbfff 111.5px,#8e8eff 112.5px,#7474ff 113.5px,#5b5bff 116.5px,#5f5fff 126.5px,#dedeff 158.5px,#fffefe 169.5px,#fff5f5 192px)"></i>
<i style="top:399px;left:77px;width:192px;background:linear-gradient(90deg,#ffeded 0px,#ffbdbd 10.5px,#ffa1a1 23.5px,#ff4545 37.5px,#ff0d0d 57.5px,#f70000 74.5px,#da0000 80.5px,#b40000 83.5px,#820000 85.5px,#5b0000 86.5px,#250000 87.5px,#1c0000 88.5px,#ffb8e2 89.5px,#ffb8e2 103.5px,#b60000 104.5px,#e40000 106.5px,#ef0000 107.5px,#ff1717 108.5px,#ffb1b1 109.5px,#f3f3ff 110.5px,#b7b7ff 111.5px,#9898ff 112.5px,#8080ff 114.5px,#7979ff 123.5px,#a7a7ff 139.5px,#e6e6ff 159.5px,#fffdfd 169.5px,#fff4f4 192px)"></i>
<i style="top:400px;left:77px;width:192px;background:linear-gradient(90deg,#ffecec 0px,#ffb8b8 10.5px,#ff9a9a 23.5px,#ff3535 37.5px,#fe0000 54.5px,#e80000 75.5px,#c60000 81.5px,#900 84.5px,#5c0000 86.5px,#2b0000 87.5px,#1c0000 88.5px,#ffb8e2 89.5px,#ffb8e2 103.5px,#be0000 104.5px,#e70000 106.5px,#f10000 107.5px,#ff4b4b 108.5px,#ffe0e0 109.5px,#ceceff 110.5px,#9797ff 111.5px,#7b7bff 112.5px,#6161ff 115.5px,#66f 126.5px,#ddf 158.5px,#fffefe 171.5px,#fff7f7 192px)"></i>
<i style="top:401px;left:77px;width:192px;background:linear-gradient(90deg,#fff1f1 0px,#ffc0c0 11.5px,#ffa7a7 23.5px,#ff4949 38.5px,#ff1414 58.5px,#fa0000 75.5px,#db0000 81.5px,#b20000 84.5px,#7a0000 86.5px,#1c0000 88.5px,#1c0000 89.5px,#ffb8e2 90.5px,#ffb8e2 103.5px,#c60000 104.5px,#fb0000 107.5px,#ff8989 108.5px,#fffcfc 109.5px,#c2c2ff 110.5px,#9c9cff 111.5px,#8080ff 113.5px,#7878ff 122.5px,#a1a1ff 137.5px,#e9e9ff 159.5px,#fffbfb 169.5px,#fff1f1 192px)"></i>
<i style="top:402px;left:77px;width:192px;background:linear-gradient(90deg,#fff1f1 0px,#ffbebe 10.5px,#ffa0a0 23.5px,#ff3838 38.5px,#f00 56.5px,#eb0000 76.5px,#c70000 82.5px,#950000 85.5px,#510000 87.5px,#1c0000 88.5px,#1c0000 89.5px,#ffb8e2 90.5px,#ffb8e2 102.5px,#b40000 103.5px,#e30000 105.5px,#e00 106.5px,#ff3838 107.5px,#ffd3d3 108.5px,#d7d7ff 109.5px,#9696ff 110.5px,#77f 111.5px,#6060ff 113.5px,#5c5cff 123.5px,#9090ff 138.5px,#dfdfff 158.5px,#fffcfc 171.5px,#fff5f5 192px)"></i>
<i style="top:403px;left:77px;width:192px;background:linear-gradient(90deg,#fff3f3 0px,#ffc2c2 11.5px,#ffa8a8 23.5px,#ff4646 38.5px,#ff1010 57.5px,#f90000 75.5px,#de0000 81.5px,#b00 84.5px,#8e0000 86.5px,#6b0000 87.5px,#3a0000 88.5px,#1c0000 89.5px,#ffb8e2 90.5px,#ffb8e2 102.5px,#c20000 103.5px,#fa0000 106.5px,#ff8989 107.5px,#fffcfc 108.5px,#b4b4ff 109.5px,#8989ff 110.5px,#6b6bff 112.5px,#6565ff 122.5px,#9393ff 137.5px,#e0e0ff 158.5px,#fffdfd 171.5px,#fff5f5 192px)"></i>
<i style="top:404px;left:77px;width:192px;background:linear-gradient(90deg,#fff1f1 0px,#ffc1c1 11.5px,#ffa7a7 23.5px,#ff4646 38.5px,#ff0f0f 57.5px,#f90000 75.5px,#d80000 82.5px,#ae0000 85.5px,#780000 87.5px,#1c0000 89.5px,#1c0000 90.5px,#ffb8e2 91.5px,#ffb8e2 101.5px,#ae0000 102.5px,#ce0000 103.5px,#ed0000 105.5px,#ff3737 106.5px,#ffd2d2 107.5px,#dadaff 108.5px,#9a9aff 109.5px,#7d7dff 110.5px,#6969ff 112.5px,#6969ff 124.5px,#aaf 142.5px,#e9e9ff 161.5px,#fffdfd 170.5px,#fff2f2 192px)"></i>
<i style="top:405px;left:77px;width:192px;background:linear-gradient(90deg,#fff6f6 0px,#ffc1c1 11.5px,#ffa4a4 23.5px,#ff3838 38.5px,#fe0000 55.5px,#e80000 77.5px,#c50000 83.5px,#930000 86.5px,#500000 88.5px,#1c0000 89.5px,#1c0000 90.5px,#ffb8e2 91.5px,#ffb8e2 101.5px,#be0000 102.5px,#f90000 105.5px,#f88 106.5px,#fffcfc 107.5px,#a1a1ff 108.5px,#6d6dff 109.5px,#55f 110.5px,#44f 113.5px,#4c4cff 125.5px,#9c9cff 143.5px,#e0e0ff 160.5px,#fffdfd 172.5px,#fff5f5 192px)"></i>
<i style="top:406px;left:77px;width:192px;background:linear-gradient(90deg,#fff7f7 0px,#ffc4c4 12.5px,#ffa7a7 24.5px,#ff4747 38.5px,#ff0d0d 57.5px,#f70000 76.5px,#dc0000 82.5px,#b90000 85.5px,#8d0000 87.5px,#6a0000 88.5px,#390000 89.5px,#1c0000 90.5px,#ffb8e2 91.5px,#ffb8e2 100.5px,#a80000 101.5px,#ca0000 102.5px,#ec0000 104.5px,#ff3636 105.5px,#ffd2d2 106.5px,#d4d4ff 107.5px,#8b8bff 108.5px,#6b6bff 109.5px,#5757ff 111.5px,#5959ff 124.5px,#9d9dff 141.5px,#e2e2ff 159.5px,#fffcfc 171.5px,#fff2f2 192px)"></i>
<i style="top:407px;left:77px;width:192px;background:linear-gradient(90deg,#fff3f3 0px,#ffc0c0 12.5px,#ffa2a2 24.5px,#ff3c3c 39.5px,#ff0404 58.5px,#f00000 77.5px,#d10000 83.5px,#a80000 86.5px,#710000 88.5px,#1c0000 90.5px,#1c0000 91.5px,#ffb8e2 92.5px,#ffb8e2 100.5px,#ba0000 101.5px,#e60000 103.5px,#f80000 104.5px,#ff8787 105.5px,#fffcfc 106.5px,#a3a3ff 107.5px,#7070ff 108.5px,#5b5bff 109.5px,#4c4cff 113.5px,#5858ff 126.5px,#dedeff 158.5px,#fffdfd 171.5px,#fff1f1 192px)"></i>
<i style="top:408px;left:77px;width:192px;background:linear-gradient(90deg,#fff9f9 0px,#ffbebe 12.5px,#ffa2a2 23.5px,#ff2727 39.5px,#fc0000 50.5px,#d00 78.5px,#b80000 84.5px,#850000 87.5px,#1c0000 90.5px,#1c0000 91.5px,#ffb8e2 92.5px,#ffb8e2 99.5px,#a60000 100.5px,#c90000 101.5px,#eb0000 103.5px,#ff3434 104.5px,#ffd1d1 105.5px,#c8c8ff 106.5px,#66f 107.5px,#3e3eff 108.5px,#2727ff 110.5px,#2929ff 123.5px,#6464ff 136.5px,#d0d0ff 156.5px,#fffcfc 172.5px,#fff0f0 192px)"></i>
<i style="top:409px;left:77px;width:192px;background:linear-gradient(90deg,#fff5f5 0px,#ffc1c1 12.5px,#ffa2a2 24.5px,#ff3838 39.5px,#ff0101 56.5px,#eb0000 78.5px,#c80000 84.5px,#900 87.5px,#580000 89.5px,#240000 90.5px,#1c0000 91.5px,#ffb8e2 92.5px,#ffb8e2 99.5px,#b90000 100.5px,#e50000 102.5px,#f70000 103.5px,#ff8484 104.5px,#fffbfb 105.5px,#8e8eff 106.5px,#5656ff 107.5px,#4040ff 108.5px,#3232ff 112.5px,#3d3dff 125.5px,#9292ff 143.5px,#d9d9ff 160.5px,#fffefe 176.5px,#fff9f9 192px)"></i>
<i style="top:410px;left:77px;width:192px;background:linear-gradient(90deg,#fff3f3 0px,#ffbebe 13.5px,#ffa2a2 24.5px,#ff3a3a 39.5px,#ff0101 57.5px,#ed0000 78.5px,#c00 84.5px,#a00000 87.5px,#640000 89.5px,#340000 90.5px,#1c0000 91.5px,#ffb8e2 92.5px,#ffb8e2 98.5px,#a50000 99.5px,#c80000 100.5px,#eb0000 102.5px,#ff3131 103.5px,#ffcece 104.5px,#c9c9ff 105.5px,#6e6eff 106.5px,#4c4cff 107.5px,#3a3aff 109.5px,#3d3dff 123.5px,#77f 137.5px,#d5d5ff 157.5px,#fffefe 173.5px,#fff4f4 192px)"></i>
<i style="top:411px;left:77px;width:192px;background:linear-gradient(90deg,#fff7f7 0px,#ffc1c1 13.5px,#ffa5a5 24.5px,#ff3a3a 39.5px,#f00 56.5px,#ec0000 78.5px,#cd0000 84.5px,#a30000 87.5px,#6c0000 89.5px,#1c0000 91.5px,#1c0000 92.5px,#ffb8e2 93.5px,#ffb8e2 98.5px,#b90000 99.5px,#e50000 101.5px,#f60000 102.5px,#fffbfb 104.5px,#8c8cff 105.5px,#5050ff 106.5px,#3b3bff 107.5px,#2f2fff 112.5px,#3838ff 124.5px,#7e7eff 139.5px,#d6d6ff 157.5px,#fffefe 172.5px,#fff0f0 192px)"></i>
<i style="top:412px;left:77px;width:192px;background:linear-gradient(90deg,#fff 0px,#ffcaca 13.5px,#ffaeae 24.5px,#ff3e3e 40.5px,#ff0505 58.5px,#f10000 78.5px,#d40000 84.5px,#ae0000 87.5px,#7a0000 89.5px,#510000 90.5px,#1c0000 91.5px,#1c0000 92.5px,#ffb8e2 93.5px,#ffb8e2 97.5px,#a40000 98.5px,#c80000 99.5px,#eb0000 101.5px,#ff2e2e 102.5px,#fcc 103.5px,#c1c1ff 104.5px,#5a5aff 105.5px,#3737ff 106.5px,#2626ff 108.5px,#2c2cff 123.5px,#6a6aff 137.5px,#cbcbff 156.5px,#fffdfd 176.5px,#fff7f7 192px)"></i>
<i style="top:413px;left:77px;width:192px;background:linear-gradient(90deg,#fafaff 0px,#fffbfb 3.5px,#ffd3d3 14.5px,#ffb7b7 25.5px,#ff5757 40.5px,#ff2323 58.5px,#ff0d0d 79.5px,#f70000 84.5px,#d70000 88.5px,#9d0000 91.5px,#7b0000 92.5px,#1c0000 94.5px,#ffb8e2 95.5px,#ffb8e2 96.5px,#c20000 97.5px,#e80000 99.5px,#fa0000 101.5px,#fff5f5 103.5px,#9494ff 104.5px,#5a5aff 105.5px,#4747ff 106.5px,#3e3eff 114.5px,#4d4dff 126.5px,#d7d7ff 158.5px,#fffdfd 175.5px,#fff6f6 192px)"></i>
<i style="top:414px;left:77px;width:192px;background:linear-gradient(90deg,#fff6f6 0px,#ffbdbd 14.5px,#ffa1a1 24.5px,#ff2a2a 40.5px,#fc0000 52.5px,#ef0000 75.5px,#de0000 90.5px,#c20000 95.5px,#980000 98.5px,#5e0000 100.5px,#310000 101.5px,#1c0000 102.5px,#e0e0ff 103.5px,#4646ff 104.5px,#1717ff 105.5px,#0404ff 107.5px,#0909ff 122.5px,#4040ff 134.5px,#bcbcff 155.5px,#fefeff 177.5px,#fff9f9 192px)"></i>
<i style="top:415px;left:77px;width:192px;background:linear-gradient(90deg,#fff3f3 0px,#ffc1c1 14.5px,#ffa3a3 25.5px,#ff3e3e 40.5px,#ff0606 58.5px,#f40000 87.5px,#d70000 94.5px,#b30000 97.5px,#830000 99.5px,#5e0000 100.5px,#2a0000 101.5px,#1c0000 102.5px,#9e9eff 103.5px,#4949ff 104.5px,#3131ff 105.5px,#2727ff 111.5px,#3232ff 124.5px,#7e7eff 140.5px,#d4d4ff 158.5px,#fffefe 175.5px,#fff4f4 192px)"></i>
<i style="top:416px;left:77px;width:192px;background:linear-gradient(90deg,#fff8f8 0px,#ffc2c2 15.5px,#ffa4a4 25.5px,#ff3939 40.5px,#f00 57.5px,#ef0000 87.5px,#cf0000 94.5px,#a70000 97.5px,#720000 99.5px,#1c0000 101.5px,#1c0000 102.5px,#5d5dff 103.5px,#2525ff 104.5px,#1313ff 106.5px,#1919ff 122.5px,#5353ff 135.5px,#c7c7ff 156.5px,#fffefe 176.5px,#fff5f5 192px)"></i>
<i style="top:417px;left:77px;width:192px;background:linear-gradient(90deg,#fff6f6 0px,#ffbebe 15.5px,#ffa0a0 25.5px,#ff3131 40.5px,#fe0000 53.5px,#e40000 88.5px,#c40000 94.5px,#980000 97.5px,#5c0000 99.5px,#2c0000 100.5px,#1c0000 101.5px,#b0b0ff 102.5px,#2929ff 103.5px,#0808ff 104.5px,#0000fe 107.5px,#0808ff 122.5px,#4747ff 135.5px,#bebeff 155.5px,#fff 176.5px,#fff5f5 192px)"></i>
<i style="top:418px;left:77px;width:192px;background:linear-gradient(90deg,#fff7f7 0px,#ffc3c3 16.5px,#ffa4a4 26.5px,#f44 40.5px,#ff0c0c 57.5px,#f70000 86.5px,#da0000 93.5px,#b60000 96.5px,#870000 98.5px,#610000 99.5px,#2c0000 100.5px,#1c0000 101.5px,#6b6bff 102.5px,#2828ff 103.5px,#1515ff 105.5px,#1e1eff 122.5px,#5d5dff 136.5px,#c5c5ff 156.5px,#fffefe 179.5px,#fff9f9 192px)"></i>
<i style="top:419px;left:77px;width:192px;background:linear-gradient(90deg,#fffdfd 0px,#ffc6c6 15.5px,#ffa8a8 25.5px,#ff3131 41.5px,#fd0000 55.5px,#e90000 87.5px,#ce0000 93.5px,#a00 96.5px,#790000 98.5px,#520000 99.5px,#1c0000 100.5px,#ededff 101.5px,#1e1eff 102.5px,#0000f8 103.5px,#0000f8 121.5px,#0c0cff 127.5px,#bdbdff 156.5px,#fefeff 177.5px,#fff7f7 192px)"></i>
<i style="top:420px;left:77px;width:192px;background:linear-gradient(90deg,#fffefe 0px,#ffc9c9 16.5px,#ffa9a9 26.5px,#ff3e3e 41.5px,#ff0404 58.5px,#f20000 87.5px,#d70000 93.5px,#b20000 96.5px,#7f0000 98.5px,#560000 99.5px,#1c0000 100.5px,#7373ff 101.5px,#1515ff 102.5px,#0404ff 103.5px,#0c0cff 121.5px,#4747ff 134.5px,#c8c8ff 156.5px,#fff 175.5px,#fff0f0 192px)"></i>
<i style="top:421px;left:77px;width:192px;background:linear-gradient(90deg,#fffbfb 0px,#ffc0c0 17.5px,#ffa1a1 26.5px,#ff2e2e 41.5px,#fd0000 53.5px,#ef0000 75.5px,#df0000 89.5px,#c00000 94.5px,#8b0000 97.5px,#6b0000 98.5px,#3e0000 99.5px,#d8d8ff 100.5px,#0c0cff 101.5px,#0000f0 102.5px,#0000f5 122.5px,#0404ff 127.5px,#bdbdff 156.5px,#fafaff 175.5px,#fff4f4 192px)"></i>
<i style="top:422px;left:77px;width:192px;background:linear-gradient(90deg,#fafaff 0px,#fff7f7 5.5px,#ffcdcd 17.5px,#ffa9a9 27.5px,#ff4242 41.5px,#ff0808 57.5px,#fa0000 81.5px,#e40000 91.5px,#c00000 95.5px,#950000 97.5px,#720000 98.5px,#410000 99.5px,#4242ff 100.5px,#0000fc 101.5px,#0000f3 105.5px,#0505ff 124.5px,#5a5aff 139.5px,#c3c3ff 157.5px,#fffefe 178.5px,#fff7f7 192px)"></i>
<i style="top:423px;left:77px;width:192px;background:linear-gradient(90deg,#fffbfb 0px,#ffa8a8 26.5px,#ff3939 42.5px,#ff0101 58.5px,#ed0000 88.5px,#d40000 93.5px,#a00 96.5px,#6b0000 98.5px,#9090ff 99.5px,#0808ff 100.5px,#0000f1 103.5px,#0505ff 124.5px,#5f5fff 140.5px,#bfbfff 157.5px,#fcfcff 179.5px,#fffcfc 192px)"></i>
<i style="top:424px;left:77px;width:192px;background:linear-gradient(90deg,#fffcfc 0px,#ffa6a6 27.5px,#ff3e3e 42.5px,#ff0303 59.5px,#f30000 87.5px,#d80000 93.5px,#ac0000 96.5px,#6a0000 98.5px,#2d2dff 99.5px,#0000fc 100.5px,#0000f8 108.5px,#0606ff 121.5px,#4242ff 134.5px,#c4c4ff 156.5px,#fefeff 176.5px,#fff4f4 192px)"></i>
<i style="top:425px;left:77px;width:192px;background:linear-gradient(90deg,#fffcfc 0px,#fdd 10.5px,#ffa4a4 27.5px,#ff3939 42.5px,#f00 57.5px,#ea0000 89.5px,#cd0000 94.5px,#ad0000 96.5px,#930000 97.5px,#7d7dff 98.5px,#0000fc 99.5px,#0000ea 101.5px,#0505ff 124.5px,#5b5bff 139.5px,#c6c6ff 157.5px,#fefeff 176.5px,#fff3f3 192px)"></i>
<i style="top:426px;left:77px;width:192px;background:linear-gradient(90deg,#fffefe 0px,#ffdede 11.5px,#ffabab 27.5px,#ff3f3f 43.5px,#ff0707 60.5px,#f60000 88.5px,#db0000 94.5px,#bf0000 96.5px,#a80000 97.5px,#2c2cff 98.5px,#0000f1 99.5px,#0000e7 103.5px,#0606ff 124.5px,#5e5eff 140.5px,#c0c0ff 158.5px,#f8f8ff 180.5px,#fefeff 192px)"></i>
<i style="top:427px;left:77px;width:192px;background:linear-gradient(90deg,#fff8f8 0px,#ffdbdb 10.5px,#ff9f9f 27.5px,#ff2727 43.5px,#fc0000 53.5px,#ed0000 70.5px,#df0000 91.5px,#c60000 95.5px,#b90000 96.5px,#bfbfff 97.5px,#0000ec 98.5px,#0000d2 99.5px,#00c 104.5px,#0202ff 129.5px,#b2b2ff 155.5px,#eaeaff 170.5px,#fffdfd 180.5px,#fff6f6 192px)"></i>
<i style="top:428px;left:77px;width:192px;background:linear-gradient(90deg,#fffcfc 0px,#ffe2e2 10.5px,#ffa1a1 28.5px,#ff3535 43.5px,#fd0000 57.5px,#ea0000 92.5px,#d30000 96.5px,#4040ff 97.5px,#0000df 98.5px,#0000cb 100.5px,#0000d9 108.5px,#0202ff 127.5px,#b8b8ff 156.5px,#ebebff 171.5px,#fffefe 182.5px,#fff9f9 192px)"></i>
<i style="top:429px;left:77px;width:192px;background:linear-gradient(90deg,#fffefe 0px,#ffe2e2 11.5px,#ffa8a8 28.5px,#ff3c3c 44.5px,#ff0404 60.5px,#f40000 95.5px,#f10000 96.5px,#0505ff 97.5px,#0000da 98.5px,#0000c9 101.5px,#0000f4 117.5px,#0606ff 125.5px,#7e7eff 145.5px,#d0d0ff 161.5px,#fffefe 182.5px,#fffafa 192px)"></i>
<i style="top:430px;left:77px;width:192px;background:linear-gradient(90deg,#fffbfb 0px,#ffe3e3 10.5px,#ff9f9f 28.5px,#ff2929 44.5px,#fd0000 54.5px,#e00 71.5px,#e00 95.5px,#8d8dff 96.5px,#0000d0 97.5px,#0000b1 98.5px,#00009c 101.5px,#0000ac 105.5px,#0000d6 113.5px,#0606ff 131.5px,#acacff 155.5px,#e5e5ff 170.5px,#fff 184.5px,#fffbfb 192px)"></i>
<i style="top:431px;left:77px;width:192px;background:linear-gradient(90deg,#fefeff 0px,#ffecec 10.5px,#ffa9a9 29.5px,#ff3f3f 45.5px,#ff0909 61.5px,#ff0404 95.5px,#3838ff 96.5px,#0000da 97.5px,#0000b9 99.5px,#0000ab 102.5px,#0000eb 111.5px,#0606ff 123.5px,#5757ff 138.5px,#c6c6ff 157.5px,#fcfcff 176.5px,#fff5f5 192px)"></i>
<i style="top:432px;left:77px;width:192px;background:linear-gradient(90deg,#fffdfd 0px,#ffe6e6 11.5px,#ffa3a3 29.5px,#f33 45.5px,#fd0000 59.5px,#f90000 95.5px,#0000e9 96.5px,#0000b7 97.5px,#000076 101.5px,#000081 103.5px,#0000c3 108.5px,#0000e2 115.5px,#0606ff 129.5px,#b4b4ff 156.5px,#e7e7ff 171.5px,#fff 186.5px,#fffdfd 192px)"></i>
<i style="top:433px;left:77px;width:192px;background:linear-gradient(90deg,#fffefe 0px,#ffeaea 11.5px,#ffacac 29.5px,#ff4040 46.5px,#ff0d0d 62.5px,#ff0808 94.5px,#9b9bff 95.5px,#0000e9 96.5px,#0000ca 97.5px,#000078 101.5px,#000078 102.5px,#0000b7 105.5px,#0000e1 109.5px,#0000fc 118.5px,#1a1aff 127.5px,#c4c4ff 157.5px,#f6f6ff 175.5px,#fffbfb 184.5px,#fff8f8 192px)"></i>
<i style="top:434px;left:77px;width:192px;background:linear-gradient(90deg,#fff 0px,#ffe8e8 12.5px,#ffabab 29.5px,#ff3b3b 46.5px,#ff0404 62.5px,#f00 94.5px,#8383ff 95.5px,#0000c4 96.5px,#000082 98.5px,#00004b 99.5px,#a0c7ff 100.5px,#a0c7ff 104.5px,#000047 105.5px,#000090 108.5px,#0000c4 112.5px,#0000ef 121.5px,#0505ff 127.5px,#b7b7ff 156.5px,#eaeaff 172.5px,#fff 187.5px,#fffdfd 192px)"></i>
<i style="top:435px;left:77px;width:192px;background:linear-gradient(90deg,#fafaff 0px,#fff8f8 9.5px,#ffb0b0 29.5px,#ff3d3d 46.5px,#ff0404 62.5px,#fe0000 93.5px,#ff5858 94.5px,#0606ff 95.5px,#0000b4 96.5px,#000094 97.5px,#000067 98.5px,#a0c7ff 99.5px,#a0c7ff 104.5px,#00002c 105.5px,#00007d 108.5px,#0000b8 112.5px,#0000e1 119.5px,#0707ff 129.5px,#afafff 155.5px,#e5e5ff 170.5px,#fff 187.5px,#fffefe 192px)"></i>
<i style="top:436px;left:77px;width:192px;background:linear-gradient(90deg,#fffbfb 0px,#ffe7e7 12.5px,#ffa6a6 30.5px,#ff3a3a 47.5px,#ff0505 63.5px,#ff0101 93.5px,#fff3f3 94.5px,#0000d9 95.5px,#000097 97.5px,#000067 98.5px,#a0c7ff 99.5px,#a0c7ff 105.5px,#000054 106.5px,#009 109.5px,#0000ca 113.5px,#0000f8 123.5px,#0a0aff 127.5px,#b7b7ff 156.5px,#e9e9ff 172.5px,#fefeff 190.5px,#fefeff 192px)"></i>
<i style="top:437px;left:77px;width:192px;background:linear-gradient(90deg,#fff8f8 0px,#ffe5e5 12.5px,#ff9f9f 30.5px,#ff2a2a 47.5px,#fd0000 58.5px,#f30000 80.5px,#f30000 93.5px,#e9e9ff 94.5px,#0000b4 95.5px,#000097 96.5px,#00006d 97.5px,#000031 98.5px,#a0c7ff 99.5px,#a0c7ff 105.5px,#000023 106.5px,#000076 109.5px,#0000b1 113.5px,#0000e0 121.5px,#0404ff 130.5px,#acacff 155.5px,#e4e4ff 170.5px,#fefeff 188.5px,#fff 192px)"></i>
<i style="top:438px;left:77px;width:192px;background:linear-gradient(90deg,#fffdfd 0px,#ffe9e9 13.5px,#ffabab 30.5px,#ff3838 48.5px,#ff0505 63.5px,#ff0101 92.5px,#ff3737 93.5px,#99f 94.5px,#0000be 95.5px,#0000a0 96.5px,#000074 97.5px,#a0c7ff 98.5px,#a0c7ff 106.5px,#000052 107.5px,#000097 110.5px,#0000c9 114.5px,#0000f9 124.5px,#0d0dff 128.5px,#b8b8ff 156.5px,#ebebff 172.5px,#fffefe 189.5px,#fffefe 192px)"></i>
<i style="top:439px;left:77px;width:192px;background:linear-gradient(90deg,#fffcfc 0px,#ffeaea 13.5px,#ffa8a8 31.5px,#ff3c3c 48.5px,#ff0808 64.5px,#ff0505 92.5px,#ffb1b1 93.5px,#3939ff 94.5px,#0000c1 95.5px,#0000a1 96.5px,#000072 97.5px,#a0c7ff 98.5px,#a0c7ff 106.5px,#000054 107.5px,#00009c 110.5px,#0000d0 114.5px,#0000fe 123.5px,#c1c1ff 156.5px,#f3f3ff 172.5px,#fffcfc 181.5px,#fff6f6 192px)"></i>
<i style="top:440px;left:77px;width:192px;background:linear-gradient(90deg,#fff 0px,#ffeded 13.5px,#ffa9a9 31.5px,#ff3939 48.5px,#ff0404 63.5px,#fe0000 92.5px,#fff7f7 93.5px,#0000da 94.5px,#000083 96.5px,#00004e 97.5px,#a0c7ff 98.5px,#a0c7ff 106.5px,#000032 107.5px,#000082 110.5px,#00b 114.5px,#0000ea 122.5px,#0808ff 129.5px,#adadff 155.5px,#e4e4ff 171.5px,#fbfbff 192px)"></i>
<i style="top:441px;left:77px;width:192px;background:linear-gradient(90deg,#fbfbff 0px,#fff8f8 11.5px,#ffb2b2 30.5px,#ff3434 49.5px,#ff0101 63.5px,#fc0000 91.5px,#ff2323 92.5px,#ededff 93.5px,#0000b5 94.5px,#000098 95.5px,#00006e 96.5px,#003 97.5px,#a0c7ff 98.5px,#a0c7ff 107.5px,#00003d 108.5px,#000086 111.5px,#0000b9 115.5px,#00e 125.5px,#0404ff 130.5px,#a9a9ff 155.5px,#e0e0ff 170.5px,#fafaff 189.5px,#fbfbff 192px)"></i>
<i style="top:442px;left:77px;width:192px;background:linear-gradient(90deg,#fcfcff 0px,#fff7f7 11.5px,#ffaeae 30.5px,#ff2a2a 49.5px,#fc0000 60.5px,#f30000 85.5px,#f30000 91.5px,#ff7878 92.5px,#a6a6ff 93.5px,#0000a6 94.5px,#000085 95.5px,#005 96.5px,#a0c7ff 97.5px,#a0c7ff 107.5px,#000023 108.5px,#000074 111.5px,#0000ae 115.5px,#0000e4 124.5px,#0303ff 131.5px,#ababff 155.5px,#e7e7ff 170.5px,#fffefe 186.5px,#fffcfc 192px)"></i>
<i style="top:443px;left:77px;width:192px;background:linear-gradient(90deg,#fffdfd 0px,#fee 13.5px,#ffa4a4 31.5px,#ff2525 49.5px,#fd0000 58.5px,#ef0000 75.5px,#ef0000 91.5px,#ffcaca 92.5px,#3030ff 93.5px,#00009b 94.5px,#007 95.5px,#000043 96.5px,#a0c7ff 97.5px,#a0c7ff 107.5px,#00001e 108.5px,#00007c 112.5px,#0000b0 116.5px,#0000e8 126.5px,#0404ff 132.5px,#a8a8ff 155.5px,#e4e4ff 170.5px,#fff 189.5px,#fffefe 192px)"></i>
<i style="top:444px;left:77px;width:192px;background:linear-gradient(90deg,#fff 0px,#ffeded 14.5px,#ffa6a6 31.5px,#ff2424 49.5px,#fe0000 57.5px,#ed0000 73.5px,#ed0000 90.5px,#ff0d0d 91.5px,#fffcfc 92.5px,#0000cb 93.5px,#00008b 94.5px,#000063 95.5px,#00002a 96.5px,#a0c7ff 97.5px,#a0c7ff 107.5px,#00001e 108.5px,#000020 109.5px,#00006d 112.5px,#0000a5 116.5px,#0000dc 125.5px,#00f 133.5px,#a0a0ff 155.5px,#dcdcff 169.5px,#fafaff 188.5px,#fbfbff 192px)"></i>
<i style="top:445px;left:77px;width:192px;background:linear-gradient(90deg,#fffefe 0px,#fee 15.5px,#ffafaf 32.5px,#ff4141 50.5px,#f11 65.5px,#ff0d0d 90.5px,#ff8282 91.5px,#eef 92.5px,#0000d8 93.5px,#00009e 95.5px,#00006d 96.5px,#a0c7ff 97.5px,#a0c7ff 108.5px,#000069 109.5px,#00a 112.5px,#0000df 117.5px,#0505ff 124.5px,#bfbfff 156.5px,#f2f2ff 173.5px,#fffcfc 187.5px,#fffbfb 192px)"></i>
<i style="top:446px;left:77px;width:192px;background:linear-gradient(90deg,#fcfcff 0px,#fff9f9 12.5px,#ffb1b1 31.5px,#ff3030 50.5px,#f00 63.5px,#fe0000 90.5px,#ffc6c6 91.5px,#7b7bff 92.5px,#0000ac 93.5px,#00008d 94.5px,#000062 95.5px,#000023 96.5px,#a0c7ff 97.5px,#a0c7ff 108.5px,#000025 109.5px,#000075 112.5px,#0000ae 116.5px,#0000e5 125.5px,#0606ff 132.5px,#a4a4ff 155.5px,#dfdfff 170.5px,#fafaff 192px)"></i>
<i style="top:447px;left:77px;width:192px;background:linear-gradient(90deg,#fffdfd 0px,#fee 15.5px,#ffaeae 32.5px,#ff3d3d 50.5px,#ff0e0e 65.5px,#ff0909 89.5px,#ff4343 90.5px,#fff6f6 91.5px,#1818ff 92.5px,#0000bf 93.5px,#0000a1 94.5px,#007 95.5px,#a0c7ff 96.5px,#a0c7ff 108.5px,#000042 109.5px,#00008d 112.5px,#0000c3 116.5px,#0000f7 125.5px,#0606ff 128.5px,#afafff 155.5px,#e6e6ff 171.5px,#fcfcff 192px)"></i>
<i style="top:448px;left:77px;width:192px;background:linear-gradient(90deg,#fffdfd 0px,#ffefef 15.5px,#ffacac 32.5px,#ff3d3d 49.5px,#ff0b0b 64.5px,#ff0505 89.5px,#ff8787 90.5px,#f8f8ff 91.5px,#0000d0 92.5px,#00008c 94.5px,#00005c 95.5px,#a0c7ff 96.5px,#a0c7ff 108.5px,#000027 109.5px,#00007a 112.5px,#0000b5 116.5px,#0000ea 124.5px,#0606ff 130.5px,#aaf 155.5px,#e2e2ff 170.5px,#fbfbff 192px)"></i>
<i style="top:449px;left:77px;width:192px;background:linear-gradient(90deg,#fffefe 0px,#fee 16.5px,#ffa9a9 33.5px,#ff4242 49.5px,#ff1313 64.5px,#ff0c0c 88.5px,#ff2121 89.5px,#ffc8c8 90.5px,#b6b6ff 91.5px,#0000c5 92.5px,#008 94.5px,#005 95.5px,#a0c7ff 96.5px,#a0c7ff 109.5px,#000048 110.5px,#00008f 113.5px,#0000c1 117.5px,#0000fa 127.5px,#1818ff 132.5px,#b1b1ff 156.5px,#e8e8ff 172.5px,#fcfcff 192px)"></i>
<i style="top:450px;left:77px;width:192px;background:linear-gradient(90deg,#fff7f7 0px,#ffe8e8 16.5px,#ffa2a2 33.5px,#ff3838 49.5px,#ff0a0a 64.5px,#ff0404 88.5px,#ff4f4f 89.5px,#fff0f0 90.5px,#4848ff 91.5px,#0000b9 92.5px,#00009d 93.5px,#000075 94.5px,#00003b 95.5px,#a0c7ff 96.5px,#a0c7ff 109.5px,#000036 110.5px,#000082 113.5px,#0000b9 117.5px,#0000f0 126.5px,#0404ff 130.5px,#ababff 155.5px,#e5e5ff 170.5px,#fefeff 192px)"></i>
<i style="top:451px;left:77px;width:192px;background:linear-gradient(90deg,#f9f9ff 0px,#fff9f9 15.5px,#ffb9b9 32.5px,#ff4c4c 49.5px,#ff2121 64.5px,#ff1e1e 88.5px,#ff9898 89.5px,#fff 90.5px,#0000ef 91.5px,#0000ba 92.5px,#00009c 93.5px,#000072 94.5px,#a0c7ff 95.5px,#a0c7ff 109.5px,#000039 110.5px,#000086 113.5px,#0000bd 117.5px,#0000f5 126.5px,#0a0aff 130.5px,#adadff 155.5px,#e7e7ff 171.5px,#fdfdff 192px)"></i>
<i style="top:452px;left:77px;width:192px;background:linear-gradient(90deg,#fafaff 0px,#fffafa 15.5px,#ffbcbc 33.5px,#ff5b5b 50.5px,#ff3838 66.5px,#ff3535 87.5px,#ff5353 88.5px,#ffd0d0 89.5px,#e2e2ff 90.5px,#0000e9 91.5px,#0000b9 93.5px,#000091 94.5px,#a0c7ff 95.5px,#a0c7ff 109.5px,#000065 110.5px,#0000a9 113.5px,#0000e3 118.5px,#0808ff 124.5px,#babaff 155.5px,#eef 172.5px,#fff 192px)"></i>
<i style="top:453px;left:77px;width:192px;background:linear-gradient(90deg,#fff 0px,#fff0f0 17.5px,#ffaeae 33.5px,#f44 49.5px,#ff1d1d 63.5px,#ff1616 87.5px,#ff6969 88.5px,#ffecec 89.5px,#7272ff 90.5px,#0000b8 91.5px,#000079 93.5px,#000045 94.5px,#a0c7ff 95.5px,#a0c7ff 109.5px,#00001e 110.5px,#000080 114.5px,#0000be 119.5px,#0000fe 131.5px,#a5a5ff 156.5px,#ddf 171.5px,#f5f5ff 192px)"></i>
<i style="top:454px;left:77px;width:192px;background:linear-gradient(90deg,#fdfdff 0px,#fff6f6 16.5px,#ffb6b6 33.5px,#ff5252 49.5px,#ff2e2e 64.5px,#ff2929 86.5px,#ff3434 87.5px,#ffa4a4 88.5px,#fffefe 89.5px,#1e1eff 90.5px,#0000c8 91.5px,#000089 93.5px,#000054 94.5px,#a0c7ff 95.5px,#a0c7ff 110.5px,#00004f 111.5px,#000095 114.5px,#0000d1 119.5px,#0404ff 128.5px,#afafff 155.5px,#e8e8ff 171.5px,#fefeff 192px)"></i>
<i style="top:455px;left:77px;width:192px;background:linear-gradient(90deg,#fffefe 0px,#fff0f0 17.5px,#faa 33.5px,#ff3939 49.5px,#ff1515 62.5px,#ff0d0d 86.5px,#ff4040 87.5px,#ffc7c7 88.5px,#e8e8ff 89.5px,#0000bd 90.5px,#000076 92.5px,#000046 93.5px,#a0c7ff 94.5px,#a0c7ff 110.5px,#00001e 111.5px,#000029 112.5px,#000071 115.5px,#0000b0 120.5px,#0000f9 133.5px,#1e1eff 138.5px,#a0a0ff 156.5px,#ddf 171.5px,#f8f8ff 192px)"></i>
<i style="top:456px;left:77px;width:192px;background:linear-gradient(90deg,#fff 0px,#fff1f1 18.5px,#ffb4b4 34.5px,#ff5a5a 49.5px,#ff3c3c 63.5px,#ff3939 86.5px,#f88 87.5px,#ffeded 88.5px,#ababff 89.5px,#0000dc 90.5px,#0000ab 92.5px,#000082 93.5px,#a0c7ff 94.5px,#a0c7ff 110.5px,#000054 111.5px,#00009b 114.5px,#0000d7 119.5px,#00f 126.5px,#ababff 154.5px,#e4e4ff 170.5px,#fbfbff 192px)"></i>
<i style="top:457px;left:77px;width:192px;background:linear-gradient(90deg,#fffefe 0px,#ffefef 19.5px,#ffb5b5 34.5px,#ff5757 50.5px,#ff3d3d 65.5px,#ff3a3a 85.5px,#ff5050 86.5px,#ffb1b1 87.5px,#fffcfc 88.5px,#4d4dff 89.5px,#0000d5 90.5px,#0000a0 92.5px,#000073 93.5px,#a0c7ff 94.5px,#a0c7ff 110.5px,#00004b 111.5px,#000095 114.5px,#0000ca 118.5px,#0000fc 126.5px,#b1b1ff 156.5px,#e6e6ff 173.5px,#f7f7ff 192px)"></i>
<i style="top:458px;left:77px;width:192px;background:linear-gradient(90deg,#fffbfb 0px,#ffeded 18.5px,#ffb1b1 33.5px,#ff4545 49.5px,#ff2929 61.5px,#ff2424 85.5px,#ff5e5e 86.5px,#ffcdcd 87.5px,#fdfdff 88.5px,#0000e6 89.5px,#0000b5 90.5px,#000071 92.5px,#000038 93.5px,#a0c7ff 94.5px,#a0c7ff 110.5px,#00001e 111.5px,#00007e 115.5px,#0000bf 120.5px,#00f 131.5px,#a7a7ff 155.5px,#e3e3ff 170.5px,#fff 192px)"></i>
<i style="top:459px;left:77px;width:192px;background:linear-gradient(90deg,#fffdfd 0px,#ffefef 19.5px,#ffb4b4 34.5px,#ff5252 50.5px,#ff3a3a 63.5px,#ff3a3a 84.5px,#ff4343 85.5px,#ffebeb 87.5px,#c4c4ff 88.5px,#0000d8 89.5px,#0000a9 91.5px,#000082 92.5px,#00004a 93.5px,#a0c7ff 94.5px,#a0c7ff 111.5px,#00004f 112.5px,#000095 115.5px,#0000d1 120.5px,#00f 128.5px,#ababff 155.5px,#e4e4ff 171.5px,#fbfbff 192px)"></i>
<i style="top:460px;left:77px;width:192px;background:linear-gradient(90deg,#fefeff 0px,#fff3f3 19.5px,#ffb9b9 34.5px,#ff5656 50.5px,#ff4040 61.5px,#ff4040 84.5px,#ff5e5e 85.5px,#ffb7b7 86.5px,#fffbfb 87.5px,#6b6bff 88.5px,#0000d0 89.5px,#00009d 91.5px,#000072 92.5px,#a0c7ff 93.5px,#a0c7ff 111.5px,#004 112.5px,#00008d 115.5px,#00c 120.5px,#00f 129.5px,#a6a6ff 155.5px,#dfdfff 171.5px,#f6f6ff 192px)"></i>
<i style="top:461px;left:77px;width:192px;background:linear-gradient(90deg,#fffcfc 0px,#fee 20.5px,#ffb5b5 35.5px,#ff5858 51.5px,#ff4949 61.5px,#ff4a4a 84.5px,#ff8181 85.5px,#ffd5d5 86.5px,#fefeff 87.5px,#2d2dff 88.5px,#00d 89.5px,#00a 91.5px,#00007f 92.5px,#a0c7ff 93.5px,#a0c7ff 111.5px,#00005a 112.5px,#0000a0 115.5px,#0000dc 120.5px,#0202ff 126.5px,#a7a7ff 153.5px,#e3e3ff 170.5px,#fbfbff 192px)"></i>
<i style="top:462px;left:77px;width:192px;background:linear-gradient(90deg,#fffbfb 0px,#ffeded 20.5px,#ffb0b0 35.5px,#ff4a4a 51.5px,#ff3b3b 59.5px,#ff3b3b 83.5px,#ff4949 84.5px,#ffe9e9 86.5px,#d6d6ff 87.5px,#0000df 88.5px,#00007e 91.5px,#00004a 92.5px,#a0c7ff 93.5px,#a0c7ff 111.5px,#000027 112.5px,#000079 115.5px,#0000b5 119.5px,#00e 127.5px,#0909ff 132.5px,#a0a0ff 155.5px,#dcdcff 171.5px,#f4f4ff 192px)"></i>
<i style="top:463px;left:77px;width:192px;background:linear-gradient(90deg,#fffefe 0px,#fff2f2 20.5px,#ffb9b9 35.5px,#ff5757 51.5px,#ff4a4a 58.5px,#ff4a4a 83.5px,#ff6c6c 84.5px,#fbb 85.5px,#fff9f9 86.5px,#a2a2ff 87.5px,#0000de 88.5px,#0000b1 90.5px,#00008c 91.5px,#000057 92.5px,#a0c7ff 93.5px,#a0c7ff 111.5px,#00003e 112.5px,#00008d 115.5px,#0000c7 119.5px,#0000fd 127.5px,#aeaeff 155.5px,#e6e6ff 171.5px,#fdfdff 192px)"></i>
<i style="top:464px;left:77px;width:192px;background:linear-gradient(90deg,#fffbfb 0px,#ffeded 21.5px,#ffb1b1 36.5px,#ff5252 51.5px,#ff4646 58.5px,#ff4a4a 83.5px,#ff8282 84.5px,#ffd3d3 85.5px,#fff 86.5px,#5454ff 87.5px,#0000d4 88.5px,#0000a2 90.5px,#000079 91.5px,#a0c7ff 92.5px,#a0c7ff 112.5px,#00004d 113.5px,#000094 116.5px,#0000d2 121.5px,#0404ff 129.5px,#a5a5ff 154.5px,#e2e2ff 170.5px,#fcfcff 192px)"></i>
<i style="top:465px;left:77px;width:192px;background:linear-gradient(90deg,#fbfbff 0px,#fff8f8 20.5px,#ffc3c3 35.5px,#ff5e5e 52.5px,#ff5858 82.5px,#ff6868 83.5px,#ffeaea 85.5px,#f5f5ff 86.5px,#2020ff 87.5px,#00d 88.5px,#00a 90.5px,#000080 91.5px,#a0c7ff 92.5px,#a0c7ff 112.5px,#00005c 113.5px,#0000a1 116.5px,#0000de 121.5px,#0606ff 127.5px,#a8a8ff 153.5px,#e6e6ff 170.5px,#fefeff 192px)"></i>
<i style="top:466px;left:77px;width:192px;background:linear-gradient(90deg,#f7f7ff 0px,#fffafa 21.5px,#ffc4c4 35.5px,#f55 52.5px,#ff5050 82.5px,#ff7474 83.5px,#ffbcbc 84.5px,#fff6f6 85.5px,#c4c4ff 86.5px,#0000e1 87.5px,#000084 90.5px,#00004f 91.5px,#a0c7ff 92.5px,#a0c7ff 112.5px,#00002e 113.5px,#00007f 116.5px,#00b 120.5px,#0000f5 128.5px,#0707ff 131.5px,#a9a9ff 155.5px,#e6e6ff 171.5px,#fffefe 192px)"></i>
<i style="top:467px;left:77px;width:192px;background:linear-gradient(90deg,#fffbfb 0px,#ffefef 21.5px,#ffbaba 35.5px,#ff4949 52.5px,#ff4545 81.5px,#ff4c4c 82.5px,#ff8484 83.5px,#ffd0d0 84.5px,#fffefe 85.5px,#7979ff 86.5px,#0000cb 87.5px,#00009b 89.5px,#000073 90.5px,#000039 91.5px,#a0c7ff 92.5px,#a0c7ff 112.5px,#000020 113.5px,#000074 116.5px,#0000b3 120.5px,#0000ea 127.5px,#0606ff 132.5px,#a1a1ff 155.5px,#dfdfff 171.5px,#f9f9ff 192px)"></i>
<i style="top:468px;left:77px;width:192px;background:linear-gradient(90deg,#f9f9ff 0px,#fff9f9 22.5px,#ffc3c3 36.5px,#ff5b5b 52.5px,#ff5a5a 81.5px,#ff6c6c 82.5px,#ffe7e7 84.5px,#fff9f9 85.5px,#4a4aff 86.5px,#0000da 87.5px,#00a 89.5px,#000082 90.5px,#a0c7ff 91.5px,#a0c7ff 112.5px,#000036 113.5px,#008 116.5px,#0000c6 120.5px,#0000fa 127.5px,#2626ff 133.5px,#b6b6ff 156.5px,#eef 172.5px,#fffcfc 186.5px,#fff9f9 192px)"></i>
<i style="top:469px;left:77px;width:192px;background:linear-gradient(90deg,#fffcfc 0px,#fff0f0 22.5px,#fbb 36.5px,#ff5151 52.5px,#ff5252 81.5px,#ff7878 82.5px,#fff4f4 84.5px,#dadaff 85.5px,#00f 86.5px,#0000ce 87.5px,#00009a 89.5px,#00006f 90.5px,#a0c7ff 91.5px,#a0c7ff 113.5px,#000047 114.5px,#00008f 117.5px,#0000cf 122.5px,#0202ff 130.5px,#9f9fff 154.5px,#ddf 170.5px,#f8f8ff 192px)"></i>
<i style="top:470px;left:77px;width:192px;background:linear-gradient(90deg,#f5f5ff 0px,#fff9f9 24.5px,#ffc3c3 37.5px,#ff5e5e 52.5px,#ff5e5e 80.5px,#f66 81.5px,#ff9696 82.5px,#ffd4d4 83.5px,#fffdfd 84.5px,#a5a5ff 85.5px,#0000e2 86.5px,#00008d 89.5px,#00005e 90.5px,#a0c7ff 91.5px,#a0c7ff 113.5px,#00003a 114.5px,#000086 117.5px,#0000c0 121.5px,#0000f8 129.5px,#1313ff 133.5px,#a2a2ff 155.5px,#dfdfff 171.5px,#f9f9ff 192px)"></i>
<i style="top:471px;left:77px;width:192px;background:linear-gradient(90deg,#f6f6ff 0px,#fffbfb 23.5px,#ffc8c8 36.5px,#ff5858 52.5px,#ff5858 80.5px,#ff6f6f 81.5px,#ffe4e4 83.5px,#fffbfb 84.5px,#6565ff 85.5px,#00c 86.5px,#00009f 88.5px,#000079 89.5px,#000043 90.5px,#a0c7ff 91.5px,#a0c7ff 113.5px,#000024 114.5px,#000076 117.5px,#0000b5 121.5px,#0000f1 129.5px,#0a0aff 133.5px,#a2a2ff 155.5px,#e0e0ff 170.5px,#fefeff 192px)"></i>
<i style="top:472px;left:77px;width:192px;background:linear-gradient(90deg,#f6f6ff 0px,#fffafa 24.5px,#ffc6c6 37.5px,#ff6262 51.5px,#ff6363 80.5px,#ff8b8b 81.5px,#ffc7c7 82.5px,#fff6f6 83.5px,#dfdfff 84.5px,#1515ff 85.5px,#0000ce 86.5px,#0000a0 88.5px,#000079 89.5px,#000042 90.5px,#a0c7ff 91.5px,#a0c7ff 113.5px,#000029 114.5px,#00007b 117.5px,#0000b9 121.5px,#0000f4 129.5px,#0606ff 132.5px,#a0a0ff 155.5px,#dedeff 171.5px,#f8f8ff 192px)"></i>
<i style="top:473px;left:77px;width:192px;background:linear-gradient(90deg,#fafaff 0px,#fffafa 23.5px,#ffc7c7 37.5px,#f66 51.5px,#ff6565 79.5px,#ff7c7c 80.5px,#ffe5e5 82.5px,#fff 83.5px,#88f 84.5px,#0000e8 85.5px,#0000a7 88.5px,#000080 89.5px,#000048 90.5px,#a0c7ff 91.5px,#a0c7ff 113.5px,#000037 114.5px,#000087 117.5px,#0000c3 121.5px,#0000fc 129.5px,#a4a4ff 155.5px,#dfdfff 171.5px,#f8f8ff 192px)"></i>
<i style="top:474px;left:77px;width:192px;background:linear-gradient(90deg,#f8f8ff 0px,#fff9f9 25.5px,#ffc6c6 38.5px,#ff6c6c 51.5px,#ff6c6c 78.5px,#ff7474 79.5px,#fff9f9 82.5px,#d8d8ff 83.5px,#2929ff 84.5px,#0000e5 85.5px,#0000c3 87.5px,#0000a6 88.5px,#00007d 89.5px,#a0c7ff 90.5px,#a0c7ff 113.5px,#000039 114.5px,#000089 117.5px,#0000c6 121.5px,#00f 129.5px,#9a9aff 153.5px,#dbdbff 170.5px,#f7f7ff 192px)"></i>
<i style="top:475px;left:77px;width:192px;background:linear-gradient(90deg,#f8f8ff 0px,#fffafa 25.5px,#ffc9c9 38.5px,#ff7272 51.5px,#ff7373 78.5px,#ff8f8f 79.5px,#ffecec 81.5px,#fffcfc 82.5px,#9090ff 83.5px,#0000fb 84.5px,#0000ca 87.5px,#0000ac 88.5px,#000082 89.5px,#a0c7ff 90.5px,#a0c7ff 114.5px,#000063 115.5px,#0000a6 118.5px,#0000e3 123.5px,#0606ff 128.5px,#9494ff 150.5px,#dcdcff 167.5px,#fcfcff 188.5px,#fefeff 192px)"></i>
<i style="top:476px;left:77px;width:192px;background:linear-gradient(90deg,#f8f8ff 0px,#fff9f9 26.5px,#fcc 38.5px,#ff7676 51.5px,#ff7676 77.5px,#ff8484 78.5px,#ffdcdc 80.5px,#fffbfb 81.5px,#d5d5ff 82.5px,#3838ff 83.5px,#0000f5 84.5px,#0000c5 87.5px,#0000a6 88.5px,#00007a 89.5px,#a0c7ff 90.5px,#a0c7ff 114.5px,#000060 115.5px,#0000a4 118.5px,#0000e1 123.5px,#0404ff 128.5px,#9090ff 150.5px,#d6d6ff 167.5px,#f6f6ff 188.5px,#f8f8ff 192px)"></i>
<i style="top:477px;left:77px;width:192px;background:linear-gradient(90deg,#fafaff 0px,#fff9f9 25.5px,#ffc9c9 38.5px,#ff7272 51.5px,#ff7676 77.5px,#ff9797 78.5px,#fff0f0 80.5px,#fbfbff 81.5px,#8484ff 82.5px,#0000f9 83.5px,#0000d0 86.5px,#000095 88.5px,#000064 89.5px,#a0c7ff 90.5px,#a0c7ff 114.5px,#00004d 115.5px,#000097 118.5px,#0000cf 122.5px,#0101ff 129.5px,#9696ff 152.5px,#dadaff 169.5px,#f8f8ff 192px)"></i>
<i style="top:478px;left:77px;width:192px;background:linear-gradient(90deg,#f4f4ff 0px,#fffafa 27.5px,#ffcaca 38.5px,#ff6a6a 51.5px,#ff6a6a 76.5px,#ff8080 77.5px,#ffdfdf 79.5px,#fffdfd 80.5px,#c7c7ff 81.5px,#1010ff 82.5px,#0000d8 83.5px,#0000a9 86.5px,#00008b 87.5px,#00005f 88.5px,#000021 89.5px,#a0c7ff 90.5px,#a0c7ff 114.5px,#00001e 115.5px,#00002f 116.5px,#00007b 119.5px,#0000b6 123.5px,#0000f1 131.5px,#0a0aff 135.5px,#9d9dff 156.5px,#ddf 171.5px,#fbfbff 192px)"></i>
<i style="top:479px;left:77px;width:192px;background:linear-gradient(90deg,#f3f3ff 0px,#fffbfb 28.5px,#fcc 39.5px,#ff7a7a 51.5px,#ff7a7a 75.5px,#ff8282 76.5px,#fff4f4 79.5px,#fbfbff 80.5px,#0000f7 82.5px,#0000d4 85.5px,#0000a3 87.5px,#00007a 88.5px,#a0c7ff 89.5px,#a0c7ff 114.5px,#000030 115.5px,#000083 118.5px,#0000c3 122.5px,#0000f9 129.5px,#1d1dff 134.5px,#a8a8ff 156.5px,#e3e3ff 172.5px,#fcfcff 192px)"></i>
<i style="top:480px;left:77px;width:192px;background:linear-gradient(90deg,#f8f8ff 0px,#fffafa 27.5px,#ffcfcf 38.5px,#ff7878 50.5px,#ff7878 75.5px,#ff9090 76.5px,#ffe3e3 78.5px,#fffdfd 79.5px,#d1d1ff 80.5px,#3939ff 81.5px,#0000ef 82.5px,#0000ce 85.5px,#00009a 87.5px,#00006e 88.5px,#a0c7ff 89.5px,#a0c7ff 115.5px,#000048 116.5px,#000091 119.5px,#0000d3 124.5px,#0202ff 131.5px,#9595ff 153.5px,#d9d9ff 169.5px,#f9f9ff 190.5px,#fafaff 192px)"></i>
<i style="top:481px;left:77px;width:192px;background:linear-gradient(90deg,#f4f4ff 0px,#fffafa 29.5px,#fcc 40.5px,#ff8484 50.5px,#ff8989 75.5px,#ffcbcb 77.5px,#fee 78.5px,#fff 79.5px,#babaff 80.5px,#3131ff 81.5px,#0000f9 82.5px,#0000d9 85.5px,#0000a5 87.5px,#000079 88.5px,#a0c7ff 89.5px,#a0c7ff 115.5px,#000059 116.5px,#00009f 119.5px,#0000df 124.5px,#0101ff 129.5px,#8686ff 149.5px,#d2d2ff 166.5px,#f7f7ff 186.5px,#fafaff 192px)"></i>
<i style="top:482px;left:77px;width:192px;background:linear-gradient(90deg,#f0f0ff 0px,#fcfcff 27.5px,#ffe8e8 35.5px,#ffa6a6 45.5px,#ff7d7d 50.5px,#ff7d7d 74.5px,#ff8a8a 75.5px,#fff5f5 78.5px,#fbfbff 79.5px,#9090ff 80.5px,#0000fc 81.5px,#0000e0 82.5px,#0000b8 85.5px,#000078 87.5px,#000043 88.5px,#a0c7ff 89.5px,#a0c7ff 115.5px,#000021 116.5px,#000075 119.5px,#0000b5 123.5px,#0000ed 130.5px,#0505ff 134.5px,#9797ff 155.5px,#dbdbff 171.5px,#f9f9ff 192px)"></i>
<i style="top:483px;left:77px;width:192px;background:linear-gradient(90deg,#f6f6ff 0px,#fffbfb 29.5px,#fcc 41.5px,#ff8c8c 50.5px,#ff8c8c 74.5px,#ff9f9f 75.5px,#ffe3e3 77.5px,#fffbfb 78.5px,#ededff 79.5px,#1818ff 81.5px,#0000fc 82.5px,#0000d9 85.5px,#0000a2 87.5px,#000073 88.5px,#a0c7ff 89.5px,#a0c7ff 115.5px,#00005b 116.5px,#0000a2 119.5px,#0000e2 124.5px,#0707ff 129.5px,#8686ff 149.5px,#d2d2ff 167.5px,#f4f4ff 188.5px,#f6f6ff 192px)"></i>
<i style="top:484px;left:77px;width:192px;background:linear-gradient(90deg,#f2f2ff 0px,#fdfdff 28.5px,#fdd 39.5px,#ff9393 50.5px,#ff9797 74.5px,#ffecec 77.5px,#fffefe 78.5px,#e4e4ff 79.5px,#1717ff 81.5px,#0404ff 82.5px,#0000dc 85.5px,#0000a1 87.5px,#000070 88.5px,#a0c7ff 89.5px,#a0c7ff 115.5px,#00005c 116.5px,#0000a5 119.5px,#00d 123.5px,#0707ff 128.5px,#6d6dff 143.5px,#cacaff 162.5px,#f6f6ff 181.5px,#fefeff 192px)"></i>
<i style="top:485px;left:77px;width:192px;background:linear-gradient(90deg,#eef 0px,#f8f8ff 28.5px,#fffafa 33.5px,#ffcdcd 43.5px,#f99 50.5px,#ff9797 73.5px,#ffa1a1 74.5px,#fff3f3 77.5px,#fff 78.5px,#c9c9ff 79.5px,#5959ff 80.5px,#0303ff 81.5px,#0000e3 84.5px,#0000b6 86.5px,#000090 87.5px,#a0c7ff 88.5px,#a0c7ff 115.5px,#00004b 116.5px,#000098 119.5px,#0000d3 123.5px,#0202ff 129.5px,#7979ff 147.5px,#ccf 165.5px,#f3f3ff 185.5px,#f7f7ff 192px)"></i>
<i style="top:486px;left:77px;width:192px;background:linear-gradient(90deg,#f2f2ff 0px,#fefeff 29.5px,#ffd6d6 41.5px,#ff9696 50.5px,#ff9494 73.5px,#ffc2c2 75.5px,#fff8f8 77.5px,#f9f9ff 78.5px,#b1b1ff 79.5px,#4040ff 80.5px,#0000f9 81.5px,#0000da 84.5px,#0000a9 86.5px,#000080 87.5px,#a0c7ff 88.5px,#a0c7ff 116.5px,#00005b 117.5px,#0000a0 120.5px,#0000df 125.5px,#0202ff 130.5px,#8686ff 150.5px,#d0d0ff 167.5px,#f4f4ff 187.5px,#f6f6ff 192px)"></i>
<i style="top:487px;left:77px;width:192px;background:linear-gradient(90deg,#f2f2ff 0px,#fdfdff 29.5px,#ffe1e1 39.5px,#ffa5a5 48.5px,#ff9494 53.5px,#ff9898 73.5px,#fffcfc 77.5px,#f0f0ff 78.5px,#9898ff 79.5px,#2929ff 80.5px,#0000f3 81.5px,#0000d2 84.5px,#00009c 86.5px,#00006f 87.5px,#a0c7ff 88.5px,#a0c7ff 116.5px,#00004b 117.5px,#000095 120.5px,#0000ce 124.5px,#0202ff 131.5px,#8d8dff 152.5px,#d5d5ff 169.5px,#f6f6ff 190.5px,#f6f6ff 192px)"></i>
<i style="top:488px;left:77px;width:192px;background:linear-gradient(90deg,#ebebff 0px,#f6f6ff 29.5px,#fffbfb 34.5px,#ffc3c3 45.5px,#ff9e9e 50.5px,#ff9595 72.5px,#ffa0a0 73.5px,#fff0f0 76.5px,#fffefe 77.5px,#dedeff 78.5px,#0404ff 80.5px,#0000e3 81.5px,#0000bd 84.5px,#00007f 86.5px,#00004b 87.5px,#a0c7ff 88.5px,#a0c7ff 116.5px,#000028 117.5px,#00007b 120.5px,#00b 124.5px,#0000f2 131.5px,#0404ff 134.5px,#9292ff 155.5px,#d5d5ff 171.5px,#f4f4ff 192px)"></i>
<i style="top:489px;left:77px;width:192px;background:linear-gradient(90deg,#f5f5ff 0px,#fffafa 32.5px,#ffc5c5 45.5px,#ffa5a5 50.5px,#ff9a9a 68.5px,#ff9b9b 72.5px,#ffc4c4 74.5px,#fff6f6 76.5px,#fff 77.5px,#d6d6ff 78.5px,#22f 80.5px,#0101ff 81.5px,#0000dc 84.5px,#0000a5 86.5px,#000076 87.5px,#a0c7ff 88.5px,#a0c7ff 116.5px,#00005c 117.5px,#0000a5 120.5px,#0000dc 124.5px,#0505ff 129.5px,#6b6bff 144.5px,#c6c6ff 163.5px,#f1f1ff 182.5px,#f8f8ff 192px)"></i>
<i style="top:490px;left:77px;width:192px;background:linear-gradient(90deg,#ededff 0px,#f8f8ff 30.5px,#fffcfc 34.5px,#ffc2c2 46.5px,#ffa7a7 50.5px,#f99 66.5px,#ff9f9f 72.5px,#fffafa 76.5px,#fdfdff 77.5px,#bebeff 78.5px,#5353ff 79.5px,#0000f8 80.5px,#00b 84.5px,#00009f 85.5px,#000076 86.5px,#00003c 87.5px,#a0c7ff 88.5px,#a0c7ff 116.5px,#000023 117.5px,#00007a 120.5px,#0000bd 124.5px,#0000f6 131.5px,#0b0bff 134.5px,#9898ff 155.5px,#dadaff 171.5px,#f9f9ff 192px)"></i>
<i style="top:491px;left:77px;width:192px;background:linear-gradient(90deg,#f3f3ff 0px,#fefeff 30.5px,#ffdcdc 41.5px,#ffa6a6 50.5px,#ff9696 66.5px,#ff9696 71.5px,#ffa0a0 72.5px,#fffcfc 76.5px,#f3f3ff 77.5px,#acacff 78.5px,#4343ff 79.5px,#0000f4 80.5px,#0000b8 84.5px,#00009b 85.5px,#000071 86.5px,#a0c7ff 87.5px,#a0c7ff 117.5px,#000042 118.5px,#00008d 121.5px,#0000c7 125.5px,#00f 133.5px,#8e8eff 154.5px,#d3d3ff 170.5px,#f4f4ff 190.5px,#f5f5ff 192px)"></i>
<i style="top:492px;left:77px;width:192px;background:linear-gradient(90deg,#e7e7ff 0px,#f2f2ff 31.5px,#fffdfd 37.5px,#ffbdbd 51.5px,#ffacac 66.5px,#ffadad 71.5px,#ffcbcb 73.5px,#fff3f3 75.5px,#fffefe 76.5px,#ececff 77.5px,#a7a7ff 78.5px,#4c4cff 79.5px,#0606ff 80.5px,#0000e0 83.5px,#0000b1 85.5px,#00008a 86.5px,#a0c7ff 87.5px,#a0c7ff 117.5px,#000062 118.5px,#0000a7 121.5px,#0000e5 126.5px,#0101ff 130.5px,#6d6dff 146.5px,#c7c7ff 165.5px,#eef 184.5px,#f4f4ff 192px)"></i>
<i style="top:493px;left:77px;width:192px;background:linear-gradient(90deg,#ededff 0px,#f8f8ff 31.5px,#fffcfc 35.5px,#ffc4c4 47.5px,#ffb1b1 51.5px,#ff9e9e 67.5px,#ffa1a1 71.5px,#fff4f4 75.5px,#fff 76.5px,#e1e1ff 77.5px,#8b8bff 78.5px,#2323ff 79.5px,#0000e6 80.5px,#0000be 83.5px,#000084 85.5px,#000054 86.5px,#a0c7ff 87.5px,#a0c7ff 117.5px,#000026 118.5px,#00007a 121.5px,#0000ba 125.5px,#0000f2 132.5px,#0c0cff 136.5px,#99f 157.5px,#d9d9ff 173.5px,#f4f4ff 192px)"></i>
<i style="top:494px;left:77px;width:192px;background:linear-gradient(90deg,#e8e8ff 0px,#f3f3ff 32.5px,#fffcfc 38.5px,#ffc4c4 51.5px,#ffafaf 68.5px,#ffb4b4 71.5px,#fff9f9 75.5px,#fff 76.5px,#e4e4ff 77.5px,#4242ff 79.5px,#0505ff 80.5px,#0000df 83.5px,#0000ab 85.5px,#000080 86.5px,#a0c7ff 87.5px,#a0c7ff 117.5px,#00005a 118.5px,#0000a4 121.5px,#0000dc 125.5px,#0606ff 130.5px,#6969ff 144.5px,#c8c8ff 163.5px,#f5f5ff 181.5px,#fefeff 192px)"></i>
<i style="top:495px;left:77px;width:192px;background:linear-gradient(90deg,#eaeaff 0px,#f4f4ff 32.5px,#fffdfd 38.5px,#ffcbcb 51.5px,#ffb4b4 69.5px,#ffbdbd 71.5px,#fffbfb 75.5px,#fafaff 76.5px,#d5d5ff 77.5px,#4646ff 79.5px,#1515ff 80.5px,#0000fa 82.5px,#0000d8 84.5px,#00b 85.5px,#000093 86.5px,#a0c7ff 87.5px,#a0c7ff 117.5px,#000073 118.5px,#0000b7 121.5px,#0000f3 126.5px,#0f0fff 129.5px,#6060ff 141.5px,#c2c2ff 162.5px,#eef 182.5px,#f5f5ff 192px)"></i>
<i style="top:496px;left:77px;width:192px;background:linear-gradient(90deg,#e3e3ff 0px,#eef 32.5px,#fffdfd 39.5px,#ffc5c5 51.5px,#ffaeae 69.5px,#ffbaba 71.5px,#fffdfd 75.5px,#f8f8ff 76.5px,#bfbfff 77.5px,#0404ff 79.5px,#0000de 80.5px,#0000b2 83.5px,#00006f 85.5px,#000036 86.5px,#a0c7ff 87.5px,#a0c7ff 117.5px,#00001e 118.5px,#000081 122.5px,#0000be 126.5px,#0000f9 134.5px,#1717ff 138.5px,#9d9dff 158.5px,#dcdcff 174.5px,#f6f6ff 192px)"></i>
<i style="top:497px;left:77px;width:192px;background:linear-gradient(90deg,#e3e3ff 0px,#ededff 33.5px,#fffcfc 41.5px,#ffd3d3 51.5px,#fbb 69.5px,#ffc9c9 71.5px,#fffefe 75.5px,#fafaff 76.5px,#c5c5ff 77.5px,#2d2dff 79.5px,#00f 80.5px,#0000d9 83.5px,#00009e 85.5px,#00006c 86.5px,#a0c7ff 87.5px,#a0c7ff 118.5px,#00006c 119.5px,#0000b0 122.5px,#0000ed 127.5px,#0505ff 130.5px,#5d5dff 142.5px,#c4c4ff 162.5px,#f3f3ff 180.5px,#fefeff 192px)"></i>
<i style="top:498px;left:77px;width:192px;background:linear-gradient(90deg,#e4e4ff 0px,#ededff 32.5px,#fffcfc 40.5px,#fcc 51.5px,#ffbdbd 63.5px,#ffb3b3 69.5px,#ffc7c7 71.5px,#fff8f8 74.5px,#fff 75.5px,#e8e8ff 76.5px,#a5a5ff 77.5px,#4a4aff 78.5px,#0000f9 79.5px,#0000dc 80.5px,#0000ae 83.5px,#00008f 84.5px,#000064 85.5px,#a0c7ff 86.5px,#a0c7ff 118.5px,#00002b 119.5px,#00007d 122.5px,#0000bc 126.5px,#0000f9 134.5px,#1717ff 138.5px,#9b9bff 158.5px,#dadaff 174.5px,#f4f4ff 192px)"></i>
<i style="top:499px;left:77px;width:192px;background:linear-gradient(90deg,#e3e3ff 0px,#eef 34.5px,#fffcfc 42.5px,#ffdada 51.5px,#ffcece 63.5px,#ffc2c2 69.5px,#fff 75.5px,#e8e8ff 76.5px,#adadff 77.5px,#22f 79.5px,#0000fe 80.5px,#0000d6 83.5px,#000097 85.5px,#a0c7ff 86.5px,#a0c7ff 118.5px,#000069 119.5px,#0000ae 122.5px,#0000ec 127.5px,#0404ff 130.5px,#5b5bff 142.5px,#c3c3ff 163.5px,#f0f0ff 182.5px,#f9f9ff 192px)"></i>
<i style="top:500px;left:77px;width:192px;background:linear-gradient(90deg,#e3e3ff 0px,#ececff 33.5px,#fffbfb 42.5px,#ffd7d7 51.5px,#ffcdcd 63.5px,#ffc1c1 69.5px,#fffcfc 74.5px,#fafaff 75.5px,#d8d8ff 76.5px,#9393ff 77.5px,#4242ff 78.5px,#0000fb 79.5px,#0000da 81.5px,#0000b4 83.5px,#000095 84.5px,#000068 85.5px,#a0c7ff 86.5px,#a0c7ff 118.5px,#000035 119.5px,#000087 122.5px,#0000c5 126.5px,#0000fb 133.5px,#99f 157.5px,#dadaff 174.5px,#f3f3ff 192px)"></i>
<i style="top:501px;left:77px;width:192px;background:linear-gradient(90deg,#e2e2ff 0px,#ededff 34.5px,#fffdfd 42.5px,#ffdbdb 51.5px,#ffd1d1 64.5px,#ffc8c8 69.5px,#fffdfd 74.5px,#fffefe 75.5px,#d9d9ff 76.5px,#00f 79.5px,#0000b6 83.5px,#000095 84.5px,#006 85.5px,#a0c7ff 86.5px,#a0c7ff 118.5px,#000035 119.5px,#000089 122.5px,#0000c9 126.5px,#0101ff 133.5px,#7a7aff 150.5px,#ceceff 167.5px,#f8f8ff 186.5px,#fcfcff 192px)"></i>
<i style="top:502px;left:77px;width:192px;background:linear-gradient(90deg,#e1e1ff 0px,#ececff 34.5px,#fffdfd 42.5px,#ffd9d9 51.5px,#ffd0d0 65.5px,#fcc 69.5px,#fffefe 74.5px,#f3f3ff 75.5px,#c1c1ff 76.5px,#1d1dff 78.5px,#0000e4 79.5px,#00a 82.5px,#000068 84.5px,#000030 85.5px,#a0c7ff 86.5px,#a0c7ff 118.5px,#00001e 119.5px,#000020 120.5px,#000073 123.5px,#0000b3 127.5px,#0000f2 135.5px,#0404ff 138.5px,#9292ff 158.5px,#d6d6ff 174.5px,#f3f3ff 192px)"></i>
<i style="top:503px;left:77px;width:192px;background:linear-gradient(90deg,#dedeff 0px,#e7e7ff 34.5px,#fffafa 45.5px,#ffe5e5 51.5px,#ffdcdc 66.5px,#ffdcdc 69.5px,#fefeff 74.5px,#efefff 75.5px,#c0c0ff 76.5px,#33f 78.5px,#0000f7 79.5px,#0000ab 83.5px,#000087 84.5px,#000054 85.5px,#a0c7ff 86.5px,#a0c7ff 119.5px,#000047 120.5px,#000092 123.5px,#00c 127.5px,#0101ff 134.5px,#8383ff 153.5px,#cfcfff 170.5px,#f4f4ff 190.5px,#f4f4ff 192px)"></i>
<i style="top:504px;left:77px;width:192px;background:linear-gradient(90deg,#dcdcff 0px,#e6e6ff 35.5px,#fffbfb 46.5px,#ffebeb 52.5px,#ffe7e7 69.5px,#fdfdff 73.5px,#fcfcff 74.5px,#eef 75.5px,#bdbdff 76.5px,#33f 78.5px,#0000f9 79.5px,#0000c4 82.5px,#000085 84.5px,#000050 85.5px,#a0c7ff 86.5px,#a0c7ff 119.5px,#000045 120.5px,#000092 123.5px,#0000ce 127.5px,#0000fc 133.5px,#9393ff 155.5px,#dadaff 172.5px,#f9f9ff 192px)"></i>
<i style="top:505px;left:77px;width:192px;background:linear-gradient(90deg,#e0e0ff 0px,#e9e9ff 35.5px,#fffcfc 45.5px,#ffeaea 52.5px,#ffe5e5 68.5px,#fdfdff 72.5px,#fefeff 74.5px,#e5e5ff 75.5px,#b2b2ff 76.5px,#2c2cff 78.5px,#0000f6 79.5px,#0000c1 82.5px,#00007f 84.5px,#000047 85.5px,#a0c7ff 86.5px,#a0c7ff 119.5px,#00003f 120.5px,#00008e 123.5px,#0000cb 127.5px,#0101ff 134.5px,#7e7eff 152.5px,#ceceff 169.5px,#f4f4ff 188.5px,#f6f6ff 192px)"></i>
<i style="top:506px;left:77px;width:192px;background:linear-gradient(90deg,#dbdbff 0px,#e5e5ff 36.5px,#fffefe 47.5px,#fff4f4 54.5px,#fff1f1 68.5px,#fefeff 71.5px,#fbfbff 74.5px,#e0e0ff 75.5px,#7171ff 77.5px,#3131ff 78.5px,#0000fc 79.5px,#0000c7 82.5px,#000085 84.5px,#00004e 85.5px,#a0c7ff 86.5px,#a0c7ff 119.5px,#000049 120.5px,#000097 123.5px,#0000d2 127.5px,#0202ff 133.5px,#7272ff 149.5px,#c8c8ff 167.5px,#f2f2ff 186.5px,#f6f6ff 192px)"></i>
<i style="top:507px;left:77px;width:192px;background:linear-gradient(90deg,#dfdfff 0px,#e8e8ff 36.5px,#fffbfb 47.5px,#fff2f2 56.5px,#fff2f2 68.5px,#fbfbff 71.5px,#f9f9ff 74.5px,#dadaff 75.5px,#6a6aff 77.5px,#2c2cff 78.5px,#0000f9 79.5px,#0000c2 82.5px,#0000a6 83.5px,#00007d 84.5px,#a0c7ff 85.5px,#a0c7ff 119.5px,#000040 120.5px,#000091 123.5px,#0000cf 127.5px,#0000fe 133.5px,#7676ff 150.5px,#ccf 168.5px,#f3f3ff 187.5px,#f7f7ff 192px)"></i>
<i style="top:508px;left:77px;width:192px;background:linear-gradient(90deg,#dedeff 0px,#e8e8ff 37.5px,#fffcfc 48.5px,#fffafa 68.5px,#f1f1ff 74.5px,#d1d1ff 75.5px,#0000fe 79.5px,#0000c9 82.5px,#0000ad 83.5px,#000085 84.5px,#a0c7ff 85.5px,#a0c7ff 119.5px,#00004c 120.5px,#00009a 123.5px,#0000d6 127.5px,#0000fe 132.5px,#6868ff 147.5px,#c2c2ff 166.5px,#ededff 185.5px,#f2f2ff 192px)"></i>
<i style="top:509px;left:77px;width:192px;background:linear-gradient(90deg,#dcdcff 0px,#e6e6ff 37.5px,#fffbfb 49.5px,#fbfbff 69.5px,#f7f7ff 73.5px,#e9e9ff 74.5px,#c5c5ff 75.5px,#1e1eff 78.5px,#0000f2 79.5px,#0000b9 82.5px,#00009a 83.5px,#00006e 84.5px,#a0c7ff 85.5px,#a0c7ff 119.5px,#003 120.5px,#000087 123.5px,#0000c8 127.5px,#00f 134.5px,#7979ff 152.5px,#cacaff 170.5px,#eef 190.5px,#efefff 192px)"></i>
<i style="top:510px;left:77px;width:192px;background:linear-gradient(90deg,#ddf 0px,#e7e7ff 37.5px,#fffcfc 49.5px,#fdfdff 68.5px,#f1f1ff 72.5px,#fefeff 73.5px,#ebebff 74.5px,#c3c3ff 75.5px,#1616ff 78.5px,#0000ed 79.5px,#0000af 82.5px,#00008d 83.5px,#00005c 84.5px,#a0c7ff 85.5px,#a0c7ff 120.5px,#000043 121.5px,#000090 124.5px,#00c 128.5px,#0202ff 135.5px,#8080ff 153.5px,#ceceff 170.5px,#f5f5ff 190.5px,#f6f6ff 192px)"></i>
<i style="top:511px;left:77px;width:192px;background:linear-gradient(90deg,#dbdbff 0px,#e4e4ff 37.5px,#fdfdff 51.5px,#f6f6ff 68.5px,#efefff 72.5px,#f9f9ff 73.5px,#e4e4ff 74.5px,#8b8bff 76.5px,#1a1aff 78.5px,#0000f0 79.5px,#0000b2 82.5px,#000090 83.5px,#000060 84.5px,#a0c7ff 85.5px,#a0c7ff 120.5px,#000048 121.5px,#000095 124.5px,#0000d0 128.5px,#0000fe 134.5px,#7b7bff 152.5px,#ccf 170.5px,#f2f2ff 190.5px,#f3f3ff 192px)"></i>
<i style="top:512px;left:77px;width:192px;background:linear-gradient(90deg,#d9d9ff 0px,#e3e3ff 38.5px,#f9f9ff 51.5px,#f2f2ff 68.5px,#eef 72.5px,#fcfcff 73.5px,#e5e5ff 74.5px,#8b8bff 76.5px,#1b1bff 78.5px,#0000f1 79.5px,#0000af 82.5px,#00008c 83.5px,#000059 84.5px,#a0c7ff 85.5px,#a0c7ff 120.5px,#000043 121.5px,#000092 124.5px,#0000cf 128.5px,#0000fe 134.5px,#77f 151.5px,#ccf 169.5px,#f4f4ff 188.5px,#f7f7ff 192px)"></i>
<i style="top:513px;left:77px;width:192px;background:linear-gradient(90deg,#dcdcff 0px,#e5e5ff 38.5px,#f8f8ff 52.5px,#f3f3ff 67.5px,#ececff 72.5px,#fbfbff 73.5px,#e4e4ff 74.5px,#9191ff 76.5px,#0000fc 79.5px,#0000bc 82.5px,#009 83.5px,#000068 84.5px,#a0c7ff 85.5px,#a0c7ff 120.5px,#000056 121.5px,#0000a1 124.5px,#0000db 128.5px,#0505ff 133.5px,#6363ff 146.5px,#c1c1ff 165.5px,#f0f0ff 184.5px,#f7f7ff 192px)"></i>
<i style="top:514px;left:77px;width:192px;background:linear-gradient(90deg,#d9d9ff 0px,#e2e2ff 38.5px,#f4f4ff 51.5px,#efefff 67.5px,#ebebff 72.5px,#fafaff 73.5px,#e0e0ff 74.5px,#88f 76.5px,#1a1aff 78.5px,#0000f0 79.5px,#0000a8 82.5px,#000082 83.5px,#00004a 84.5px,#a0c7ff 85.5px,#a0c7ff 120.5px,#000038 121.5px,#00008c 124.5px,#0000cb 128.5px,#0000fc 134.5px,#88f 154.5px,#d3d3ff 171.5px,#f8f8ff 192px)"></i>
<i style="top:515px;left:77px;width:192px;background:linear-gradient(90deg,#dcdcff 0px,#e5e5ff 39.5px,#f3f3ff 53.5px,#ececff 67.5px,#eaeaff 72.5px,#f8f8ff 73.5px,#bdbdff 75.5px,#0404ff 79.5px,#0000be 82.5px,#00009b 83.5px,#000068 84.5px,#a0c7ff 85.5px,#a0c7ff 120.5px,#000059 121.5px,#0000a5 124.5px,#0000df 128.5px,#0202ff 132.5px,#5050ff 142.5px,#bcbcff 163.5px,#eef 182.5px,#f8f8ff 192px)"></i>
<i style="top:516px;left:77px;width:192px;background:linear-gradient(90deg,#dbdbff 0px,#e5e5ff 39.5px,#f2f2ff 51.5px,#ededff 66.5px,#e6e6ff 71.5px,#fcfcff 72.5px,#f1f1ff 73.5px,#d5d5ff 74.5px,#7b7bff 76.5px,#0e0eff 78.5px,#0000e8 79.5px,#000097 82.5px,#00006d 83.5px,#a0c7ff 84.5px,#a0c7ff 120.5px,#000021 121.5px,#00007b 124.5px,#0000c0 128.5px,#0000fa 135.5px,#1a1aff 139.5px,#9a9aff 159.5px,#dbdbff 176.5px,#f3f3ff 192px)"></i>
<i style="top:517px;left:77px;width:192px;background:linear-gradient(90deg,#dcdcff 0px,#e5e5ff 39.5px,#f0f0ff 52.5px,#ebebff 66.5px,#e4e4ff 71.5px,#fffefe 72.5px,#f3f3ff 73.5px,#b1b1ff 75.5px,#1a1aff 78.5px,#0000f0 79.5px,#0000a0 82.5px,#000075 83.5px,#a0c7ff 84.5px,#a0c7ff 121.5px,#00004f 122.5px,#00009a 125.5px,#0000d4 129.5px,#0404ff 135.5px,#7575ff 151.5px,#cbcbff 169.5px,#f4f4ff 188.5px,#f7f7ff 192px)"></i>
<i style="top:518px;left:77px;width:192px;background:linear-gradient(90deg,#d3d3ff 0px,#dcdcff 39.5px,#e5e5ff 54.5px,#e3e3ff 71.5px,#fffefe 72.5px,#f1f1ff 73.5px,#acacff 75.5px,#1313ff 78.5px,#0000eb 79.5px,#000094 82.5px,#000067 83.5px,#a0c7ff 84.5px,#a0c7ff 121.5px,#000040 122.5px,#000090 125.5px,#00c 129.5px,#0000fc 135.5px,#8d8dff 156.5px,#d6d6ff 173.5px,#f7f7ff 192px)"></i>
<i style="top:519px;left:77px;width:192px;background:linear-gradient(90deg,#dcdcff 0px,#e5e5ff 39.5px,#eef 55.5px,#e7e7ff 66.5px,#e1e1ff 71.5px,#fefeff 72.5px,#ececff 73.5px,#a2a2ff 75.5px,#0101ff 78.5px,#00007e 82.5px,#00004c 83.5px,#a0c7ff 84.5px,#a0c7ff 121.5px,#000024 122.5px,#00007b 125.5px,#0000bd 129.5px,#0000f7 136.5px,#0d0dff 139.5px,#8f8fff 158.5px,#d5d5ff 174.5px,#f5f5ff 192px)"></i>
<i style="top:520px;left:77px;width:192px;background:linear-gradient(90deg,#dbdbff 0px,#e5e5ff 41.5px,#e3e3ff 66.5px,#e0e0ff 71.5px,#fbfbff 72.5px,#d1d1ff 74.5px,#5a5aff 77.5px,#0000fd 79.5px,#0000ab 82.5px,#000081 83.5px,#a0c7ff 84.5px,#a0c7ff 121.5px,#000061 122.5px,#00a 125.5px,#0000e1 129.5px,#0303ff 133.5px,#5656ff 144.5px,#bfbfff 165.5px,#eef 184.5px,#f5f5ff 192px)"></i>
<i style="top:521px;left:77px;width:192px;background:linear-gradient(90deg,#d9d9ff 0px,#e2e2ff 41.5px,#ddf 67.5px,#dfdfff 71.5px,#f5f5ff 72.5px,#cdcdff 74.5px,#6161ff 77.5px,#0b0bff 79.5px,#0000d4 81.5px,#0000b7 82.5px,#00008e 83.5px,#a0c7ff 84.5px,#a0c7ff 121.5px,#000072 122.5px,#0000b6 125.5px,#0000f4 130.5px,#1010ff 133.5px,#5d5dff 144.5px,#bebeff 165.5px,#ebebff 185.5px,#f1f1ff 192px)"></i>
<i style="top:522px;left:77px;width:192px;background:linear-gradient(90deg,#d4d4ff 0px,#ddf 41.5px,#dedeff 71.5px,#fefeff 72.5px,#d1d1ff 74.5px,#5a5aff 77.5px,#0000fc 79.5px,#0000a2 82.5px,#000074 83.5px,#a0c7ff 84.5px,#a0c7ff 121.5px,#005 122.5px,#0000a3 125.5px,#0000de 129.5px,#0101ff 133.5px,#5050ff 143.5px,#bebeff 164.5px,#f1f1ff 183.5px,#fafaff 192px)"></i>
<svg width="685" height="584" viewBox="0 0 685 584"><defs><linearGradient id="cb" x1="0" y1="0" x2="0" y2="1">
<stop offset="0" stop-color="#1c0000"/><stop offset="0.1" stop-color="#5a0000"/><stop offset="0.3" stop-color="#ff0000"/>
<stop offset="0.4" stop-color="#ff8080"/><stop offset="0.49" stop-color="#ffffff"/><stop offset="0.51" stop-color="#ffffff"/>
<stop offset="0.6" stop-color="#8080ff"/><stop offset="0.7" stop-color="#0000ff"/><stop offset="0.9" stop-color="#00005a"/><stop offset="1" stop-color="#00001c"/>
</linearGradient></defs><rect x="0.8" y="1.15" width="85.9" height="26" fill="none" stroke="#000" stroke-width="1.7"/>
<text x="9.90" y="22.80" style="font-size:24.5px">setup I</text>
<text x="109.20" y="23.30" style="font-size:24.5px;font-style:italic">g</text>
<text x="127.30" y="23.30" style="font-size:24.5px">=</text>
<text x="147.40" y="23.30" style="font-size:24.5px">0.028</text>
<text x="221.60" y="24.70" style="font-size:24.5px;font-style:italic">J</text>
<text x="234.20" y="32.60" style="font-size:18px">T</text>
<text x="250.00" y="24.70" style="font-size:24.5px">=</text>
<text x="270.30" y="24.70" style="font-size:24.5px">380</text>
<text x="313.80" y="24.70" style="font-size:24.5px">fW</text>
<path d="M72.20 243.20h4.5M345.00 243.20h-4.5" stroke="#000" stroke-width="1.5"/>
<path d="M72.20 210.85h4.5M345.00 210.85h-4.5" stroke="#000" stroke-width="1.5"/>
<path d="M72.20 178.50h4.5M345.00 178.50h-4.5" stroke="#000" stroke-width="1.5"/>
<path d="M72.20 146.15h4.5M345.00 146.15h-4.5" stroke="#000" stroke-width="1.5"/>
<path d="M72.20 113.80h4.5M345.00 113.80h-4.5" stroke="#000" stroke-width="1.5"/>
<path d="M72.20 81.45h4.5M345.00 81.45h-4.5" stroke="#000" stroke-width="1.5"/>
<path d="M72.20 49.10h4.5M345.00 49.10h-4.5" stroke="#000" stroke-width="1.5"/>
<path d="M77.58 44.70v4.5M77.58 247.00v-4.5" stroke="#000" stroke-width="1.5"/>
<path d="M121.30 44.70v4.5M121.30 247.00v-4.5" stroke="#000" stroke-width="1.5"/>
<path d="M165.02 44.70v4.5M165.02 247.00v-4.5" stroke="#000" stroke-width="1.5"/>
<path d="M208.75 44.70v4.5M208.75 247.00v-4.5" stroke="#000" stroke-width="1.5"/>
<path d="M252.47 44.70v4.5M252.47 247.00v-4.5" stroke="#000" stroke-width="1.5"/>
<path d="M296.20 44.70v4.5M296.20 247.00v-4.5" stroke="#000" stroke-width="1.5"/>
<text x="33.20" y="57.40" style="font-size:24px">150</text>
<text x="33.10" y="89.60" style="font-size:24px">100</text>
<text x="41.90" y="123.00" style="font-size:24px">50</text>
<text x="51.70" y="154.60" style="font-size:24px">0</text>
<text x="35.10" y="187.10" style="font-size:24px">-50</text>
<text x="25.90" y="219.00" style="font-size:24px">-100</text>
<text x="25.90" y="251.40" style="font-size:24px">-150</text>
<text x="96.60" y="271.00" style="font-size:24px">-380</text>
<text x="183.20" y="271.00" style="font-size:24px">-390</text>
<text x="270.80" y="271.00" style="font-size:24px">-400</text>
<text x="161.40" y="294.00" style="font-size:24.5px;font-style:italic">V</text>
<text x="174.40" y="301.60" style="font-size:17px">GD</text>
<text x="206.40" y="294.00" style="font-size:24.5px">(mV)</text>
<rect x="284.1" y="121.60" width="16.30" height="8.4" fill="#ffb8e2"/>
<rect x="284.1" y="129.80" width="16.30" height="100.2" fill="url(#cb)"/>
<rect x="284.1" y="229.90" width="16.30" height="8.9" fill="#a0c7ff"/>
<path d="M300.6 139.30h5.2" stroke="#000" stroke-width="1.6"/>
<path d="M300.6 159.20h5.2" stroke="#000" stroke-width="1.6"/>
<path d="M300.6 179.10h5.2" stroke="#000" stroke-width="1.6"/>
<path d="M300.6 199.00h5.2" stroke="#000" stroke-width="1.6"/>
<path d="M300.6 218.90h5.2" stroke="#000" stroke-width="1.6"/>
<text x="309.20" y="147.10" style="font-size:23px">4</text>
<text x="308.20" y="167.00" style="font-size:23px">2</text>
<text x="308.20" y="186.90" style="font-size:23px">0</text>
<text x="308.00" y="206.80" style="font-size:23px">-2</text>
<text x="308.00" y="226.70" style="font-size:23px">-4</text>
<text x="305.60" y="129.50" style="font-size:19px">&gt;</text>
<text x="320.40" y="131.00" style="font-size:19px">5</text>
<text x="303.40" y="240.60" style="font-size:19px">&lt;</text>
<text x="317.60" y="242.40" style="font-size:19px">-5</text>
<text x="271.80" y="108.60" style="font-size:21px;font-style:italic">I</text>
<text x="279.20" y="114.60" style="font-size:15.5px">D</text>
<text x="295.80" y="108.60" style="font-size:21px">(pA)</text>
<path d="M72.20 525.89h4.5M345.00 525.89h-4.5" stroke="#000" stroke-width="1.5"/>
<path d="M72.20 493.56h4.5M345.00 493.56h-4.5" stroke="#000" stroke-width="1.5"/>
<path d="M72.20 461.23h4.5M345.00 461.23h-4.5" stroke="#000" stroke-width="1.5"/>
<path d="M72.20 428.90h4.5M345.00 428.90h-4.5" stroke="#000" stroke-width="1.5"/>
<path d="M72.20 396.57h4.5M345.00 396.57h-4.5" stroke="#000" stroke-width="1.5"/>
<path d="M72.20 364.24h4.5M345.00 364.24h-4.5" stroke="#000" stroke-width="1.5"/>
<path d="M72.20 331.91h4.5M345.00 331.91h-4.5" stroke="#000" stroke-width="1.5"/>
<path d="M77.10 324.00v4.5M77.10 526.80v-4.5" stroke="#000" stroke-width="1.5"/>
<path d="M126.00 324.00v4.5M126.00 526.80v-4.5" stroke="#000" stroke-width="1.5"/>
<path d="M174.90 324.00v4.5M174.90 526.80v-4.5" stroke="#000" stroke-width="1.5"/>
<path d="M223.80 324.00v4.5M223.80 526.80v-4.5" stroke="#000" stroke-width="1.5"/>
<path d="M272.70 324.00v4.5M272.70 526.80v-4.5" stroke="#000" stroke-width="1.5"/>
<text x="33.20" y="339.60" style="font-size:24px">150</text>
<text x="33.10" y="371.80" style="font-size:24px">100</text>
<text x="41.90" y="405.20" style="font-size:24px">50</text>
<text x="51.70" y="436.80" style="font-size:24px">0</text>
<text x="35.10" y="469.30" style="font-size:24px">-50</text>
<text x="25.90" y="501.20" style="font-size:24px">-100</text>
<text x="25.90" y="533.60" style="font-size:24px">-150</text>
<text x="54.30" y="550.60" style="font-size:24px">-400</text>
<text x="103.30" y="550.60" style="font-size:24px">-200</text>
<text x="169.90" y="550.60" style="font-size:24px">0</text>
<text x="203.20" y="550.60" style="font-size:24px">200</text>
<text x="253.20" y="550.60" style="font-size:24px">400</text>
<rect x="284.1" y="400.70" width="16.30" height="8.4" fill="#ffb8e2"/>
<rect x="284.1" y="408.90" width="16.30" height="100.2" fill="url(#cb)"/>
<rect x="284.1" y="509.00" width="16.30" height="8.9" fill="#a0c7ff"/>
<path d="M300.6 418.40h5.2" stroke="#000" stroke-width="1.6"/>
<path d="M300.6 438.30h5.2" stroke="#000" stroke-width="1.6"/>
<path d="M300.6 458.20h5.2" stroke="#000" stroke-width="1.6"/>
<path d="M300.6 478.10h5.2" stroke="#000" stroke-width="1.6"/>
<path d="M300.6 498.00h5.2" stroke="#000" stroke-width="1.6"/>
<text x="309.20" y="426.20" style="font-size:23px">4</text>
<text x="308.20" y="446.10" style="font-size:23px">2</text>
<text x="308.20" y="466.00" style="font-size:23px">0</text>
<text x="308.00" y="485.90" style="font-size:23px">-2</text>
<text x="308.00" y="505.80" style="font-size:23px">-4</text>
<text x="305.60" y="408.60" style="font-size:19px">&gt;</text>
<text x="320.40" y="410.10" style="font-size:19px">5</text>
<text x="303.40" y="519.70" style="font-size:19px">&lt;</text>
<text x="317.60" y="521.50" style="font-size:19px">-5</text>
<text x="271.80" y="387.70" style="font-size:21px;font-style:italic">I</text>
<text x="279.20" y="393.70" style="font-size:15.5px">D</text>
<text x="295.80" y="387.70" style="font-size:21px">(pA)</text>
<path d="M174.8 329.5V523.5M77 429.2H268" stroke="#3a3a3a" stroke-width="1.1" stroke-dasharray="3 3" stroke-opacity="0.8"/>
<path d="M455 71.3H581 M568.2 5.5V139.5" stroke="#000" stroke-width="1" stroke-dasharray="3.2 2.6"/>
<path d="M455 260.6H681 M568.2 200.5V333.7" stroke="#000" stroke-width="1" stroke-dasharray="3.2 2.6"/>
<rect x="455.0" y="4.6" width="226.60" height="135.70" fill="none" stroke="#000" stroke-width="2.4"/>
<path d="M464.89 4.60v4.5M464.89 140.30v-4.5" stroke="#000" stroke-width="1.5"/>
<path d="M499.73 4.60v4.5M499.73 140.30v-4.5" stroke="#000" stroke-width="1.5"/>
<path d="M534.56 4.60v4.5M534.56 140.30v-4.5" stroke="#000" stroke-width="1.5"/>
<path d="M569.40 4.60v4.5M569.40 140.30v-4.5" stroke="#000" stroke-width="1.5"/>
<path d="M604.24 4.60v4.5M604.24 140.30v-4.5" stroke="#000" stroke-width="1.5"/>
<path d="M639.07 4.60v4.5M639.07 140.30v-4.5" stroke="#000" stroke-width="1.5"/>
<path d="M673.90 4.60v4.5M673.90 140.30v-4.5" stroke="#000" stroke-width="1.5"/>
<path d="M455.00 129.30h4.5" stroke="#000" stroke-width="1.5"/>
<path d="M455.00 110.00h4.5" stroke="#000" stroke-width="1.5"/>
<path d="M455.00 90.70h4.5" stroke="#000" stroke-width="1.5"/>
<path d="M455.00 71.40h4.5" stroke="#000" stroke-width="1.5"/>
<path d="M455.00 52.10h4.5" stroke="#000" stroke-width="1.5"/>
<path d="M455.00 32.80h4.5" stroke="#000" stroke-width="1.5"/>
<path d="M455.00 13.50h4.5" stroke="#000" stroke-width="1.5"/>
<rect x="581" y="59.6" width="104" height="71.4" fill="#fff"/>
<path d="M465.7 127.0 673.5 14.0" fill="none" stroke="#ff2b3a" stroke-width="2.6" stroke-linejoin="round" stroke-linecap="round"/>
<path d="M465.6 136.7 466.9 135.5 468.2 134.8 469.5 134.0 470.7 133.2 472.0 131.8 473.3 130.5 474.6 129.3 475.9 128.9 477.3 128.3 478.6 126.9 479.9 125.5 481.2 124.6 482.6 124.6 483.9 123.2 485.2 121.6 486.5 121.2 487.9 119.9 489.2 119.2 490.4 118.3 491.6 117.3 492.9 116.9 494.1 115.7 495.3 114.7 496.5 114.1 497.7 113.3 498.9 111.6 500.1 111.1 501.4 110.0 502.6 109.3 503.8 108.0 505.1 107.7 506.5 106.9 507.8 106.0 509.1 104.9 510.4 104.4 511.8 103.3 513.1 102.4 514.4 102.2 515.7 100.9 517.1 100.9 518.4 100.0 519.7 98.2 521.1 98.2 522.4 96.9 523.7 96.5 525.0 95.7 526.4 94.2 527.7 94.0 529.0 93.2 530.3 92.8 531.7 91.3 533.0 91.2 534.3 89.8 535.7 89.3 537.0 88.4 538.3 88.5 539.6 87.5 541.0 87.4 542.3 86.0 543.6 85.4 544.9 84.6 546.3 83.4 547.6 82.9 549.0 82.6 550.4 81.3 551.9 80.8 553.3 79.9 554.7 79.4 556.1 78.4 557.5 77.7 558.9 77.1 560.4 76.3 561.8 75.2 563.2 75.1 564.5 73.4 565.9 72.6 567.2 71.7 568.5 71.5 569.8 70.2 571.1 69.1 572.5 68.1 573.8 67.7 575.2 66.3 576.7 65.4 578.1 65.2 579.6 63.6 581.0 63.1 582.5 62.3 584.0 61.4 585.4 60.8 586.9 60.5 588.4 59.1 589.8 58.1 591.3 57.2 592.8 57.0 594.2 56.1 595.6 55.6 597.1 54.6 598.5 53.8 600.0 52.9 601.3 52.2 602.5 51.6 603.8 50.5 605.0 49.9 606.3 49.7 607.5 48.3 608.8 46.7 610.2 47.1 611.7 45.8 613.1 44.5 614.6 44.4 616.0 43.2 617.5 42.2 618.9 41.5 620.3 40.7 621.7 40.3 623.1 40.0 624.5 38.8 625.8 38.3 627.1 38.0 628.4 36.1 629.7 35.8 631.0 34.8 632.3 33.8 633.5 33.0 634.8 32.6 636.1 31.9 637.4 30.8 638.7 30.2 640.0 29.6 641.3 28.7 642.7 28.1 644.1 27.2 645.5 26.4 646.9 26.1 648.3 24.9 649.6 24.0 651.0 23.4 652.4 22.0 653.8 21.4 655.2 21.1 656.6 20.2 657.9 19.7 659.2 18.2 660.5 16.8 661.9 17.1 663.2 16.0 664.5 14.3 665.8 14.3 667.1 12.7 668.4 11.0 669.6 10.4 670.9 9.3 672.2 8.9 673.5 7.3" fill="none" stroke="#000" stroke-width="3.0" stroke-linejoin="round" stroke-linecap="round"/>
<circle cx="568.3" cy="71.5" r="6.8" fill="none" stroke="#000" stroke-width="1.2"/>
<path d="M573.6 75.3C576.5 76.6 579.5 76.2 581.6 73.6C584 70.4 586 66.6 591 65.6C595 65 598 65.8 601.5 66.6" fill="none" stroke="#000" stroke-width="1.5"/>
<path d="M600.2 62.8L608.6 68.8L599.6 70.6Z" fill="#000"/>
<rect x="612.4" y="66.3" width="69.2" height="47.3" fill="#fff" stroke="#000" stroke-width="1.7"/>
<path d="M613 94.2H681 M640.2 94.2V113" stroke="#555" stroke-width="1.1" stroke-dasharray="3 2.4"/>
<path d="M612.4 78.0h4" stroke="#000" stroke-width="1.4"/>
<path d="M612.4 94.2h4" stroke="#000" stroke-width="1.4"/>
<path d="M612.4 110.2h4" stroke="#000" stroke-width="1.4"/>
<path d="M616.3 113.6v-4" stroke="#000" stroke-width="1.4"/>
<path d="M645.9 113.6v-4" stroke="#000" stroke-width="1.4"/>
<path d="M675.3 113.6v-4" stroke="#000" stroke-width="1.4"/>
<path d="M613.2 107.6L681 71.2" stroke="#ff2b3a" stroke-width="2"/>
<path d="M616.6 103.1 619.3 103.6 622.5 104.2 625.9 100.3 629.3 99.3 633.0 97.9 635.8 97.1 638.8 96.1 641.5 95.0 643.3 93.6 645.7 91.3 649.0 86.4 651.9 86.0 654.6 87.1 657.8 81.0 660.6 82.8 663.2 81.8 666.1 78.8 668.8 76.8 672.0 74.6 674.8 74.8" fill="none" stroke="#000" stroke-width="1.6" stroke-linejoin="round" stroke-linecap="round"/>
<circle cx="616.6" cy="103.1" r="1.9"/>
<circle cx="619.3" cy="103.6" r="1.9"/>
<circle cx="622.5" cy="104.2" r="1.9"/>
<circle cx="625.9" cy="100.3" r="1.9"/>
<circle cx="629.3" cy="99.3" r="1.9"/>
<circle cx="633" cy="97.9" r="1.9"/>
<circle cx="635.8" cy="97.1" r="1.9"/>
<circle cx="638.8" cy="96.1" r="1.9"/>
<circle cx="641.5" cy="95.0" r="1.9"/>
<circle cx="643.3" cy="93.6" r="1.9"/>
<circle cx="645.7" cy="91.3" r="1.9"/>
<circle cx="649.0" cy="86.4" r="1.9"/>
<circle cx="651.9" cy="86.0" r="1.9"/>
<circle cx="654.6" cy="87.1" r="1.9"/>
<circle cx="657.8" cy="81.0" r="1.9"/>
<circle cx="660.6" cy="82.8" r="1.9"/>
<circle cx="663.2" cy="81.8" r="1.9"/>
<circle cx="666.1" cy="78.8" r="1.9"/>
<circle cx="668.8" cy="76.8" r="1.9"/>
<circle cx="672.0" cy="74.6" r="1.9"/>
<circle cx="674.8" cy="74.8" r="1.9"/>
<rect x="627.4" y="57" width="26.4" height="11" fill="#fff"/>
<path d="M640.2 77.8V85" stroke="#ff2b3a" stroke-width="2"/>
<path d="M636.2 83.6H644.2L640.2 92.8Z" fill="#ff2b3a"/>
<text x="626.10" y="68.60" style="font-size:19.5px;fill:#ff2b3a;stroke:#ff2b3a">μ</text>
<text x="638.20" y="70.00" style="font-size:17px;fill:#ff2b3a;stroke:#ff2b3a">’</text>
<text x="638.30" y="75.80" style="font-size:14.5px;fill:#ff2b3a;stroke:#ff2b3a">S,</text>
<path d="M651 76.4V69.5" stroke="#ff2b3a" stroke-width="1.4"/><path d="M651 65.8L653.3 70.4H648.7Z" fill="#ff2b3a"/>
<text x="586.10" y="84.60" style="font-size:17.5px">0.2</text>
<text x="596.10" y="99.50" style="font-size:17.5px">0</text>
<text x="580.20" y="114.90" style="font-size:17.5px">-0.2</text>
<text x="603.30" y="128.40" style="font-size:17.5px">-10</text>
<text x="640.60" y="128.40" style="font-size:17.5px">0</text>
<text x="665.00" y="128.40" style="font-size:17.5px">10</text>
<rect x="454.8" y="199.6" width="226.80" height="135.00" fill="none" stroke="#000" stroke-width="2.4"/>
<path d="M464.89 199.60v4.5M464.89 334.60v-4.5" stroke="#000" stroke-width="1.5"/>
<path d="M499.73 199.60v4.5M499.73 334.60v-4.5" stroke="#000" stroke-width="1.5"/>
<path d="M534.56 199.60v4.5M534.56 334.60v-4.5" stroke="#000" stroke-width="1.5"/>
<path d="M569.40 199.60v4.5M569.40 334.60v-4.5" stroke="#000" stroke-width="1.5"/>
<path d="M604.24 199.60v4.5M604.24 334.60v-4.5" stroke="#000" stroke-width="1.5"/>
<path d="M639.07 199.60v4.5M639.07 334.60v-4.5" stroke="#000" stroke-width="1.5"/>
<path d="M673.90 199.60v4.5M673.90 334.60v-4.5" stroke="#000" stroke-width="1.5"/>
<path d="M454.80 328.00h4.5" stroke="#000" stroke-width="1.5"/>
<path d="M454.80 294.30h4.5" stroke="#000" stroke-width="1.5"/>
<path d="M454.80 260.60h4.5" stroke="#000" stroke-width="1.5"/>
<path d="M454.80 226.90h4.5" stroke="#000" stroke-width="1.5"/>
<path d="M464.6 247.7 464.9 249.4 465.2 248.0 465.4 251.3 465.7 251.0 466.0 251.4 466.1 250.5 466.3 249.4 466.4 249.0 466.6 248.8 466.8 247.7 466.9 246.8 467.1 244.3 467.2 243.4 468.1 244.1 468.7 244.7 469.4 246.5 470.0 246.8 470.5 244.3 471.0 245.0 471.5 243.6 472.0 242.4 472.5 240.7 473.4 241.9 474.2 242.3 475.1 243.6 476.0 243.6 476.9 244.4 477.8 242.5 478.6 243.1 479.5 242.9 480.4 241.7 481.3 241.3 482.2 242.4 483.1 241.7 484.1 240.8 485.0 240.8 486.0 239.8 487.0 240.3 488.0 239.5 489.0 239.8 490.0 240.2 490.9 238.8 491.8 239.3 492.6 237.5 493.5 237.6 494.4 236.4 495.4 237.4 496.4 237.6 497.4 237.5 498.5 237.5 499.5 238.7 500.5 238.8 501.5 236.8 502.5 238.4 503.5 236.2 504.5 236.8 505.5 237.0 506.5 237.1 507.5 236.2 508.5 236.5 509.5 237.2 510.4 236.7 511.4 236.9 512.4 237.9 513.4 238.2 514.3 237.6 515.3 237.7 516.3 237.8 517.3 237.4 518.2 237.2 519.2 236.8 520.2 237.9 521.1 237.2 522.1 237.1 523.1 237.2 524.0 237.4 525.0 237.9 525.9 236.4 526.8 235.9 527.6 236.0 528.5 234.9 529.4 236.0 530.3 235.4 531.2 234.9 532.0 234.0 532.9 234.3 533.8 234.1 534.8 233.9 535.8 233.5 536.7 232.6 537.7 234.6 538.7 233.8 539.7 233.6 540.6 235.0 541.6 234.7 542.6 233.6 543.6 234.5 544.5 234.4 545.5 235.3 546.5 233.3 547.4 234.3 548.4 234.5 549.4 235.6 550.3 233.8 551.3 232.5 552.3 233.6 553.2 234.6 554.2 234.9 555.2 235.5 556.1 234.5 557.1 233.6 558.1 234.7 559.0 234.0 560.0 233.8 561.0 234.0 562.0 234.9 563.0 233.4 564.0 233.4 565.0 234.1 566.0 234.2 567.0 233.7 568.0 233.6 568.9 234.5 569.9 235.1 570.9 234.6 571.9 234.5 572.8 234.8 573.8 232.5 574.8 233.0 575.7 233.7 576.7 233.5 577.7 233.7 578.6 234.6 579.6 233.8 580.6 234.5 581.5 233.5 582.5 234.4 583.5 236.2 584.5 235.0 585.4 235.8 586.4 236.2 587.4 235.5 588.4 236.4 589.3 236.3 590.3 236.8 591.3 236.1 592.3 235.7 593.4 236.2 594.4 236.7 595.5 237.7 596.5 237.4 597.4 237.9 598.3 238.7 599.0 238.9 599.7 237.1 600.4 237.9 601.1 235.4 601.8 235.2 602.8 236.3 603.8 236.2 604.8 235.4 605.8 236.0 606.8 235.7 607.8 237.0 608.8 236.9 609.8 236.0 610.7 236.9 611.7 236.4 612.7 236.6 613.6 236.8 614.6 236.4 615.6 237.1 616.5 237.2 617.5 237.2 618.6 237.5 619.6 236.4 620.7 235.4 621.7 236.0 622.8 236.3 623.8 236.4 624.7 237.1 625.7 237.5 626.7 237.1 627.6 237.3 628.6 236.9 629.6 238.6 630.5 237.9 631.5 237.5 632.5 237.6 633.5 238.2 634.4 239.7 635.4 239.2 636.4 237.6 637.4 238.7 638.3 239.1 639.3 239.4 640.3 239.3 641.3 238.7 642.3 239.4 643.2 238.7 644.2 237.5 645.2 238.6 646.2 238.6 647.1 239.8 648.1 239.8 649.1 238.4 650.0 239.6 650.8 239.9 651.7 239.2 652.6 239.2 653.4 241.0 654.3 241.5 655.3 241.0 656.3 239.6 657.3 241.6 658.3 241.2 659.3 241.1 660.3 241.5 661.3 241.0 662.1 242.8 662.8 242.9 663.6 243.5 665.8 246.5 667.2 258.4 669.0 270.9 674.3 319.6" fill="none" stroke="#000" stroke-width="3.0" stroke-linejoin="round" stroke-linecap="round"/>
<path d="M600.9 215.5V226" stroke="#000" stroke-width="1.6"/>
<path d="M597.8 224.4H604L600.9 232.3Z" fill="#000"/>
<text x="604.30" y="224.20" style="font-size:21px">Y</text>
<text x="662.70" y="224.90" style="font-size:21px">X</text>
<path d="M667.4 235V231.2H675V235" fill="none" stroke="#000" stroke-width="2.2"/>
<rect x="454.5" y="393.6" width="227.10" height="135.20" fill="none" stroke="#000" stroke-width="2.4"/>
<path d="M464.89 393.60v4.5M464.89 528.80v-4.5" stroke="#000" stroke-width="1.5"/>
<path d="M499.73 393.60v4.5M499.73 528.80v-4.5" stroke="#000" stroke-width="1.5"/>
<path d="M534.56 393.60v4.5M534.56 528.80v-4.5" stroke="#000" stroke-width="1.5"/>
<path d="M569.40 393.60v4.5M569.40 528.80v-4.5" stroke="#000" stroke-width="1.5"/>
<path d="M604.24 393.60v4.5M604.24 528.80v-4.5" stroke="#000" stroke-width="1.5"/>
<path d="M639.07 393.60v4.5M639.07 528.80v-4.5" stroke="#000" stroke-width="1.5"/>
<path d="M673.90 393.60v4.5M673.90 528.80v-4.5" stroke="#000" stroke-width="1.5"/>
<path d="M454.50 517.44h4.5" stroke="#000" stroke-width="1.5"/>
<path d="M454.50 498.23h4.5" stroke="#000" stroke-width="1.5"/>
<path d="M454.50 479.01h4.5" stroke="#000" stroke-width="1.5"/>
<path d="M454.50 459.80h4.5" stroke="#000" stroke-width="1.5"/>
<path d="M454.50 440.59h4.5" stroke="#000" stroke-width="1.5"/>
<path d="M454.50 421.38h4.5" stroke="#000" stroke-width="1.5"/>
<path d="M454.50 402.16h4.5" stroke="#000" stroke-width="1.5"/>
<path d="M464.3 427.3 466.7 424.0 467.8 425.2 469.6 430.8 473.1 428.7 474.9 433.4 477.2 430.4 481.9 428.1 485.4 430.8 491.2 431.0 493.0 433.9 497.0 433.4 500.5 431.0 502.9 434.5 511.0 433.4 512.8 431.6 514.6 434.0 528.6 432.8 530.9 436.3 538.5 439.9 539.4 433.7 541.3 434.8 599.7 446.5 601.2 440.8 610.0 440.6 612.5 440.8 613.0 443.0 613.6 440.8 630.0 441.2 630.6 443.5 631.2 441.4 648.0 442.0 648.6 444.0 649.2 442.2 655.0 443.2 663.5 446.0 665.0 448.7 674.2 500.2" fill="none" stroke="#ff2b3a" stroke-width="2.9" stroke-linejoin="round" stroke-linecap="round"/>
<path d="M464.9 449.3 465.3 449.1 465.6 448.7 466.0 446.3 466.3 447.2 466.7 445.9 467.0 447.3 467.3 447.6 467.5 449.4 467.8 448.2 468.1 451.8 468.4 452.1 469.2 450.3 470.0 451.6 470.9 451.3 471.7 449.2 472.5 451.5 473.0 451.0 473.5 452.0 473.9 452.4 474.4 453.3 474.9 454.5 475.5 453.9 476.0 451.6 476.6 452.3 477.2 450.7 478.0 450.4 478.8 451.1 479.5 452.0 480.3 451.5 481.1 450.0 481.9 449.6 482.7 449.6 483.5 450.8 484.3 451.7 485.1 451.0 485.9 451.8 486.8 451.6 487.6 453.0 488.4 449.7 489.2 449.7 490.0 451.8 490.6 453.2 491.2 452.8 491.8 454.2 492.3 453.2 492.9 453.7 493.5 454.9 494.3 456.3 495.2 456.0 496.0 454.4 496.9 455.1 497.7 454.1 498.6 454.6 499.4 453.3 500.2 454.8 500.9 454.6 501.7 455.8 502.5 455.7 503.2 456.0 504.0 457.4 504.8 456.6 505.6 456.7 506.3 455.9 507.1 456.6 507.9 454.9 508.7 456.1 509.4 456.4 510.2 454.5 511.0 456.1 511.9 456.6 512.8 455.1 513.6 453.5 514.5 453.4 515.4 455.0 516.2 457.1 517.1 456.0 518.0 456.4 518.8 455.1 519.6 454.3 520.3 455.2 521.1 453.4 521.9 454.1 522.7 454.5 523.4 453.8 524.2 454.0 525.0 452.8 525.6 454.4 526.2 454.8 526.8 453.3 527.4 454.5 528.0 455.4 528.6 457.4 529.2 457.6 529.8 458.2 530.5 458.4 531.3 459.2 532.0 459.8 532.8 458.7 533.5 458.0 534.3 460.5 535.0 460.0 535.7 459.8 536.4 459.1 537.1 457.6 537.9 456.7 538.6 458.7 539.3 458.4 540.0 457.7 540.9 457.2 541.7 457.4 542.6 456.9 543.4 457.6 544.3 457.3 545.1 457.3 546.0 458.2 546.8 459.6 547.7 455.8 548.5 458.2 549.3 458.1 550.2 456.1 551.0 457.5 551.8 457.5 552.6 457.1 553.4 457.2 554.2 456.4 555.0 458.0 557.6 452.2 559.5 460.0 561.2 475.6 563.0 452.8 564.2 449.2 565.4 492.4 566.6 454.0 567.8 480.4 569.0 394.5 569.4 394.5 570.8 452.8 572.3 462.0 573.8 472.0 575.0 460.0 576.2 452.8 577.4 463.6 581.0 462.4 584.6 458.8 586.4 467.2 588.2 458.8 590.6 469.6 595.0 467.2 598.3 471.0 600.0 461.0 605.0 461.8 615.0 461.4 625.0 460.9 625.8 460.4 626.5 461.6 627.3 461.5 628.1 460.5 628.8 462.8 629.6 462.2 630.4 463.0 631.2 464.3 631.9 463.3 632.7 462.5 633.5 463.1 634.2 464.7 635.0 463.0 635.8 464.4 636.7 464.5 637.5 463.3 638.3 464.3 639.2 464.6 640.0 463.6 640.8 463.8 641.7 464.6 642.5 463.2 643.3 463.5 644.2 465.0 645.0 464.3 645.8 463.2 646.7 464.4 647.5 466.1 648.3 463.4 649.2 465.4 650.0 465.4 650.8 464.8 651.7 465.5 652.5 464.6 653.3 466.4 654.2 466.7 655.0 464.7 655.8 465.4 656.6 465.8 657.4 465.4 658.2 466.4 659.0 465.4 659.8 466.9 660.6 466.3 661.4 466.7 662.2 467.3 663.0 467.1 666.0 471.4 674.2 521.7" fill="none" stroke="#000" stroke-width="2.1" stroke-linejoin="round" stroke-linecap="round"/>
<path d="M466.4 437.6V442.1" stroke="#000" stroke-width="1.6"/>
<path d="M469.3 437.6V442.1" stroke="#000" stroke-width="1.6"/>
<path d="M474.3 437.8V442.4" stroke="#000" stroke-width="1.6"/>
<path d="M482.1 438.2V442.7" stroke="#000" stroke-width="1.6"/>
<path d="M492.6 439V443.5" stroke="#000" stroke-width="1.6"/>
<path d="M501.1 439.8V444.3" stroke="#000" stroke-width="1.6"/>
<path d="M512.5 440.2V444.8" stroke="#000" stroke-width="1.6"/>
<path d="M515.2 440.2V444.8" stroke="#000" stroke-width="1.6"/>
<path d="M530.1 442.7V446.8" stroke="#000" stroke-width="1.6"/>
<path d="M538.5 443.7V447.6" stroke="#000" stroke-width="1.6"/>
<path d="M601.2 453.6V457.2" stroke="#000" stroke-width="1.6"/>
<path d="M613.2 452.7V456" stroke="#000" stroke-width="1.6"/>
<path d="M630 453.7V457.4" stroke="#000" stroke-width="1.6"/>
<path d="M632.3 453.7V457.4" stroke="#000" stroke-width="1.6"/>
<path d="M647.9 454.3V458" stroke="#000" stroke-width="1.6"/>
<path d="M652.7 455V458.8" stroke="#000" stroke-width="1.6"/>
<path d="M657.5 455.6V459.4" stroke="#000" stroke-width="1.6"/>
<path d="M661.8 456.4V460.2" stroke="#000" stroke-width="1.6"/>
<path d="M601.2 420.8V431" stroke="#000" stroke-width="1.6"/>
<path d="M598.1 429.2H604.3L601.2 437.8Z" fill="#000"/>
<text x="593.00" y="415.60" style="font-size:21px">Y</text>
<text x="661.80" y="429.60" style="font-size:21px">X</text>
<path d="M667.6 441.8V438.4H675V441.8" fill="none" stroke="#000" stroke-width="2.2"/>
<path d="M475 510.3H497.7" stroke="#ff2b3a" stroke-width="2.4"/>
<text x="502.80" y="517.60" style="font-size:21px;fill:#ff2b3a;stroke:#ff2b3a">corrected (offset)</text>
<text x="475.30" y="162.60" style="font-size:24px">-100</text>
<text x="561.20" y="162.60" style="font-size:24px">0</text>
<text x="617.80" y="162.60" style="font-size:24px">100</text>
<text x="475.40" y="358.80" style="font-size:24px">-100</text>
<text x="561.80" y="358.80" style="font-size:24px">0</text>
<text x="618.80" y="358.80" style="font-size:24px">100</text>
<text x="475.40" y="550.50" style="font-size:24px">-100</text>
<text x="561.80" y="550.50" style="font-size:24px">0</text>
<text x="618.80" y="550.50" style="font-size:24px">100</text>
<text x="436.60" y="42.00" style="font-size:24px">2</text>
<text x="436.60" y="79.80" style="font-size:24px">0</text>
<text x="430.00" y="117.40" style="font-size:24px">-2</text>
<text x="410.80" y="234.20" style="font-size:24px">200</text>
<text x="432.60" y="269.80" style="font-size:24px">0</text>
<text x="400.30" y="303.10" style="font-size:24px">-200</text>
<text x="400.30" y="336.50" style="font-size:24px">-400</text>
<text x="421.20" y="430.60" style="font-size:24px">50</text>
<text x="429.90" y="468.60" style="font-size:24px">0</text>
<text x="414.50" y="506.60" style="font-size:24px">-50</text>
<text x="512.40" y="182.00" style="font-size:26px;font-style:italic" textLength="13.6" lengthAdjust="spacingAndGlyphs">μ</text>
<text x="529.40" y="178.20" style="font-size:19px">’</text>
<text x="525.00" y="186.40" style="font-size:18.5px">D,</text>
<path d="M547.6 186.4V177.6" stroke="#000" stroke-width="1.6"/><path d="M547.6 174.4L550.8 179.4H544.4Z" fill="#000"/>
<text x="552.40" y="181.80" style="font-size:25px" textLength="57" lengthAdjust="spacingAndGlyphs">(μeV)</text>
<text x="512.40" y="378.40" style="font-size:26px;font-style:italic" textLength="13.6" lengthAdjust="spacingAndGlyphs">μ</text>
<text x="529.40" y="374.60" style="font-size:19px">’</text>
<text x="525.00" y="382.80" style="font-size:18.5px">D,</text>
<path d="M547.6 382.8V374.0" stroke="#000" stroke-width="1.6"/><path d="M547.6 370.8L550.8 375.8H544.4Z" fill="#000"/>
<text x="552.40" y="378.20" style="font-size:25px" textLength="57" lengthAdjust="spacingAndGlyphs">(μeV)</text>
<text x="512.40" y="572.80" style="font-size:26px;font-style:italic" textLength="13.6" lengthAdjust="spacingAndGlyphs">μ</text>
<text x="529.40" y="569.00" style="font-size:19px">’</text>
<text x="525.00" y="577.20" style="font-size:18.5px">D,</text>
<path d="M547.6 577.2V568.4" stroke="#000" stroke-width="1.6"/><path d="M547.6 565.2L550.8 570.2H544.4Z" fill="#000"/>
<text x="552.40" y="572.60" style="font-size:25px" textLength="57" lengthAdjust="spacingAndGlyphs">(μeV)</text>
<text x="134.40" y="577.40" style="font-size:24.5px">ε</text>
<text x="151.30" y="577.40" style="font-size:24.5px">-</text>
<text x="163.60" y="577.40" style="font-size:24.5px">μ</text>
<path d="M165.8 562.2H180" stroke="#000" stroke-width="1.3"/>
<text x="184.70" y="577.40" style="font-size:24.5px">(μeV)</text>
<text transform="translate(16.00,195.90) rotate(-90)" x="0.00" y="0" style="font-size:26px;font-style:italic" textLength="13.6" lengthAdjust="spacingAndGlyphs">μ</text>
<text transform="translate(12.90,176.20) rotate(-90)" x="-2.00" y="0" style="font-size:19px">’</text>
<text transform="translate(24.80,180.00) rotate(-90)" x="-1.00" y="0" style="font-size:18.5px">D</text>
<text transform="translate(24.80,167.40) rotate(-90)" x="-1.00" y="0" style="font-size:18.5px">,</text>
<path d="M23.4 161.2H12.5" stroke="#000" stroke-width="1.5"/><path d="M9.4 161.2L14.4 158.1V164.3Z" fill="#000"/>
<text transform="translate(20.30,152.30) rotate(-90)" x="-1.00" y="0" style="font-size:25px" textLength="55" lengthAdjust="spacingAndGlyphs">(μeV)</text>
<text transform="translate(17.40,485.30) rotate(-90)" x="-1.00" y="0" style="font-size:24.5px;font-style:italic">eV</text>
<text transform="translate(24.10,462.50) rotate(-90)" x="-1.00" y="0" style="font-size:17.5px">eff</text>
<text transform="translate(17.40,436.00) rotate(-90)" x="-1.00" y="0" style="font-size:25px" textLength="54.6" lengthAdjust="spacingAndGlyphs">(μeV)</text>
<text transform="translate(409.80,143.50) rotate(-90)" x="0.00" y="0" style="font-size:25px;font-style:italic">K</text>
<text transform="translate(417.80,130.40) rotate(-90)" x="0.00" y="0" style="font-size:17.5px;font-style:italic">J</text>
<text transform="translate(410.30,115.40) rotate(-90)" x="-1.00" y="0" style="font-size:25px">(10</text>
<text transform="translate(400.00,81.80) rotate(-90)" x="-1.00" y="0" style="font-size:17px">-15</text>
<text transform="translate(410.10,54.80) rotate(-90)" x="0.00" y="0" style="font-size:25px">AeV)</text>
<text transform="translate(387.20,306.00) rotate(-90)" x="0.00" y="0" style="font-size:25px;font-style:italic">K</text>
<text transform="translate(396.30,290.50) rotate(-90)" x="0.00" y="0" style="font-size:17.5px;font-style:italic">J,</text>
<text transform="translate(397.40,276.00) rotate(-90)" x="0.00" y="0" style="font-size:17.5px;font-style:italic">ε</text>
<text transform="translate(401.00,267.00) rotate(-90)" x="-1.00" y="0" style="font-size:12.5px;font-style:italic">G</text>
<text transform="translate(386.30,259.00) rotate(-90)" x="-1.00" y="0" style="font-size:25px">(fW)</text>
<text transform="translate(405.30,516.00) rotate(-90)" x="-1.00" y="0" style="font-size:24.5px">ε</text>
<text transform="translate(405.30,497.60) rotate(-90)" x="-1.00" y="0" style="font-size:24.5px">-</text>
<text transform="translate(405.50,484.60) rotate(-90)" x="-2.00" y="0" style="font-size:24.5px">μ</text>
<text transform="translate(404.60,465.30) rotate(-90)" x="-1.00" y="0" style="font-size:25px" textLength="55" lengthAdjust="spacingAndGlyphs">(μeV)</text>
<path d="M389.8 475V484.6" stroke="#000" stroke-width="1.3"/>
<path d="M391.4 515.5C388.6 514.5 392.4 511.5 390.4 510.6C388.6 509.6 392.4 507.6 389.8 506.4" fill="none" stroke="#000" stroke-width="1.1"/>
<path d="M232.6 49.4H236V57.2H230.8" fill="none" stroke="#000" stroke-width="2.4"/>
<text x="238.20" y="63.70" style="font-size:21px">X</text>
<path d="M237.2 118H215" stroke="#000" stroke-width="2.4"/>
<path d="M209.6 118L218.4 114.2L216.4 118L218.4 121.8Z" fill="#000"/>
<text x="240.20" y="124.60" style="font-size:21px">Y</text>
<text x="4.90" y="65.80" style="font-size:27px;font-weight:bold;font-family:'Liberation Sans';stroke:none">a</text>
<text x="471.00" y="35.40" style="font-size:27px;font-weight:bold;font-family:'Liberation Sans';stroke:none">b</text>
<text x="473.00" y="228.00" style="font-size:27px;font-weight:bold;font-family:'Liberation Sans';stroke:none">c</text>
<text x="472.70" y="421.60" style="font-size:27px;font-weight:bold;font-family:'Liberation Sans';stroke:none">d</text>
<text x="2.90" y="348.60" style="font-size:27px;font-weight:bold;font-family:'Liberation Sans';stroke:none">e</text>
<rect x="72.2" y="44.7" width="272.80" height="202.30" fill="none" stroke="#000" stroke-width="2.2"/>
<rect x="72.2" y="324.0" width="272.80" height="202.80" fill="none" stroke="#000" stroke-width="2.2"/></svg>
</body></html>
